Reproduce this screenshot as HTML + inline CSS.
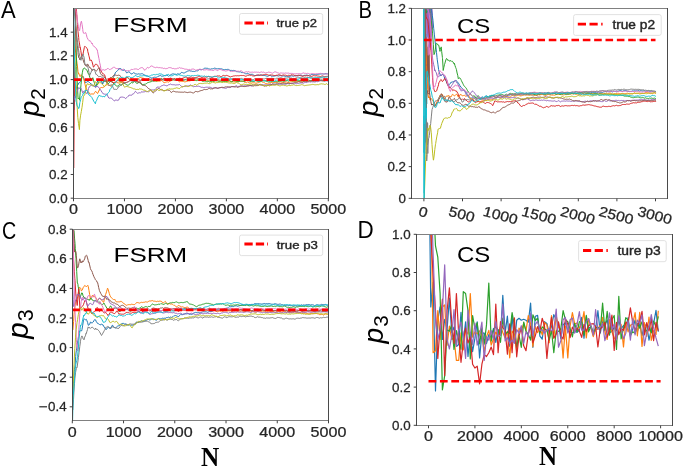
<!DOCTYPE html><html><head><meta charset="utf-8"><style>html,body{margin:0;padding:0;background:#fff;}svg{display:block;will-change:transform;}text{font-family:"Liberation Sans", sans-serif;}.serifb{font-family:"Liberation Serif",serif;font-weight:bold;}</style></head><body>
<svg width="685" height="468" viewBox="0 0 685 468">
<rect width="685" height="468" fill="#fff"/>
<defs>
<clipPath id="clipA"><rect x="73.5" y="8.5" width="255" height="190"/></clipPath>
<clipPath id="clipB"><rect x="411.5" y="8.5" width="256" height="190"/></clipPath>
<clipPath id="clipC"><rect x="72.5" y="229.5" width="256" height="191"/></clipPath>
<clipPath id="clipD"><rect x="416.5" y="234.5" width="256" height="191"/></clipPath>
</defs>
<g clip-path="url(#clipA)">
<polyline points="74.0,110.0 74.7,95.1 75.0,91.6 75.4,90.6 76.1,89.3 76.8,86.9 77.0,85.5 77.5,85.4 78.2,84.5 78.9,82.8 79.6,82.5 80.0,82.2 80.3,81.7 81.0,80.6 81.7,77.7 82.4,77.1 83.1,76.4 83.8,77.9 84.0,78.6 84.5,79.6 85.2,82.6 85.9,82.3 86.6,82.2 87.3,81.7 88.0,81.4 88.0,81.8 88.7,81.8 89.4,82.5 90.1,83.0 90.8,83.9 91.5,84.2 92.2,84.6 92.9,85.7 93.6,85.9 94.0,86.1 94.3,86.1 95.0,86.9 95.7,86.7 96.4,85.3 97.1,82.7 97.8,80.8 98.5,80.1 99.2,80.2 99.9,80.5 100.0,79.8 100.6,80.7 101.3,82.1 102.0,82.1 102.7,84.0 103.4,82.1 104.1,80.8 104.8,80.2 105.0,80.5 105.5,81.3 106.2,81.9 106.9,82.5 107.6,82.1 108.3,81.4 109.0,81.3 109.7,80.8 110.0,81.2 110.4,81.1 111.1,79.9 111.8,79.5 112.5,78.8 113.2,77.8 113.9,76.3 114.0,76.2 114.6,74.8 115.3,72.8 116.0,71.9 116.7,71.4 117.4,70.7 118.1,70.2 118.8,69.2 119.0,68.2 119.5,69.0 120.2,68.3 120.9,69.0 121.6,69.3 122.3,70.2 123.0,70.3 123.7,70.3 124.4,69.6 125.0,70.7 125.1,70.9 125.8,71.3 126.5,72.8 127.2,72.8 127.9,72.1 128.6,71.9 129.3,71.8 130.0,72.9 130.7,73.6 131.4,74.0 132.0,73.5 132.1,73.9 132.8,73.3 133.5,72.7 134.2,73.0 134.9,73.2 135.6,74.1 136.3,74.0 137.0,73.9 137.7,74.2 138.4,73.9 139.0,73.8 139.1,73.9 139.8,74.1 140.5,74.0 141.2,73.8 141.9,73.7 142.6,73.8 143.3,74.1 144.0,74.9 144.7,75.1 145.3,75.2 145.4,75.4 146.1,75.8 146.8,75.8 147.5,76.1 148.2,76.3 148.9,76.6 149.6,77.3 150.3,77.7 151.0,78.0 151.7,77.9 151.8,78.4 152.4,77.8 153.1,77.5 153.8,77.4 154.5,77.2 155.2,77.4 155.9,77.2 156.6,77.2 157.3,77.0 158.0,76.3 158.7,76.1 159.4,75.8 160.0,75.7 160.1,75.5 160.8,75.6 161.5,76.2 162.2,76.4 162.9,75.8 163.6,76.0 164.3,75.6 165.0,75.4 165.7,75.7 166.4,75.1 167.1,75.4 167.8,75.6 168.5,76.3 169.2,75.7 169.9,75.4 170.6,74.8 171.3,74.4 172.0,74.3 172.7,73.9 173.0,74.1 173.4,73.9 174.1,74.0 174.8,74.3 175.5,74.2 176.2,74.4 176.9,74.4 177.6,73.8 178.3,74.0 179.0,73.9 179.7,74.2 180.4,73.4 181.1,72.8 181.8,72.3 182.5,72.6 183.2,72.8 183.9,73.2 184.6,72.8 185.3,72.3 186.0,72.2 186.0,72.1 186.7,71.6 187.4,71.2 188.1,71.0 188.8,70.8 189.5,70.7 190.2,71.0 190.9,71.0 191.6,71.1 192.3,71.4 193.0,71.4 193.7,71.4 194.4,71.5 195.1,71.2 195.8,71.0 196.5,70.8 197.2,71.0 197.9,70.6 198.6,70.2 199.3,69.5 200.0,69.5 200.0,69.6 200.7,69.7 201.4,69.7 202.1,69.4 202.8,69.4 203.5,69.0 204.2,68.4 204.9,68.2 205.6,68.2 206.3,68.3 207.0,68.2 207.7,68.4 208.4,68.8 209.1,68.9 209.8,69.1 210.5,69.2 211.2,69.0 211.9,68.6 212.5,68.8 212.6,68.8 213.3,68.7 214.0,68.4 214.7,68.1 215.4,68.3 216.1,68.7 216.8,68.7 217.5,68.8 218.2,68.7 218.9,68.6 219.6,68.7 220.3,68.8 221.0,68.9 221.7,68.9 222.0,69.2 222.4,69.2 223.1,69.4 223.8,69.7 224.5,69.7 225.2,69.4 225.9,69.6 226.6,69.5 227.3,69.4 228.0,69.3 228.7,69.5 229.4,70.1 230.0,69.9 230.1,70.4 230.8,70.5 231.5,70.4 232.2,70.6 232.9,70.6 233.6,70.4 234.3,70.5 235.0,70.7 235.7,70.9 236.4,71.7 237.1,71.7 237.8,71.7 238.5,71.8 239.2,71.9 239.9,71.9 240.0,71.8 240.6,71.9 241.3,72.5 242.0,72.5 242.7,72.6 243.4,72.6 244.1,72.7 244.8,73.2 245.5,73.9 246.2,73.7 246.9,73.8 247.6,73.4 248.3,73.7 249.0,74.2 249.7,74.2 250.0,74.6 250.4,74.4 251.1,74.2 251.8,74.4 252.5,74.3 253.2,74.9 253.9,75.1 254.6,75.5 255.3,75.5 256.0,75.5 256.7,75.2 257.4,74.9 258.1,75.5 258.8,75.4 259.5,75.4 260.2,75.0 260.9,74.7 261.6,75.0 262.3,75.3 263.0,75.8 263.7,75.4 264.4,75.5 265.1,75.6 265.8,75.8 266.5,76.0 267.2,76.2 267.9,76.3 268.6,75.9 269.3,75.5 270.0,75.4 270.0,75.6 270.7,75.5 271.4,76.2 272.1,76.2 272.8,76.1 273.5,76.2 274.2,76.2 274.9,75.9 275.6,75.8 276.3,75.6 277.0,75.8 277.7,75.8 278.4,76.0 279.1,76.0 279.8,75.5 280.5,75.6 281.2,75.8 281.9,76.1 282.6,76.0 283.3,75.9 284.0,75.9 284.7,76.2 285.4,76.5 286.1,76.4 286.8,76.2 287.5,76.4 288.2,76.4 288.9,76.4 289.6,76.2 290.0,76.4 290.3,76.1 291.0,76.3 291.7,75.7 292.4,76.0 293.1,76.1 293.8,76.2 294.5,75.9 295.2,75.8 295.9,75.6 296.6,75.7 297.3,75.9 298.0,76.0 298.7,75.7 299.4,75.5 300.1,75.1 300.8,75.2 301.5,75.3 302.2,75.8 302.9,75.8 303.6,75.7 304.3,75.4 305.0,75.3 305.7,75.3 306.4,75.1 307.1,75.3 307.8,75.2 308.5,75.5 309.2,75.1 309.9,75.1 310.0,75.3 310.6,75.2 311.3,74.5 312.0,74.6 312.7,74.6 313.4,74.6 314.1,74.5 314.8,74.5 315.5,74.6 316.2,74.7 316.9,74.7 317.6,74.4 318.3,74.2 319.0,74.3 319.7,74.0 320.4,74.0 321.1,73.9 321.8,73.9 322.5,73.8 323.2,74.0 323.9,73.9 324.6,73.9 325.3,73.7 326.0,73.6 326.7,73.8 327.4,73.8 328.0,74.3" fill="none" stroke="#1f77b4" stroke-width="1.0" stroke-linejoin="round"/>
<polyline points="73.8,40.0 74.5,43.0 75.2,48.4 75.5,52.3 75.9,53.6 76.6,60.3 77.0,63.9 77.3,65.1 78.0,71.6 78.7,74.2 79.0,73.7 79.4,74.6 80.1,76.6 80.8,75.8 80.9,74.7 81.5,75.2 82.2,75.7 82.9,77.2 83.0,78.0 83.6,79.0 84.3,81.1 85.0,84.3 85.7,87.1 86.0,88.5 86.4,88.5 87.1,90.4 87.8,91.9 88.5,91.9 89.2,93.0 89.9,93.9 90.0,93.7 90.6,94.4 91.3,94.0 92.0,93.8 92.7,94.0 93.4,94.3 94.1,93.2 94.8,92.5 95.3,91.9 95.5,91.2 96.2,91.9 96.9,92.9 97.6,93.5 98.3,92.0 99.0,90.7 99.0,90.9 99.7,88.7 100.4,87.8 101.1,87.5 101.8,87.5 102.5,87.6 103.2,87.1 103.2,87.0 103.9,87.3 104.6,86.5 105.3,85.7 106.0,84.9 106.7,84.8 107.4,84.4 108.0,85.0 108.1,85.5 108.8,85.1 109.5,85.4 110.2,85.9 110.9,86.0 111.6,86.2 112.3,84.8 112.4,85.0 113.0,84.2 113.7,83.3 114.4,83.1 115.1,82.3 115.8,82.4 116.5,82.1 117.2,82.4 117.9,83.2 118.0,82.5 118.6,83.1 119.3,83.1 120.0,83.1 120.7,82.7 121.4,82.7 122.1,81.7 122.8,81.8 123.0,81.8 123.5,81.2 124.2,80.6 124.9,80.0 125.6,78.8 126.3,77.6 127.0,77.6 127.7,77.6 128.0,77.6 128.4,78.1 129.1,78.7 129.8,79.1 130.5,78.9 131.2,78.9 131.9,79.3 132.6,79.5 133.3,79.3 134.0,79.5 134.7,79.5 135.4,79.9 136.1,80.0 136.8,79.7 137.5,79.2 138.2,79.0 138.9,78.2 139.6,77.8 140.0,77.4 140.3,77.4 141.0,77.5 141.7,77.9 142.4,78.0 143.1,78.4 143.8,78.2 144.5,78.8 145.2,79.0 145.9,79.8 146.6,80.1 147.3,79.7 148.0,79.5 148.7,79.4 149.4,80.0 150.0,80.4 150.1,80.7 150.8,81.0 151.5,80.5 152.2,80.7 152.9,80.5 153.6,80.8 154.3,80.9 155.0,81.0 155.7,81.1 156.4,81.3 157.1,81.3 157.8,81.2 158.5,81.2 159.2,81.4 159.9,80.9 160.0,81.1 160.6,80.8 161.3,80.6 162.0,80.4 162.7,81.3 163.4,82.1 164.1,82.9 164.8,82.5 165.5,82.3 166.2,82.1 166.9,81.8 167.6,81.8 168.3,82.2 169.0,81.8 169.7,81.3 170.4,81.0 171.1,80.6 171.8,80.3 172.5,80.1 173.2,79.8 173.9,80.2 174.6,80.2 175.3,80.2 176.0,80.3 176.7,80.3 177.4,80.1 178.1,80.8 178.8,81.5 179.5,81.8 180.0,81.5 180.2,81.3 180.9,81.4 181.6,81.4 182.3,81.4 183.0,81.6 183.7,81.4 184.4,81.8 185.1,81.8 185.8,81.7 186.5,81.5 187.2,81.3 187.9,81.1 188.6,80.9 189.3,80.9 190.0,81.1 190.7,80.5 191.4,80.1 192.1,80.2 192.8,80.0 193.5,80.1 194.2,79.9 194.9,80.0 195.6,80.1 196.3,80.0 197.0,79.5 197.7,79.7 198.4,80.1 199.1,80.6 199.8,80.2 200.0,80.1 200.5,80.3 201.2,80.2 201.9,80.0 202.6,80.2 203.3,79.8 204.0,79.8 204.7,80.0 205.4,79.8 206.1,80.1 206.8,80.0 207.5,80.4 208.2,80.7 208.9,81.0 209.6,80.9 210.3,80.9 211.0,80.8 211.7,80.8 212.4,80.5 213.1,80.5 213.8,80.9 214.5,80.9 215.2,80.8 215.9,80.5 216.6,80.6 217.3,80.3 218.0,80.3 218.7,80.4 219.4,80.8 220.1,80.8 220.8,80.6 221.5,80.6 222.2,80.8 222.9,81.0 223.6,80.6 224.3,80.9 225.0,81.0 225.0,80.7 225.7,80.7 226.4,81.0 227.1,81.1 227.8,81.4 228.5,81.3 229.2,81.3 229.9,82.1 230.6,81.7 231.3,81.5 232.0,81.2 232.7,81.6 233.4,81.9 234.1,81.9 234.8,82.0 235.5,81.9 236.2,81.8 236.9,81.5 237.6,81.7 238.3,81.7 239.0,81.9 239.7,81.2 240.4,81.2 241.1,81.2 241.8,81.3 242.5,81.2 243.2,81.1 243.9,81.7 244.6,82.2 245.3,82.4 246.0,82.2 246.7,82.3 247.4,81.9 248.1,82.3 248.8,82.7 249.5,82.9 250.0,83.0 250.2,82.9 250.9,83.0 251.6,83.0 252.3,82.8 253.0,82.9 253.7,82.8 254.4,82.8 255.1,83.1 255.8,83.1 256.5,83.1 257.2,82.8 257.9,83.0 258.6,82.6 259.3,82.2 260.0,81.9 260.7,81.7 261.4,81.5 262.1,82.0 262.8,82.2 263.5,82.3 264.2,82.6 264.9,83.0 265.6,83.6 266.3,83.5 267.0,83.8 267.7,83.8 268.4,83.2 269.1,83.1 269.8,83.1 270.0,82.9 270.5,83.0 271.2,82.6 271.9,82.4 272.6,82.4 273.3,82.5 274.0,82.2 274.7,82.6 275.4,82.5 276.1,82.7 276.8,82.8 277.5,82.0 278.2,82.0 278.9,81.8 279.6,81.8 280.3,81.9 281.0,81.8 281.7,82.3 282.4,82.4 283.1,82.6 283.8,82.4 284.5,82.2 285.2,82.3 285.9,82.0 286.6,81.9 287.3,82.3 288.0,82.4 288.7,82.4 289.4,82.7 290.0,82.2 290.1,82.2 290.8,81.7 291.5,81.4 292.2,81.4 292.9,81.6 293.6,81.3 294.3,81.6 295.0,81.5 295.7,81.3 296.4,81.2 297.1,81.4 297.8,81.7 298.5,81.6 299.2,81.8 299.9,81.5 300.6,81.7 301.3,81.8 302.0,81.8 302.7,82.1 303.4,81.6 304.1,81.1 304.8,80.9 305.5,81.0 306.2,81.3 306.9,81.5 307.6,81.4 308.3,81.4 309.0,80.7 309.7,80.8 310.0,81.3 310.4,81.0 311.1,80.8 311.8,80.8 312.5,80.7 313.2,80.6 313.9,80.8 314.6,80.5 315.3,80.4 316.0,80.8 316.7,80.9 317.4,81.1 318.1,81.1 318.8,81.0 319.5,80.5 320.2,80.4 320.9,80.6 321.6,80.7 322.3,80.8 323.0,80.8 323.7,80.4 324.4,80.0 325.1,79.9 325.8,79.8 326.5,80.0 327.2,80.2 327.9,80.4 328.0,80.3" fill="none" stroke="#ff7f0e" stroke-width="1.0" stroke-linejoin="round"/>
<polyline points="75.3,8.0 76.0,42.1 76.7,66.5 77.0,77.1 77.4,86.1 78.0,97.6 78.1,99.0 78.8,98.2 79.5,98.8 79.5,100.2 80.2,92.8 80.9,85.8 81.0,84.5 81.6,78.0 82.3,72.8 83.0,69.3 83.0,68.9 83.7,68.6 84.4,68.1 85.1,68.4 85.8,69.5 86.0,69.3 86.5,69.7 87.2,70.8 87.9,72.8 88.6,74.2 89.0,74.3 89.3,75.6 90.0,77.8 90.7,79.0 91.4,79.2 92.1,79.5 92.7,78.1 92.8,77.7 93.5,80.1 94.2,82.3 94.9,84.8 95.6,85.6 96.3,84.9 97.0,85.3 97.7,83.8 98.0,83.4 98.4,82.7 99.1,81.2 99.8,79.7 100.5,80.4 101.2,81.0 101.9,80.7 102.6,80.9 103.3,80.9 104.0,80.9 104.7,81.5 105.4,81.1 106.0,81.0 106.1,81.0 106.8,81.8 107.5,82.7 108.2,83.8 108.9,82.9 109.6,82.5 110.3,81.4 111.0,81.3 111.7,81.9 112.0,81.4 112.4,82.0 113.1,83.0 113.8,83.4 114.5,84.2 115.2,85.1 115.9,85.4 116.6,86.0 117.3,86.1 118.0,86.1 118.7,85.6 119.0,85.4 119.4,84.4 120.1,84.7 120.8,85.0 121.5,85.3 122.2,84.2 122.9,83.6 123.6,83.0 124.0,82.8 124.3,83.3 125.0,83.7 125.7,84.1 126.4,84.6 127.1,85.1 127.8,85.2 128.2,85.1 128.5,85.0 129.2,84.5 129.9,83.9 130.6,83.1 131.3,82.6 132.0,82.5 132.7,83.0 133.0,82.8 133.4,82.0 134.1,82.0 134.8,81.3 135.5,82.2 136.2,83.0 136.9,83.5 137.6,83.3 138.3,83.0 138.7,82.3 139.0,82.2 139.7,82.8 140.4,83.3 141.1,83.8 141.8,84.6 142.5,84.6 143.2,84.5 143.9,84.4 144.6,84.3 145.0,84.4 145.3,84.1 146.0,83.9 146.7,83.4 147.4,82.8 148.1,82.5 148.8,82.4 149.5,82.1 150.2,81.9 150.9,81.8 151.6,81.6 151.8,81.4 152.3,80.8 153.0,81.0 153.7,81.0 154.4,80.9 155.1,80.8 155.8,80.8 156.5,80.9 157.2,80.5 157.9,80.7 158.6,80.4 159.3,80.2 160.0,79.5 160.7,78.7 161.4,78.4 162.1,79.0 162.8,79.5 163.0,79.7 163.5,80.2 164.2,80.1 164.9,80.3 165.6,80.2 166.3,79.7 167.0,79.6 167.7,79.4 168.4,79.7 169.1,79.7 169.8,80.2 170.5,80.1 171.2,80.2 171.9,80.4 172.6,80.0 173.3,79.2 174.0,78.6 174.7,78.8 175.4,79.3 176.1,80.4 176.8,80.2 177.5,79.8 178.2,80.1 178.9,79.4 179.6,79.4 180.0,79.5 180.3,79.5 181.0,79.5 181.7,80.0 182.4,80.4 183.1,80.4 183.8,80.2 184.5,79.9 185.2,79.7 185.9,79.8 186.6,80.0 187.3,80.0 188.0,80.1 188.7,79.9 189.4,79.7 190.1,79.8 190.8,80.0 191.5,80.0 192.2,80.1 192.9,80.2 193.6,79.9 194.3,80.1 195.0,80.1 195.7,80.3 196.4,80.6 197.1,80.6 197.8,80.1 198.5,80.3 199.2,80.5 199.9,80.2 200.0,80.2 200.6,80.5 201.3,80.5 202.0,81.2 202.7,81.3 203.4,81.3 204.1,81.1 204.8,81.0 205.5,81.2 206.2,81.3 206.9,81.3 207.6,81.4 208.3,81.3 209.0,81.6 209.7,82.0 210.4,81.6 211.1,81.8 211.8,81.5 212.5,81.2 213.2,81.4 213.9,81.4 214.6,81.0 215.3,80.8 216.0,80.6 216.7,80.9 217.4,80.9 218.1,81.4 218.8,81.8 219.5,81.6 220.2,81.6 220.9,81.8 221.6,81.8 222.3,81.8 223.0,81.7 223.7,81.5 224.4,81.5 225.0,81.3 225.1,81.5 225.8,81.6 226.5,81.5 227.2,81.1 227.9,81.0 228.6,80.7 229.3,80.4 230.0,80.7 230.7,81.1 231.4,82.0 232.1,81.9 232.8,81.5 233.5,80.7 234.2,80.8 234.9,81.0 235.6,81.0 236.3,81.2 237.0,81.4 237.7,81.6 238.4,81.5 239.1,81.4 239.8,81.2 240.5,81.1 241.2,81.1 241.9,81.1 242.6,81.2 243.3,81.2 244.0,81.2 244.7,81.5 245.4,81.0 246.1,80.7 246.8,80.4 247.5,80.4 248.2,80.7 248.9,81.0 249.6,81.0 250.0,81.0 250.3,81.6 251.0,81.4 251.7,81.4 252.4,81.4 253.1,81.5 253.8,81.5 254.5,81.2 255.2,80.7 255.9,80.6 256.6,81.0 257.3,81.2 258.0,81.7 258.7,81.6 259.4,81.6 260.1,81.3 260.8,81.4 261.5,81.1 262.2,80.8 262.9,80.7 263.6,80.7 264.3,80.8 265.0,80.6 265.7,80.8 266.4,81.3 267.1,81.7 267.8,81.6 268.5,81.9 269.2,82.0 269.9,81.8 270.0,81.8 270.6,81.8 271.3,81.6 272.0,81.4 272.7,81.3 273.4,81.0 274.1,81.0 274.8,81.6 275.5,81.3 276.2,81.6 276.9,81.8 277.6,81.8 278.3,81.5 279.0,81.4 279.7,81.1 280.4,81.1 281.1,81.1 281.8,81.0 282.5,81.0 283.2,81.3 283.9,81.3 284.6,81.2 285.3,81.1 286.0,80.6 286.7,80.5 287.4,80.6 288.1,80.8 288.8,81.2 289.5,81.1 290.0,80.4 290.2,80.7 290.9,80.6 291.6,80.6 292.3,80.8 293.0,80.7 293.7,80.9 294.4,80.8 295.1,80.9 295.8,80.9 296.5,80.9 297.2,80.6 297.9,80.7 298.6,80.6 299.3,80.7 300.0,80.4 300.7,80.6 301.4,80.4 302.1,80.6 302.8,80.6 303.5,80.6 304.2,80.8 304.9,80.8 305.6,80.6 306.3,80.2 307.0,80.1 307.7,80.2 308.4,80.0 309.1,80.5 309.8,80.3 310.0,80.3 310.5,80.5 311.2,80.4 311.9,80.6 312.6,80.8 313.3,80.6 314.0,80.5 314.7,80.3 315.4,80.0 316.1,80.0 316.8,80.3 317.5,80.2 318.2,80.0 318.9,80.1 319.6,80.3 320.3,80.4 321.0,80.2 321.7,80.2 322.4,80.6 323.1,80.7 323.8,80.9 324.5,81.0 325.2,80.7 325.9,80.5 326.6,80.3 327.3,80.6 328.0,80.5 328.0,80.7" fill="none" stroke="#2ca02c" stroke-width="1.0" stroke-linejoin="round"/>
<polyline points="73.8,168.0 74.3,98.8 74.5,81.0 75.0,36.9 75.2,30.5 75.8,8.3 75.9,7.6 76.3,8.7 76.6,11.7 77.3,22.6 77.5,24.3 78.0,31.6 78.7,37.5 78.9,40.6 79.4,42.9 80.1,47.8 80.2,47.3 80.8,50.5 81.5,55.4 81.5,55.1 82.2,55.9 82.9,54.6 83.0,54.0 83.6,51.1 84.3,47.6 84.8,46.3 85.0,46.3 85.7,47.0 86.0,47.4 86.4,47.5 87.1,48.6 87.5,49.0 87.8,51.6 88.5,54.0 88.8,55.6 89.2,56.8 89.9,59.9 90.0,60.6 90.6,60.0 91.3,60.1 92.0,61.7 92.7,64.0 93.0,65.5 93.4,67.1 94.1,66.6 94.8,65.2 95.5,64.2 96.2,64.6 96.6,64.3 96.9,64.4 97.6,65.2 98.3,66.8 99.0,67.8 99.7,68.4 100.0,68.7 100.4,69.7 101.1,71.0 101.8,72.2 102.5,73.5 103.2,73.7 103.2,73.7 103.9,74.3 104.6,74.8 105.3,77.1 106.0,79.8 106.7,82.4 107.0,82.1 107.4,82.2 108.1,81.5 108.8,80.7 109.5,81.1 110.2,81.3 110.9,81.5 111.6,81.6 112.0,82.4 112.3,82.4 113.0,82.3 113.7,82.9 114.4,82.2 115.1,82.4 115.8,81.8 116.5,81.3 117.2,80.9 117.9,80.5 118.6,80.7 119.3,81.2 120.0,81.4 120.0,81.0 120.7,81.5 121.4,81.4 122.1,81.9 122.8,82.2 123.5,82.6 124.2,83.3 124.9,82.4 125.6,82.7 126.3,82.6 127.0,82.1 127.7,81.9 128.4,81.5 129.1,81.4 129.8,80.4 130.0,80.0 130.5,79.3 131.2,79.3 131.9,79.8 132.6,79.8 133.3,80.3 134.0,80.1 134.7,80.5 135.4,80.3 136.1,80.8 136.8,81.3 137.5,81.6 138.2,81.3 138.9,81.3 139.6,81.0 140.0,81.4 140.3,81.3 141.0,80.3 141.7,79.8 142.4,80.4 143.1,80.3 143.8,80.2 144.5,80.3 145.2,80.1 145.9,80.0 146.6,79.6 147.3,79.7 148.0,79.3 148.7,78.9 149.4,79.1 150.0,79.2 150.1,79.4 150.8,79.6 151.5,79.4 152.2,79.1 152.9,79.2 153.6,79.1 154.3,79.7 155.0,79.4 155.7,79.5 156.4,79.5 157.1,79.5 157.8,79.6 158.5,79.4 159.2,79.2 159.9,79.5 160.6,79.4 161.3,79.7 162.0,79.7 162.7,79.3 163.4,78.5 164.1,78.1 164.8,78.6 165.0,78.4 165.5,78.9 166.2,79.3 166.9,78.9 167.6,79.0 168.3,79.0 169.0,78.9 169.7,78.7 170.4,78.1 171.1,78.2 171.8,78.7 172.5,78.7 173.2,78.9 173.9,79.1 174.6,78.9 175.3,79.2 176.0,79.0 176.7,79.2 177.4,79.2 178.1,79.0 178.8,78.4 179.5,78.2 180.2,78.4 180.9,78.4 181.6,78.6 182.3,78.4 183.0,78.2 183.7,77.8 184.4,77.6 185.0,77.5 185.1,77.3 185.8,77.0 186.5,77.3 187.2,77.5 187.9,77.9 188.6,77.9 189.3,77.5 190.0,77.2 190.7,77.2 191.4,77.0 192.1,77.7 192.8,77.4 193.5,77.6 194.2,77.6 194.9,77.5 195.6,77.5 196.3,77.4 197.0,77.3 197.7,76.9 198.4,76.4 199.1,76.1 199.8,76.3 200.0,76.7 200.5,76.8 201.2,77.5 201.9,77.4 202.6,77.5 203.3,77.0 204.0,77.2 204.7,77.1 205.4,76.9 206.1,77.3 206.8,77.1 207.5,76.9 208.2,76.4 208.9,76.6 209.6,76.7 210.3,76.6 211.0,77.3 211.7,77.3 212.4,77.7 213.1,77.1 213.8,76.6 214.5,76.3 215.2,76.3 215.9,76.3 216.6,76.3 217.3,75.9 218.0,76.1 218.7,76.0 219.4,75.9 220.1,76.2 220.8,76.6 221.5,76.6 222.2,75.9 222.9,75.6 223.6,75.4 224.3,75.8 225.0,75.8 225.0,75.6 225.7,75.8 226.4,75.4 227.1,75.6 227.8,75.7 228.5,76.1 229.2,76.2 229.9,77.1 230.6,76.9 231.3,76.6 232.0,76.3 232.7,76.3 233.4,76.0 234.1,75.9 234.8,75.9 235.5,75.7 236.2,75.9 236.9,75.7 237.6,75.7 238.3,75.8 239.0,75.7 239.7,75.7 240.4,75.5 241.1,75.3 241.8,75.6 242.5,75.5 243.2,75.4 243.9,75.6 244.6,75.8 245.3,76.2 246.0,76.1 246.7,75.9 247.4,75.3 248.1,75.3 248.8,75.3 249.5,75.0 250.0,75.2 250.2,75.4 250.9,75.3 251.6,75.2 252.3,75.8 253.0,75.6 253.7,76.0 254.4,76.0 255.1,75.8 255.8,75.5 256.5,75.3 257.2,75.4 257.9,75.3 258.6,74.8 259.3,75.1 260.0,75.1 260.7,75.3 261.4,75.2 262.1,75.1 262.8,74.9 263.5,74.7 264.2,74.7 264.9,74.6 265.6,74.4 266.3,74.4 267.0,74.5 267.7,74.8 268.4,75.1 269.1,75.2 269.8,75.2 270.0,75.2 270.5,74.9 271.2,75.1 271.9,75.0 272.6,75.1 273.3,75.3 274.0,75.5 274.7,75.5 275.4,75.5 276.1,75.2 276.8,75.3 277.5,75.2 278.2,74.8 278.9,74.8 279.6,74.9 280.3,75.1 281.0,75.4 281.7,75.5 282.4,75.2 283.1,75.1 283.8,74.9 284.5,75.2 285.2,75.1 285.9,75.3 286.6,75.5 287.3,75.8 288.0,75.7 288.7,75.2 289.4,75.4 290.0,75.2 290.1,75.3 290.8,75.3 291.5,74.7 292.2,74.9 292.9,75.1 293.6,74.9 294.3,75.4 295.0,75.6 295.7,75.8 296.4,75.7 297.1,75.6 297.8,75.5 298.5,75.2 299.2,75.3 299.9,75.4 300.6,75.7 301.3,75.9 302.0,76.2 302.7,76.3 303.4,76.0 304.1,75.9 304.8,75.7 305.5,75.9 306.2,75.7 306.9,75.7 307.6,75.8 308.3,75.6 309.0,75.8 309.7,76.2 310.0,76.2 310.4,76.3 311.1,76.4 311.8,76.3 312.5,76.1 313.2,75.7 313.9,75.7 314.6,75.8 315.3,75.9 316.0,75.6 316.7,75.8 317.4,76.0 318.1,76.0 318.8,76.2 319.5,76.3 320.2,76.5 320.9,76.7 321.6,76.1 322.3,75.9 323.0,76.0 323.7,76.4 324.4,76.6 325.1,76.4 325.8,76.6 326.5,76.4 327.2,76.5 327.9,76.1 328.0,76.2" fill="none" stroke="#d62728" stroke-width="1.0" stroke-linejoin="round"/>
<polyline points="73.8,100.0 74.5,99.4 75.0,96.1 75.2,97.4 75.9,97.4 76.6,93.4 77.0,91.8 77.3,91.7 78.0,88.6 78.7,87.6 79.0,88.7 79.4,88.2 80.1,88.0 80.8,88.4 80.9,88.1 81.5,89.4 82.2,91.4 82.9,92.9 83.0,91.4 83.6,91.9 84.3,91.0 85.0,90.9 85.7,92.1 86.0,93.0 86.4,93.4 87.1,93.7 87.8,91.6 88.5,88.5 89.2,86.9 89.9,86.6 90.0,86.0 90.6,85.6 91.3,85.4 92.0,85.4 92.7,85.7 93.4,85.4 94.1,85.6 94.8,86.4 95.5,87.6 96.2,87.0 96.6,86.2 96.9,87.1 97.6,86.2 98.3,86.8 99.0,87.9 99.7,88.6 100.0,88.8 100.4,89.8 101.1,90.7 101.8,92.0 102.5,92.8 103.2,93.9 103.9,93.9 104.6,94.2 105.3,94.2 105.8,94.3 106.0,94.3 106.7,94.0 107.4,95.1 108.1,96.9 108.8,98.0 109.5,98.2 110.0,98.3 110.2,98.1 110.9,97.9 111.6,98.2 112.3,98.9 113.0,99.8 113.7,100.5 114.4,100.8 115.0,100.8 115.1,100.4 115.8,99.9 116.5,100.1 117.2,100.1 117.9,100.7 118.6,100.1 119.3,98.7 120.0,97.7 120.0,97.1 120.7,97.3 121.4,97.1 122.1,97.1 122.8,97.1 123.5,97.3 124.2,97.5 124.9,97.8 125.6,98.6 125.6,98.5 126.3,97.9 127.0,97.4 127.7,96.6 128.4,96.3 129.1,95.0 129.8,95.2 130.5,95.2 131.2,95.3 131.9,95.1 132.0,94.6 132.6,94.2 133.3,94.1 134.0,93.2 134.7,92.4 135.4,91.3 136.1,91.8 136.8,92.7 137.5,93.4 138.2,93.1 138.7,92.9 138.9,92.9 139.6,92.7 140.3,93.1 141.0,92.3 141.7,91.7 142.4,92.0 143.1,91.8 143.8,92.0 144.5,91.8 145.0,91.7 145.2,91.4 145.9,91.5 146.6,91.7 147.3,91.6 148.0,91.6 148.7,91.8 149.4,91.3 150.1,90.4 150.8,89.8 151.5,89.9 152.0,90.3 152.2,89.9 152.9,89.9 153.6,89.9 154.3,89.8 155.0,89.7 155.7,88.9 156.4,88.2 157.1,87.0 157.8,87.1 158.5,87.1 159.2,87.3 159.9,86.9 160.6,86.6 161.3,86.0 162.0,85.5 162.7,85.5 163.0,85.3 163.4,85.1 164.1,84.8 164.8,85.4 165.5,85.5 166.2,85.8 166.9,85.7 167.6,85.6 168.3,84.9 169.0,84.3 169.7,84.6 170.4,84.0 171.1,84.5 171.8,84.6 172.5,84.7 173.2,84.8 173.9,84.6 174.6,84.8 175.0,84.9 175.3,85.0 176.0,85.2 176.7,84.8 177.4,84.8 178.1,85.0 178.8,84.6 179.5,84.5 180.2,85.2 180.9,85.8 181.6,86.4 182.3,86.6 183.0,86.7 183.7,86.5 184.4,86.3 185.1,86.3 185.8,86.4 186.5,86.2 187.2,86.1 187.9,85.9 188.6,85.9 189.3,85.6 190.0,85.2 190.0,85.0 190.7,85.0 191.4,85.6 192.1,86.1 192.8,86.1 193.5,86.7 194.2,86.5 194.9,86.5 195.6,86.5 196.3,86.3 197.0,86.2 197.7,86.3 198.4,86.2 199.1,86.3 199.8,86.6 200.5,86.9 201.2,87.3 201.9,87.3 202.6,87.3 203.3,87.6 204.0,87.5 204.7,87.5 205.0,87.3 205.4,87.3 206.1,87.2 206.8,87.2 207.5,87.2 208.2,87.5 208.9,87.0 209.6,87.2 210.3,87.3 211.0,87.6 211.7,87.9 212.4,88.3 213.1,88.0 213.8,87.8 214.5,87.9 215.2,88.0 215.9,88.0 216.6,87.8 217.3,88.0 218.0,88.0 218.7,88.2 219.4,88.0 220.0,87.6 220.1,87.6 220.8,87.7 221.5,87.5 222.2,87.8 222.9,87.7 223.6,87.9 224.3,88.1 225.0,88.1 225.7,88.3 226.4,88.2 227.1,87.6 227.8,87.3 228.5,87.2 229.2,87.4 229.9,87.5 230.6,87.0 231.3,86.8 232.0,86.7 232.7,86.6 233.4,86.9 234.1,86.8 234.8,86.5 235.0,86.3 235.5,86.1 236.2,85.7 236.9,85.9 237.6,86.5 238.3,86.4 239.0,86.5 239.7,86.2 240.4,86.0 241.1,85.7 241.8,86.0 242.5,86.2 243.2,86.0 243.9,85.9 244.6,85.7 245.3,85.8 246.0,86.1 246.7,85.8 247.4,85.9 248.1,85.7 248.8,85.8 249.5,85.7 250.0,85.4 250.2,85.4 250.9,85.8 251.6,85.9 252.3,85.3 253.0,85.0 253.7,84.7 254.4,84.6 255.1,84.4 255.8,84.6 256.5,84.8 257.2,84.8 257.9,84.4 258.6,84.8 259.3,84.5 260.0,84.3 260.7,84.6 261.4,84.7 262.1,84.5 262.8,84.6 263.5,84.8 264.2,84.9 264.9,84.8 265.6,84.9 266.3,84.8 267.0,84.9 267.7,84.9 268.4,84.7 269.1,84.5 269.8,84.4 270.0,84.6 270.5,84.3 271.2,84.6 271.9,84.3 272.6,84.2 273.3,84.2 274.0,84.1 274.7,83.9 275.4,83.9 276.1,83.9 276.8,84.0 277.5,84.3 278.2,84.6 278.9,84.3 279.6,84.3 280.3,84.3 281.0,84.1 281.7,84.4 282.4,84.5 283.1,84.1 283.8,84.2 284.5,84.3 285.2,84.2 285.9,84.1 286.6,84.0 287.3,83.6 288.0,83.8 288.7,83.8 289.4,83.6 290.0,83.8 290.1,83.6 290.8,83.4 291.5,83.2 292.2,83.5 292.9,83.6 293.6,83.7 294.3,83.7 295.0,83.8 295.7,83.5 296.4,83.7 297.1,83.7 297.8,83.3 298.5,83.5 299.2,83.2 299.9,83.1 300.6,83.0 301.3,82.9 302.0,83.0 302.7,83.0 303.4,83.2 304.1,82.9 304.8,82.5 305.5,82.5 306.2,82.6 306.9,82.4 307.6,82.1 308.3,82.0 309.0,81.7 309.7,81.8 310.0,81.7 310.4,82.0 311.1,81.9 311.8,81.7 312.5,81.9 313.2,81.9 313.9,81.8 314.6,82.0 315.3,81.9 316.0,81.7 316.7,81.5 317.4,81.7 318.1,81.6 318.8,81.2 319.5,81.1 320.2,80.7 320.9,80.9 321.6,80.7 322.3,80.7 323.0,80.7 323.7,80.9 324.4,80.8 325.1,81.0 325.8,80.8 326.5,80.8 327.2,81.1 327.9,80.7 328.0,81.0" fill="none" stroke="#9467bd" stroke-width="1.0" stroke-linejoin="round"/>
<polyline points="74.6,8.0 75.3,18.4 76.0,28.5 76.7,38.3 77.4,45.8 78.0,52.2 78.1,54.2 78.8,57.9 79.5,58.2 80.0,60.0 80.2,58.6 80.9,57.5 81.6,56.3 82.3,58.7 83.0,58.5 83.0,59.4 83.7,61.9 84.4,63.5 85.1,65.1 85.8,65.9 86.0,66.0 86.5,66.3 87.2,64.4 87.9,64.2 88.6,66.2 89.3,66.6 90.0,68.0 90.0,67.9 90.7,68.1 91.4,69.1 92.1,70.6 92.8,70.0 93.5,69.6 94.0,69.6 94.2,69.2 94.9,69.6 95.6,70.5 96.3,71.0 97.0,70.5 97.7,69.3 98.4,68.3 99.1,67.9 99.3,68.2 99.8,71.2 100.5,73.6 101.2,74.6 101.9,75.1 102.6,75.1 103.0,76.0 103.3,75.8 104.0,76.5 104.7,77.8 105.4,77.9 106.1,79.3 106.8,80.7 107.0,81.3 107.5,81.4 108.2,80.8 108.9,79.3 109.6,78.6 110.3,77.5 111.0,77.4 111.0,77.4 111.7,77.6 112.4,76.9 113.1,76.0 113.8,75.2 114.5,74.8 115.2,75.0 115.9,75.2 116.4,75.5 116.6,75.3 117.3,75.4 118.0,75.6 118.7,75.1 119.4,75.4 120.1,75.6 120.8,76.8 121.5,77.6 122.2,78.1 122.9,78.6 123.6,78.3 124.0,78.7 124.3,78.5 125.0,78.5 125.7,78.2 126.4,77.3 127.1,77.1 127.8,77.7 128.5,78.7 129.2,79.2 129.9,79.9 130.6,80.2 131.3,80.3 132.0,80.9 132.0,80.6 132.7,80.4 133.4,81.1 134.1,81.2 134.8,81.2 135.5,81.6 136.2,81.5 136.9,81.7 137.6,82.1 138.3,82.4 139.0,82.5 139.7,82.1 140.0,82.5 140.4,82.2 141.1,83.0 141.8,84.5 142.5,85.2 143.2,85.3 143.9,85.5 144.6,85.5 145.3,85.6 145.3,85.6 146.0,86.1 146.7,86.7 147.4,87.3 148.1,88.3 148.8,88.7 149.5,89.1 150.2,89.4 150.9,90.4 151.6,90.8 152.3,92.0 153.0,92.8 153.0,93.0 153.7,92.7 154.4,92.1 155.1,91.4 155.8,90.7 156.5,90.2 157.2,89.7 157.9,88.7 158.6,88.5 159.3,88.7 160.0,89.1 160.0,89.0 160.7,89.6 161.4,89.9 162.1,90.1 162.8,89.9 163.5,90.6 164.2,90.6 164.9,90.4 165.6,90.4 166.3,90.2 167.0,90.2 167.7,90.0 168.4,90.4 169.1,90.0 169.8,90.7 170.0,90.8 170.5,91.5 171.2,92.5 171.9,92.2 172.6,91.5 173.3,91.2 174.0,91.1 174.7,91.6 175.4,91.8 176.1,92.0 176.8,91.9 177.5,91.9 178.2,92.0 178.9,92.2 179.6,92.1 180.3,92.2 181.0,92.1 181.7,92.2 182.4,92.2 183.1,92.3 183.8,92.2 184.5,91.9 185.2,92.1 185.9,92.2 186.0,92.4 186.6,92.4 187.3,92.6 188.0,92.5 188.7,92.3 189.4,92.2 190.1,92.2 190.8,92.1 191.5,92.4 192.2,92.6 192.9,93.0 193.6,93.1 194.3,92.3 195.0,91.7 195.7,91.4 196.4,91.5 197.1,91.6 197.8,91.9 198.5,91.6 199.2,91.2 199.9,91.1 200.0,90.9 200.6,90.7 201.3,90.5 202.0,90.5 202.7,90.2 203.4,89.8 204.1,89.5 204.8,89.4 205.5,89.6 206.2,89.6 206.9,89.4 207.6,89.3 208.3,88.7 209.0,88.6 209.7,88.4 210.4,88.9 211.1,88.8 211.8,88.8 212.5,89.0 212.5,88.8 213.2,88.6 213.9,88.2 214.6,87.9 215.3,87.6 216.0,87.9 216.7,88.1 217.4,88.4 218.1,88.2 218.8,87.9 219.5,87.6 220.2,87.5 220.9,87.5 221.6,87.3 222.3,87.3 223.0,87.3 223.7,87.5 224.4,87.3 225.1,87.0 225.8,86.8 226.5,86.9 227.2,86.8 227.9,86.8 228.6,87.0 229.3,86.9 230.0,86.9 230.0,87.1 230.7,87.1 231.4,86.6 232.1,86.7 232.8,86.6 233.5,86.5 234.2,86.9 234.9,86.8 235.6,86.9 236.3,86.7 237.0,87.3 237.7,87.4 238.4,87.1 239.1,87.0 239.8,86.5 240.5,86.3 241.2,86.3 241.9,86.2 242.6,86.1 243.3,86.4 244.0,86.8 244.7,86.5 245.4,86.5 246.1,86.3 246.8,86.1 247.5,85.9 248.2,85.8 248.9,85.9 249.6,85.5 250.0,85.6 250.3,85.6 251.0,85.4 251.7,85.7 252.4,85.9 253.1,86.1 253.8,85.9 254.5,85.6 255.2,85.6 255.9,85.8 256.6,85.6 257.3,85.6 258.0,85.5 258.7,85.4 259.4,84.6 260.1,85.0 260.8,85.0 261.5,85.1 262.2,85.4 262.9,85.5 263.6,85.7 264.3,86.2 265.0,85.8 265.7,85.9 266.4,86.0 267.1,85.6 267.8,85.5 268.5,85.3 269.2,85.1 269.9,85.2 270.0,85.1 270.6,84.9 271.3,84.7 272.0,84.2 272.7,83.9 273.4,84.1 274.1,84.6 274.8,84.9 275.5,84.6 276.2,84.3 276.9,84.0 277.6,83.8 278.3,83.4 279.0,83.5 279.7,83.2 280.4,83.5 281.1,83.6 281.8,83.4 282.5,83.3 283.2,83.1 283.9,83.2 284.6,83.3 285.3,83.6 286.0,83.5 286.7,83.4 287.4,83.4 288.1,83.0 288.8,83.3 289.5,83.8 290.0,83.8 290.2,84.0 290.9,83.3 291.6,83.3 292.3,83.2 293.0,82.8 293.7,82.9 294.4,82.4 295.1,82.4 295.8,82.5 296.5,82.5 297.2,82.3 297.9,81.9 298.6,81.7 299.3,81.6 300.0,82.0 300.7,82.0 301.4,82.0 302.1,82.0 302.8,82.0 303.5,81.6 304.2,81.5 304.9,81.2 305.6,81.3 306.3,81.5 307.0,81.5 307.7,81.1 308.4,81.2 309.1,80.9 309.8,81.0 310.0,81.2 310.5,81.0 311.2,81.0 311.9,80.7 312.6,80.7 313.3,81.0 314.0,81.1 314.7,81.0 315.4,81.1 316.1,81.0 316.8,80.3 317.5,80.3 318.2,80.0 318.9,79.2 319.6,79.6 320.3,80.0 321.0,80.2 321.7,80.1 322.4,80.0 323.1,80.1 323.8,80.1 324.5,80.1 325.2,80.0 325.9,80.2 326.6,80.0 327.3,80.1 328.0,80.2 328.0,80.1" fill="none" stroke="#8c564b" stroke-width="1.0" stroke-linejoin="round"/>
<polyline points="74.4,8.0 75.1,8.5 75.8,9.7 75.8,9.5 76.5,14.6 76.9,15.1 77.2,19.1 77.9,23.8 78.3,26.5 78.6,28.3 79.3,30.9 79.6,30.5 80.0,27.9 80.5,24.0 80.7,23.2 81.4,21.1 81.5,21.6 82.1,24.7 82.8,29.7 82.9,31.1 83.5,33.2 84.2,33.4 84.8,33.1 84.9,33.2 85.6,32.5 86.3,34.3 87.0,37.4 87.5,38.0 87.7,39.0 88.4,39.8 89.1,40.6 89.4,41.2 89.8,40.5 90.5,41.3 91.2,42.4 91.9,43.7 92.0,43.0 92.6,44.5 93.3,45.7 94.0,46.5 94.0,46.9 94.7,46.8 95.4,47.5 96.1,48.1 96.8,49.8 97.3,49.9 97.5,51.2 98.2,54.9 98.9,58.4 99.3,60.3 99.6,62.3 100.3,65.2 100.6,67.0 101.0,69.5 101.2,70.9 101.7,70.8 102.4,69.8 103.1,69.5 103.8,69.9 104.5,70.2 105.2,69.9 105.9,69.7 106.0,69.9 106.6,69.2 107.3,68.7 108.0,68.3 108.7,69.0 109.4,69.5 110.1,69.7 110.8,68.9 111.5,69.0 112.2,68.1 112.4,68.0 112.9,67.8 113.6,67.1 114.3,67.2 115.0,67.8 115.7,68.3 116.4,68.5 117.1,68.6 117.8,68.8 118.0,68.9 118.5,68.2 119.2,68.9 119.9,69.7 120.6,69.7 121.3,70.0 122.0,70.2 122.7,69.4 123.4,69.2 124.1,69.7 124.8,70.4 125.5,71.2 125.6,70.8 126.2,70.7 126.9,70.5 127.6,70.8 128.3,70.5 129.0,70.7 129.7,70.8 130.4,70.2 131.1,69.5 131.8,69.4 132.5,69.5 133.2,69.5 133.9,68.8 134.6,69.1 135.0,69.1 135.3,69.0 136.0,68.8 136.7,69.0 137.4,69.1 138.1,69.9 138.8,69.2 139.5,68.5 140.2,68.0 140.9,68.0 141.6,67.6 142.3,67.6 143.0,68.1 143.7,68.8 144.4,70.1 145.0,70.2 145.1,70.2 145.8,69.4 146.5,68.3 147.2,67.5 147.9,67.4 148.6,68.0 149.3,67.6 150.0,66.8 150.7,66.6 151.4,65.7 151.8,66.2 152.1,66.0 152.8,66.6 153.5,67.0 154.2,67.2 154.9,67.5 155.6,67.7 156.3,67.3 157.0,67.3 157.7,67.4 158.4,67.7 159.1,67.6 159.8,67.7 160.0,67.4 160.5,67.9 161.2,68.0 161.9,67.8 162.6,68.0 163.3,68.5 164.0,68.3 164.7,68.3 165.4,68.7 166.1,68.4 166.8,68.7 167.5,68.4 168.2,67.9 168.9,67.6 169.6,67.6 170.3,67.7 171.0,67.7 171.7,68.1 172.4,68.5 173.0,68.7 173.1,68.6 173.8,68.4 174.5,68.8 175.2,68.8 175.9,68.7 176.6,68.7 177.3,68.3 178.0,68.1 178.7,68.2 179.4,67.5 180.1,68.0 180.8,68.2 181.5,68.1 182.2,68.2 182.9,68.7 183.6,68.6 184.3,69.0 185.0,69.1 185.7,69.2 186.0,69.2 186.4,69.2 187.1,69.3 187.8,69.5 188.5,69.7 189.2,69.3 189.9,69.7 190.6,69.9 191.3,69.3 192.0,69.3 192.7,69.0 193.4,69.0 194.1,69.4 194.8,69.6 195.5,70.2 196.2,70.1 196.9,70.0 197.6,69.6 198.3,69.6 199.0,69.7 199.7,69.2 200.0,69.4 200.4,69.2 201.1,69.5 201.8,69.9 202.5,69.5 203.2,69.8 203.9,70.1 204.6,69.9 205.3,69.9 206.0,69.8 206.7,69.6 207.4,69.8 208.1,69.8 208.8,70.2 209.5,70.1 210.2,70.1 210.9,70.1 211.6,70.1 212.0,70.2 212.3,70.3 213.0,70.7 213.7,70.4 214.4,69.8 215.1,69.6 215.8,69.8 216.5,70.1 217.2,70.6 217.9,70.4 218.6,69.9 219.3,69.5 220.0,69.6 220.7,69.6 221.4,69.8 222.1,70.2 222.8,70.5 223.5,70.6 224.2,70.7 224.9,70.6 225.6,71.1 226.3,71.0 227.0,70.6 227.7,70.6 228.4,70.2 229.1,70.4 229.8,70.9 230.0,71.2 230.5,71.4 231.2,71.2 231.9,71.4 232.6,71.4 233.3,71.3 234.0,71.3 234.7,71.2 235.4,70.8 236.1,71.2 236.8,71.1 237.5,71.2 238.2,71.1 238.9,71.3 239.6,71.4 240.3,71.0 241.0,70.7 241.7,71.1 242.4,71.7 243.1,72.2 243.8,72.9 244.5,72.4 245.2,72.1 245.9,71.8 246.6,71.7 247.3,72.1 248.0,71.8 248.7,71.6 249.4,72.1 250.0,72.3 250.1,72.4 250.8,72.2 251.5,72.2 252.2,72.1 252.9,72.2 253.6,72.3 254.3,72.1 255.0,72.1 255.7,72.2 256.4,72.1 257.1,72.1 257.8,72.4 258.5,72.2 259.2,72.7 259.9,72.3 260.6,72.2 261.3,71.9 262.0,72.2 262.7,72.3 263.4,72.1 264.1,72.3 264.8,72.8 265.5,73.0 266.2,72.8 266.9,72.6 267.6,72.5 268.3,72.1 269.0,72.3 269.7,72.3 270.0,72.4 270.4,72.4 271.1,72.9 271.8,72.9 272.5,73.2 273.2,72.8 273.9,72.3 274.6,71.9 275.3,71.8 276.0,72.2 276.7,72.3 277.4,72.7 278.1,72.9 278.8,73.1 279.5,73.4 280.2,73.0 280.9,73.1 281.6,73.0 282.3,73.1 283.0,73.2 283.7,73.1 284.4,73.3 285.1,73.0 285.8,73.0 286.5,73.1 287.2,73.1 287.9,73.2 288.6,73.1 289.3,73.4 290.0,73.4 290.0,73.4 290.7,73.4 291.4,73.4 292.1,73.4 292.8,73.5 293.5,73.8 294.2,73.9 294.9,73.8 295.6,73.9 296.3,73.7 297.0,73.8 297.7,73.8 298.4,73.7 299.1,73.7 299.8,73.7 300.5,73.8 301.2,73.8 301.9,73.6 302.6,73.2 303.3,72.9 304.0,73.0 304.7,73.4 305.4,73.3 306.1,73.6 306.8,73.5 307.5,73.3 308.2,73.4 308.9,73.7 309.6,74.0 310.0,74.2 310.3,74.1 311.0,73.8 311.7,73.6 312.4,73.5 313.1,73.6 313.8,73.8 314.5,73.8 315.2,73.9 315.9,73.9 316.6,73.6 317.3,73.7 318.0,73.8 318.7,73.6 319.4,73.5 320.1,73.3 320.8,73.4 321.5,73.7 322.2,73.9 322.9,73.8 323.6,74.1 324.3,73.9 325.0,74.1 325.7,74.1 326.4,74.0 327.1,73.9 327.8,73.9 328.0,73.9" fill="none" stroke="#e377c2" stroke-width="1.0" stroke-linejoin="round"/>
<polyline points="74.2,8.0 74.9,16.7 75.5,24.2 75.6,26.2 76.3,29.5 77.0,39.0 77.0,38.8 77.7,42.6 78.4,48.5 79.0,52.6 79.1,53.0 79.8,56.3 80.5,59.1 81.0,60.3 81.2,59.6 81.9,57.8 82.6,54.5 83.3,54.2 83.5,55.7 84.0,57.1 84.7,62.4 85.0,64.1 85.4,64.7 86.1,64.3 86.8,65.3 87.0,65.3 87.5,65.7 88.2,68.3 88.9,72.2 89.6,75.7 90.0,74.8 90.3,74.1 91.0,72.3 91.7,70.7 92.4,69.4 93.0,69.7 93.1,69.2 93.8,69.3 94.5,70.3 95.2,71.8 95.9,74.2 96.6,74.9 96.6,74.6 97.3,75.0 98.0,76.2 98.7,76.8 99.4,76.6 100.0,76.4 100.1,76.1 100.8,76.7 101.5,77.1 102.2,77.0 102.9,77.1 103.6,78.7 104.0,78.8 104.3,79.3 105.0,80.4 105.7,81.4 106.4,82.5 107.1,83.2 107.8,84.0 108.5,84.6 109.2,85.7 109.9,84.9 110.0,85.6 110.6,85.0 111.3,84.5 112.0,85.4 112.7,86.5 113.4,88.4 114.1,89.7 114.8,89.1 115.5,89.3 116.2,89.4 116.4,89.8 116.9,89.1 117.6,88.5 118.3,86.9 119.0,86.8 119.7,85.9 120.4,85.5 121.1,84.9 121.8,84.5 122.0,84.0 122.5,84.2 123.2,83.8 123.9,82.7 124.6,82.3 125.3,82.5 126.0,82.3 126.7,82.4 127.4,82.2 128.1,82.0 128.8,81.5 129.5,80.9 130.0,80.9 130.2,80.4 130.9,81.2 131.6,80.9 132.3,81.5 133.0,81.4 133.7,81.5 134.4,81.5 135.1,81.3 135.8,80.8 136.5,80.3 137.2,79.8 137.9,79.2 138.6,79.4 139.3,79.8 140.0,80.1 140.7,80.2 141.4,79.8 142.1,79.4 142.8,79.3 143.5,80.0 144.2,80.0 144.9,80.5 145.0,80.2 145.6,80.0 146.3,80.2 147.0,80.1 147.7,79.6 148.4,79.2 149.1,78.9 149.8,79.7 150.5,79.9 151.2,80.3 151.9,80.4 152.6,80.9 153.3,80.9 154.0,80.7 154.7,80.6 155.4,80.1 156.1,79.4 156.8,79.3 157.5,79.1 158.2,79.3 158.9,79.4 159.6,79.4 160.3,79.4 161.0,79.5 161.7,79.4 162.4,79.8 163.1,79.6 163.8,79.5 164.5,79.3 165.2,79.2 165.9,79.3 166.6,79.5 167.3,79.1 168.0,78.8 168.7,78.4 169.4,78.4 170.0,78.4 170.1,78.7 170.8,79.1 171.5,79.2 172.2,79.2 172.9,79.3 173.6,79.8 174.3,80.0 175.0,80.2 175.7,80.6 176.4,79.8 177.1,79.6 177.8,79.2 178.5,79.3 179.2,78.8 179.9,79.0 180.6,79.2 181.3,79.4 182.0,79.2 182.7,79.4 183.4,79.4 184.1,80.0 184.8,79.7 185.5,79.4 186.2,79.3 186.9,78.7 187.6,78.3 188.3,77.8 189.0,78.0 189.7,77.9 190.4,78.6 191.1,78.8 191.8,78.5 192.5,78.8 193.2,79.0 193.9,78.6 194.6,78.5 195.3,78.5 196.0,78.5 196.7,78.2 197.4,78.3 198.1,78.3 198.8,78.5 199.5,78.4 200.0,78.7 200.2,78.9 200.9,79.4 201.6,80.0 202.3,80.0 203.0,79.6 203.7,79.4 204.4,79.3 205.1,79.4 205.8,79.5 206.5,79.1 207.2,79.0 207.9,78.9 208.6,78.8 209.3,78.7 210.0,78.8 210.7,78.8 211.4,79.4 212.1,79.4 212.8,79.4 213.5,79.3 214.2,79.5 214.9,79.4 215.6,79.4 216.3,79.4 217.0,79.2 217.7,79.3 218.4,79.7 219.1,79.9 219.8,80.1 220.5,80.0 221.2,79.9 221.9,80.1 222.6,79.7 223.3,79.6 224.0,79.8 224.7,79.1 225.4,79.0 226.1,78.8 226.8,79.0 227.5,79.5 228.2,79.5 228.9,79.0 229.6,79.3 230.0,79.4 230.3,78.9 231.0,79.1 231.7,79.1 232.4,79.2 233.1,79.3 233.8,79.3 234.5,79.4 235.2,79.1 235.9,79.2 236.6,79.5 237.3,79.6 238.0,79.7 238.7,79.8 239.4,79.4 240.1,78.8 240.8,78.5 241.5,78.4 242.2,78.8 242.9,79.0 243.6,79.4 244.3,79.3 245.0,79.1 245.7,79.0 246.4,79.2 247.1,79.1 247.8,79.2 248.5,79.0 249.2,79.2 249.9,79.0 250.6,79.0 251.3,79.3 252.0,79.7 252.7,79.6 253.4,79.6 254.1,79.1 254.8,78.8 255.5,79.0 256.2,79.0 256.9,79.3 257.6,79.1 258.3,78.9 259.0,78.9 259.7,78.8 260.0,79.1 260.4,79.1 261.1,79.4 261.8,79.4 262.5,79.1 263.2,79.1 263.9,78.8 264.6,78.9 265.3,78.5 266.0,78.5 266.7,78.3 267.4,78.4 268.1,78.6 268.8,78.6 269.5,78.6 270.2,78.8 270.9,78.6 271.6,78.2 272.3,78.3 273.0,78.6 273.7,78.7 274.4,78.8 275.1,79.0 275.8,78.8 276.5,78.3 277.2,78.3 277.9,78.3 278.6,78.3 279.3,78.1 280.0,78.0 280.7,77.7 281.4,77.8 282.1,78.2 282.8,78.4 283.5,78.7 284.2,78.3 284.9,78.2 285.6,78.1 286.3,78.1 287.0,78.0 287.7,77.9 288.4,77.7 289.1,77.5 289.8,77.5 290.0,77.8 290.5,78.2 291.2,78.1 291.9,78.2 292.6,78.8 293.3,78.4 294.0,78.6 294.7,78.5 295.4,78.3 296.1,77.9 296.8,77.8 297.5,77.9 298.2,77.7 298.9,77.9 299.6,77.5 300.3,77.7 301.0,77.6 301.7,77.8 302.4,78.0 303.1,77.8 303.8,78.0 304.5,77.7 305.2,78.1 305.9,77.8 306.6,77.8 307.3,77.5 308.0,77.5 308.7,77.7 309.4,77.7 310.1,77.9 310.8,78.1 311.5,77.8 312.2,77.8 312.9,78.2 313.6,78.0 314.3,78.5 315.0,78.5 315.7,78.4 316.4,78.4 317.1,78.1 317.8,78.1 318.5,78.0 319.2,78.1 319.9,78.2 320.6,77.9 321.3,77.8 322.0,78.0 322.7,77.8 323.4,78.1 324.1,78.3 324.8,78.3 325.5,78.4 326.2,78.5 326.9,78.5 327.6,78.5 328.0,78.4" fill="none" stroke="#7f7f7f" stroke-width="1.0" stroke-linejoin="round"/>
<polyline points="73.6,30.0 74.3,46.9 75.0,59.9 75.5,69.6 75.7,74.9 76.4,90.9 77.0,104.6 77.1,106.0 77.8,117.4 78.5,123.5 79.2,128.0 79.4,129.6 79.9,120.5 80.6,115.2 81.0,113.2 81.3,111.5 82.0,107.4 82.7,102.3 83.4,96.4 83.5,96.5 84.1,95.2 84.8,94.8 85.5,91.1 86.2,86.9 86.9,84.2 87.6,83.9 88.0,83.6 88.3,84.5 89.0,84.9 89.7,84.6 90.4,84.7 91.1,84.7 91.8,85.1 92.5,85.1 92.7,85.2 93.2,86.3 93.9,85.5 94.6,84.0 95.3,81.9 96.0,81.8 96.7,82.6 97.4,83.7 98.1,84.2 98.8,83.2 99.5,82.7 100.0,82.2 100.2,82.6 100.9,83.1 101.6,83.7 102.3,84.2 103.0,84.8 103.7,85.9 104.4,86.6 105.1,85.7 105.8,84.7 106.0,84.6 106.5,84.3 107.2,82.3 107.9,80.9 108.6,80.1 109.3,79.4 110.0,78.9 110.7,78.9 111.4,78.3 112.1,78.3 112.8,78.1 113.0,78.1 113.5,78.1 114.2,78.4 114.9,79.0 115.6,79.0 116.3,78.4 117.0,78.0 117.7,77.3 118.4,78.7 119.0,80.3 119.1,80.7 119.8,82.4 120.5,82.1 121.2,82.2 121.9,82.8 122.6,83.6 123.3,84.9 124.0,86.6 124.7,87.1 125.4,86.9 125.6,87.0 126.1,86.2 126.8,86.5 127.5,86.6 128.2,87.0 128.9,86.7 129.6,87.3 130.3,87.4 131.0,87.8 131.7,87.9 132.0,87.9 132.4,88.2 133.1,88.8 133.8,88.8 134.5,88.9 135.2,89.1 135.9,89.6 136.6,89.5 137.3,89.3 138.0,89.7 138.7,89.4 138.7,89.5 139.4,88.9 140.1,88.9 140.8,89.1 141.5,89.1 142.2,89.3 142.9,89.9 143.6,90.1 144.3,90.2 145.0,90.2 145.7,91.0 146.4,91.2 147.1,91.5 147.8,91.5 148.5,90.9 149.2,90.8 149.9,90.5 150.6,90.2 151.3,90.4 151.8,90.8 152.0,90.9 152.7,91.7 153.4,91.3 154.1,90.7 154.8,90.3 155.5,90.1 156.2,89.6 156.9,89.3 157.6,89.6 158.3,90.2 159.0,90.5 159.7,90.5 160.0,90.1 160.4,89.9 161.1,89.3 161.8,89.5 162.5,90.0 163.2,90.4 163.9,91.3 164.6,90.7 165.3,90.6 166.0,90.1 166.7,89.9 167.4,89.3 168.1,89.1 168.8,89.2 169.5,88.7 170.2,89.2 170.9,88.9 171.6,89.0 172.3,89.0 173.0,89.1 173.0,89.1 173.7,88.7 174.4,88.4 175.1,88.4 175.8,88.1 176.5,87.8 177.2,87.8 177.9,88.4 178.6,88.4 179.3,88.6 180.0,88.3 180.7,87.6 181.4,86.9 182.1,87.1 182.8,86.8 183.5,86.5 184.2,86.1 184.9,86.2 185.6,85.6 186.0,85.9 186.3,85.9 187.0,86.0 187.7,86.6 188.4,86.5 189.1,86.4 189.8,85.9 190.5,85.7 191.2,85.7 191.9,85.6 192.6,85.7 193.3,85.4 194.0,84.7 194.7,84.6 195.4,84.4 196.1,84.9 196.8,85.3 197.5,84.6 198.2,84.0 198.9,83.7 199.6,83.5 200.0,83.7 200.3,83.4 201.0,83.4 201.7,83.6 202.4,83.6 203.1,83.6 203.8,83.3 204.5,83.2 205.2,83.2 205.9,83.1 206.6,83.1 207.3,83.0 208.0,83.1 208.7,83.6 209.4,83.7 210.1,83.3 210.8,83.1 211.5,82.8 212.2,82.1 212.5,82.0 212.9,82.2 213.6,82.5 214.3,82.7 215.0,82.6 215.7,83.0 216.4,82.6 217.1,82.6 217.8,82.5 218.5,82.3 219.2,82.2 219.9,82.2 220.6,81.9 221.3,82.1 222.0,82.4 222.7,82.4 223.4,82.1 224.1,82.3 224.8,82.3 225.5,82.2 226.2,82.3 226.9,82.6 227.6,82.6 228.3,82.8 229.0,82.9 229.7,83.0 230.0,83.0 230.4,83.1 231.1,83.0 231.8,83.0 232.5,83.2 233.2,83.4 233.9,83.7 234.6,83.5 235.3,83.1 236.0,82.6 236.7,82.4 237.4,82.9 238.1,83.0 238.8,83.2 239.5,83.7 240.2,84.4 240.9,84.8 241.6,84.8 242.3,84.5 243.0,84.2 243.7,84.1 244.4,84.2 245.1,84.6 245.8,84.4 246.5,84.3 247.2,84.5 247.9,84.5 248.6,84.4 249.3,84.2 250.0,84.2 250.0,84.1 250.7,84.1 251.4,84.0 252.1,84.3 252.8,84.6 253.5,85.1 254.2,84.9 254.9,84.8 255.6,84.3 256.3,84.1 257.0,84.4 257.7,85.0 258.4,85.3 259.1,84.9 259.8,84.8 260.5,84.3 261.2,84.5 261.9,84.9 262.6,85.5 263.3,85.6 264.0,85.4 264.7,85.4 265.4,85.5 266.1,85.3 266.8,85.6 267.5,85.3 268.2,85.4 268.9,85.5 269.6,86.0 270.0,85.8 270.3,85.6 271.0,85.3 271.7,85.4 272.4,85.2 273.1,85.3 273.8,85.1 274.5,84.9 275.2,85.0 275.9,85.0 276.6,84.8 277.3,85.0 278.0,85.3 278.7,85.6 279.4,85.8 280.1,85.9 280.8,85.7 281.5,85.3 282.2,85.4 282.9,85.0 283.6,85.2 284.3,85.5 285.0,85.6 285.7,85.6 286.4,85.9 287.1,86.0 287.8,85.7 288.5,85.5 289.2,85.3 289.9,85.8 290.0,85.4 290.6,85.6 291.3,85.2 292.0,85.4 292.7,85.1 293.4,84.8 294.1,84.8 294.8,85.2 295.5,85.4 296.2,85.7 296.9,85.3 297.6,85.5 298.3,85.4 299.0,85.3 299.7,85.2 300.4,85.1 301.1,84.7 301.8,84.7 302.5,84.8 303.2,85.0 303.9,85.5 304.6,85.7 305.3,85.5 306.0,85.3 306.7,85.3 307.4,85.2 308.1,85.1 308.8,85.0 309.5,84.9 310.0,84.8 310.2,84.9 310.9,84.6 311.6,84.6 312.3,84.4 313.0,84.4 313.7,84.5 314.4,84.7 315.1,84.9 315.8,84.7 316.5,84.7 317.2,84.7 317.9,84.5 318.6,84.7 319.3,84.2 320.0,84.2 320.7,83.9 321.4,83.8 322.1,83.9 322.8,84.0 323.5,84.0 324.2,84.4 324.9,84.3 325.6,84.3 326.3,83.7 327.0,84.0 327.7,84.5 328.0,84.5" fill="none" stroke="#bcbd22" stroke-width="1.0" stroke-linejoin="round"/>
<polyline points="73.6,8.0 74.3,46.5 74.6,63.6 75.0,72.8 75.7,92.9 76.0,101.1 76.4,102.3 77.0,105.3 77.1,105.6 77.8,106.8 78.3,107.3 78.5,108.4 79.0,108.4 79.2,107.1 79.9,102.4 80.6,99.8 81.0,97.5 81.3,96.9 82.0,96.3 82.7,95.4 83.0,93.4 83.4,93.5 84.1,93.3 84.8,91.7 85.5,91.0 86.0,90.1 86.2,90.6 86.9,90.4 87.6,91.3 88.3,93.3 89.0,95.1 89.7,95.3 90.0,96.1 90.4,95.9 91.1,96.7 91.8,97.4 92.5,98.9 93.2,100.0 93.9,101.7 94.6,102.3 95.3,103.5 95.3,103.8 96.0,101.2 96.7,100.3 97.4,98.2 98.1,96.9 98.8,96.0 99.3,95.0 99.5,95.3 100.2,96.2 100.9,95.9 101.6,96.3 102.3,96.7 103.0,96.4 103.7,96.5 104.4,97.0 104.5,96.5 105.1,96.4 105.8,95.2 106.5,95.1 107.2,94.2 107.9,93.2 108.6,92.4 109.3,91.8 109.8,90.0 110.0,89.5 110.7,88.7 111.4,87.7 112.1,86.4 112.8,85.5 113.5,84.4 114.0,84.1 114.2,83.8 114.9,83.5 115.6,82.9 116.3,81.7 117.0,80.7 117.7,79.8 118.4,78.8 119.0,77.7 119.1,77.9 119.8,78.3 120.5,78.0 121.2,77.7 121.9,77.3 122.6,77.4 123.3,78.0 124.0,78.3 124.7,78.3 125.4,77.3 126.1,76.9 126.8,76.6 127.5,76.7 128.2,76.6 128.9,76.9 129.6,76.7 130.0,77.1 130.3,77.4 131.0,77.9 131.7,77.6 132.4,77.5 133.1,77.3 133.8,76.9 134.5,76.2 135.2,75.4 135.9,75.8 136.6,76.1 137.3,76.6 138.0,76.5 138.7,76.5 139.4,76.2 140.0,75.8 140.1,75.9 140.8,75.8 141.5,75.9 142.2,75.8 142.9,75.8 143.6,75.6 144.3,75.6 145.0,75.8 145.7,75.9 146.4,76.1 147.1,76.0 147.8,76.1 148.5,76.3 149.2,76.2 149.9,75.9 150.6,75.7 151.3,75.2 152.0,75.0 152.7,75.0 153.4,74.6 154.1,74.6 154.8,74.7 155.5,74.8 156.2,74.4 156.9,74.5 157.6,74.4 158.3,74.3 159.0,73.9 159.7,73.7 160.0,73.6 160.4,73.9 161.1,74.2 161.8,74.1 162.5,74.7 163.2,75.1 163.9,75.4 164.6,75.7 165.3,75.4 166.0,75.3 166.7,75.1 167.4,74.7 168.1,74.4 168.8,74.5 169.5,75.2 170.2,75.9 170.9,75.7 171.6,75.8 172.3,75.7 173.0,75.4 173.7,75.1 174.4,74.3 175.1,74.7 175.8,74.8 176.5,75.2 177.2,75.3 177.9,74.9 178.6,74.7 179.3,74.9 180.0,74.9 180.0,75.0 180.7,75.3 181.4,75.4 182.1,75.5 182.8,75.8 183.5,76.0 184.2,76.2 184.9,75.8 185.6,76.2 186.3,76.0 187.0,76.1 187.7,75.3 188.4,75.6 189.1,75.7 189.8,75.7 190.5,76.1 191.2,75.7 191.9,75.6 192.6,75.6 193.3,75.8 194.0,75.8 194.7,75.4 195.4,75.5 196.1,75.8 196.8,75.3 197.5,75.2 198.2,75.3 198.9,75.4 199.6,75.5 200.0,75.8 200.3,76.0 201.0,76.3 201.7,76.0 202.4,76.2 203.1,76.2 203.8,76.4 204.5,75.9 205.2,76.4 205.9,76.6 206.6,76.3 207.3,76.6 208.0,76.4 208.7,76.4 209.4,76.8 210.1,77.1 210.8,76.9 211.5,77.0 212.2,76.8 212.9,76.8 213.6,76.6 214.3,76.6 215.0,76.6 215.7,76.5 216.4,76.4 217.1,76.8 217.8,77.4 218.5,78.0 219.2,77.8 219.9,77.8 220.6,77.6 221.3,77.8 222.0,77.3 222.7,77.2 223.4,77.4 224.1,77.5 224.8,77.5 225.0,77.6 225.5,77.9 226.2,78.0 226.9,78.3 227.6,78.4 228.3,79.0 229.0,78.9 229.7,79.1 230.4,79.0 231.1,78.9 231.8,79.0 232.5,79.3 233.2,79.2 233.9,79.2 234.6,79.1 235.3,79.0 236.0,79.3 236.7,79.2 237.4,79.1 238.1,79.1 238.8,79.2 239.5,79.4 240.2,79.6 240.9,79.6 241.6,79.7 242.3,79.5 243.0,79.6 243.7,79.7 244.4,79.7 245.1,80.1 245.8,80.3 246.5,80.0 247.2,79.6 247.9,79.7 248.6,80.3 249.3,80.4 250.0,80.4 250.0,80.6 250.7,80.6 251.4,80.5 252.1,80.6 252.8,80.5 253.5,80.8 254.2,81.0 254.9,80.7 255.6,80.6 256.3,80.1 257.0,80.3 257.7,80.6 258.4,81.1 259.1,81.0 259.8,81.0 260.5,80.8 261.2,80.7 261.9,80.7 262.6,80.7 263.3,80.6 264.0,80.8 264.7,80.9 265.4,81.1 266.1,80.7 266.8,80.7 267.5,80.5 268.2,80.5 268.9,80.9 269.6,81.4 270.0,81.4 270.3,81.1 271.0,80.6 271.7,80.1 272.4,80.8 273.1,81.3 273.8,81.7 274.5,81.3 275.2,80.8 275.9,80.7 276.6,80.1 277.3,80.2 278.0,80.0 278.7,80.0 279.4,79.9 280.1,79.7 280.8,79.7 281.5,80.1 282.2,80.3 282.9,80.3 283.6,80.2 284.3,79.9 285.0,79.9 285.7,79.8 286.4,80.0 287.1,79.9 287.8,79.5 288.5,79.7 289.2,79.3 289.9,79.3 290.0,79.5 290.6,79.3 291.3,79.2 292.0,79.4 292.7,79.4 293.4,79.7 294.1,79.7 294.8,79.4 295.5,79.5 296.2,79.4 296.9,79.6 297.6,79.5 298.3,79.3 299.0,78.8 299.7,78.6 300.4,78.4 301.1,78.5 301.8,78.8 302.5,78.7 303.2,78.8 303.9,78.5 304.6,78.2 305.3,78.2 306.0,78.3 306.7,78.3 307.4,78.0 308.1,77.7 308.8,77.6 309.5,77.7 310.0,77.8 310.2,77.7 310.9,78.0 311.6,78.1 312.3,78.2 313.0,78.2 313.7,78.2 314.4,77.7 315.1,77.7 315.8,77.2 316.5,77.4 317.2,77.6 317.9,77.4 318.6,77.6 319.3,77.6 320.0,77.4 320.7,77.4 321.4,77.3 322.1,76.7 322.8,76.9 323.5,77.1 324.2,77.6 324.9,77.1 325.6,77.0 326.3,77.1 327.0,76.9 327.7,76.9 328.0,77.3" fill="none" stroke="#17becf" stroke-width="1.0" stroke-linejoin="round"/>
<line x1="73.50" y1="79.60" x2="328.30" y2="79.60" stroke="#ff0000" stroke-width="2.6" stroke-dasharray="7.6 3.75"/>
</g>
<g clip-path="url(#clipB)">
<polyline points="423.6,4.1 423.8,152.2 424.0,1.2 424.2,152.0 424.5,2.5 424.7,101.1 424.9,6.6 425.1,99.7 425.3,4.4 425.5,62.7 425.7,6.0 425.9,112.2 426.2,2.6 426.4,136.5 426.6,2.4 426.8,104.0" fill="none" stroke="#17becf" stroke-width="1.1" stroke-linejoin="round"/>
<polyline points="423.9,115.7 424.1,192.7 424.2,148.9 424.4,190.8" fill="none" stroke="#17becf" stroke-width="1.1" stroke-linejoin="round"/>
<polyline points="425.3,37.1 425.6,79.9 425.9,55.0 426.3,94.5 426.6,37.4 426.9,88.2 427.2,47.0 427.6,76.7 427.9,53.4 428.2,74.8 428.5,44.8 428.9,91.7 429.2,45.8 429.5,94.6" fill="none" stroke="#8c564b" stroke-width="1.1" stroke-linejoin="round"/>
<polyline points="424.4,124.1 424.8,152.8 425.2,124.6 425.6,142.0 426.0,119.1 426.4,149.4 426.8,122.0 427.2,144.4 427.6,123.1 428.0,153.6" fill="none" stroke="#7f7f7f" stroke-width="1.1" stroke-linejoin="round"/>
<polyline points="425.4,4.8 425.7,48.3 426.0,3.1 426.3,30.0 426.7,0.3 427.0,33.4 427.3,2.5 427.6,21.6 427.9,0.3 428.2,55.0 428.5,3.9 428.9,28.2 429.2,2.6 429.5,54.1 429.8,5.4 430.1,49.5 430.4,2.4 430.7,37.3 431.1,4.1 431.4,22.1 431.7,3.3 432.0,29.5" fill="none" stroke="#e377c2" stroke-width="1.1" stroke-linejoin="round"/>
<polyline points="426.5,5.4 427.2,37.0 427.8,3.7 428.5,38.1 429.2,9.9 429.8,47.1 430.5,6.7 431.2,36.5 431.8,6.8 432.5,29.3" fill="none" stroke="#9467bd" stroke-width="1.1" stroke-linejoin="round"/>
<polyline points="424.6,8.0 425.3,8.2 426.0,8.5 426.7,8.5 427.4,10.9 428.1,12.6 428.8,12.4 429.5,10.2 430.2,8.0 430.9,6.7 431.0,8.0 431.6,10.5 432.3,15.4 433.0,20.4 433.0,20.8 433.7,28.3 434.4,34.9 435.0,40.2 435.1,41.8 435.8,46.2 436.5,52.6 437.0,57.3 437.2,59.2 437.9,64.2 438.6,69.6 438.6,70.0 439.3,72.1 440.0,74.4 440.5,75.9 440.7,75.6 441.4,75.5 442.1,74.8 442.5,74.2 442.8,74.1 443.5,75.3 444.2,76.8 444.9,78.8 445.0,78.8 445.6,80.6 446.3,81.5 447.0,83.1 447.7,85.3 447.8,85.0 448.4,84.9 449.1,84.4 449.8,84.2 450.5,83.3 451.0,82.2 451.2,82.5 451.9,81.9 452.6,81.9 453.3,81.7 454.0,81.5 454.7,81.4 455.4,80.8 455.7,81.0 456.1,80.5 456.8,81.3 457.5,81.9 458.2,83.0 458.9,83.8 459.6,85.3 460.3,86.0 461.0,87.4 461.0,87.4 461.7,87.8 462.4,88.7 463.1,89.1 463.8,90.1 464.5,90.5 465.2,91.7 465.9,92.1 466.2,92.9 466.6,92.9 467.3,94.8 468.0,96.1 468.7,97.5 469.4,97.9 470.1,98.3 470.8,98.0 471.0,98.2 471.5,98.0 472.2,97.5 472.9,96.9 473.6,97.2 474.3,97.3 475.0,97.8 475.7,98.1 476.4,98.5 476.7,98.7 477.1,98.7 477.8,98.6 478.5,98.2 479.2,98.2 479.9,98.7 480.6,98.8 481.3,98.7 482.0,99.1 482.7,98.7 483.4,98.5 484.1,97.6 484.8,97.1 485.5,96.6 486.2,96.0 486.9,96.1 487.6,96.5 488.0,96.7 488.3,97.3 489.0,97.6 489.7,96.8 490.4,96.1 491.1,95.8 491.8,96.0 492.5,95.2 493.2,95.9 493.9,96.4 494.6,96.9 495.3,97.3 496.0,97.3 496.7,97.8 497.4,97.1 498.1,96.4 498.8,95.7 499.5,95.8 500.0,96.1 500.2,96.0 500.9,96.0 501.6,96.1 502.3,96.3 503.0,96.3 503.7,96.1 504.4,96.0 505.1,95.8 505.8,96.2 506.5,96.0 507.2,95.8 507.9,95.4 508.6,95.1 509.3,95.1 510.0,95.1 510.7,94.7 511.4,94.8 512.1,94.9 512.8,95.0 513.5,94.9 514.2,95.1 514.9,95.4 515.0,95.1 515.6,95.2 516.3,94.9 517.0,94.8 517.7,94.9 518.4,94.7 519.1,94.5 519.8,94.5 520.5,94.9 521.2,94.4 521.9,94.9 522.6,94.8 523.3,94.5 524.0,94.9 524.7,94.6 525.4,94.7 526.1,94.4 526.8,94.6 527.5,94.6 528.2,94.9 528.9,94.7 529.6,94.4 530.0,94.1 530.3,94.4 531.0,94.6 531.7,94.8 532.4,95.0 533.1,95.0 533.8,94.7 534.5,94.4 535.2,94.6 535.9,95.4 536.6,95.5 537.3,95.0 538.0,94.5 538.7,94.5 539.4,94.3 540.1,94.0 540.8,94.0 541.5,94.3 542.2,94.3 542.9,94.2 543.6,93.9 544.3,94.1 545.0,93.9 545.0,94.1 545.7,94.0 546.4,93.7 547.1,94.2 547.8,94.0 548.5,93.9 549.2,94.0 549.9,94.3 550.6,94.3 551.3,93.9 552.0,93.7 552.7,93.7 553.4,93.6 554.1,93.3 554.8,93.2 555.5,93.3 556.2,92.9 556.9,92.8 557.6,93.2 558.3,93.2 559.0,93.3 559.7,93.4 560.0,93.3 560.4,93.4 561.1,93.5 561.8,93.4 562.5,93.3 563.2,93.3 563.9,93.1 564.6,93.3 565.3,93.3 566.0,93.2 566.7,93.2 567.4,93.4 568.1,93.3 568.8,93.2 569.5,93.0 570.2,92.9 570.9,92.7 571.6,93.2 572.3,93.3 573.0,93.6 573.7,93.2 574.4,92.6 575.1,92.9 575.8,92.8 576.5,93.3 577.2,93.0 577.9,93.0 578.6,92.9 579.3,92.8 580.0,92.8 580.0,93.1 580.7,93.2 581.4,93.1 582.1,93.1 582.8,92.9 583.5,93.3 584.2,92.8 584.9,93.0 585.6,93.0 586.3,93.2 587.0,93.1 587.7,92.8 588.4,92.3 589.1,92.6 589.8,92.5 590.5,92.8 591.2,92.6 591.9,92.4 592.6,92.3 593.3,92.4 594.0,92.4 594.7,92.7 595.4,92.5 596.1,92.1 596.8,92.3 597.5,92.5 598.2,92.3 598.9,91.9 599.6,92.3 600.0,92.1 600.3,92.3 601.0,92.2 601.7,92.4 602.4,92.6 603.1,92.3 603.8,91.7 604.5,91.7 605.2,91.6 605.9,91.6 606.6,91.7 607.3,91.5 608.0,92.0 608.7,91.7 609.4,91.6 610.1,91.3 610.8,91.5 611.5,91.6 612.2,91.9 612.9,91.8 613.6,91.3 614.3,91.2 615.0,91.3 615.7,91.5 616.4,91.8 617.1,91.4 617.8,91.3 618.5,91.0 619.2,90.5 619.9,90.2 620.0,90.4 620.6,90.5 621.3,90.8 622.0,91.2 622.7,91.4 623.4,90.8 624.1,90.6 624.8,90.6 625.5,90.5 626.2,90.8 626.9,90.9 627.6,91.3 628.3,91.4 629.0,91.5 629.7,91.6 630.4,91.4 631.1,91.4 631.8,91.2 632.5,90.9 633.2,91.0 633.9,91.0 634.6,90.8 635.3,90.9 636.0,91.0 636.7,90.8 637.4,90.9 638.1,90.7 638.8,90.5 639.5,91.0 640.0,90.8 640.2,90.7 640.9,90.8 641.6,90.8 642.3,91.0 643.0,90.9 643.7,90.8 644.4,90.8 645.1,91.0 645.8,91.3 646.5,91.2 647.2,91.2 647.9,91.1 648.6,91.0 649.3,91.3 650.0,91.2 650.7,91.4 651.4,91.3 652.1,91.1 652.8,91.3 653.5,91.6 654.2,92.0 654.9,91.7 655.6,91.5 656.0,91.5" fill="none" stroke="#1f77b4" stroke-width="1.0" stroke-linejoin="round"/>
<polyline points="424.4,8.0 425.1,26.9 425.5,38.7 425.8,45.9 426.5,64.7 426.5,65.5 427.2,80.0 427.9,92.5 428.0,93.9 428.6,97.9 429.3,96.7 430.0,99.3 430.0,100.1 430.7,98.3 431.4,98.6 432.1,99.7 432.8,100.4 433.0,100.0 433.5,102.9 434.2,105.6 434.9,106.4 435.6,105.2 436.0,104.2 436.3,102.9 437.0,101.6 437.7,100.0 438.4,99.6 439.1,97.7 439.8,96.0 440.0,95.0 440.5,95.0 441.2,94.4 441.9,95.3 442.6,94.7 443.3,97.2 444.0,98.6 444.0,99.1 444.7,99.0 445.4,97.4 446.1,96.3 446.8,96.1 447.5,95.9 447.8,96.4 448.2,95.5 448.9,95.8 449.6,96.1 450.3,96.9 451.0,96.6 451.0,96.9 451.7,95.7 452.4,94.3 453.1,94.8 453.8,95.3 454.4,95.7 454.5,95.9 455.2,95.5 455.9,94.5 456.6,94.2 457.3,95.0 458.0,96.6 458.0,97.1 458.7,97.0 459.4,96.2 460.1,94.5 460.8,94.5 461.0,94.9 461.5,95.1 462.2,95.6 462.9,95.8 463.6,95.5 464.3,95.3 465.0,95.7 465.7,96.2 466.4,96.3 467.1,95.6 467.8,94.9 468.0,95.0 468.5,95.0 469.2,96.4 469.9,97.8 470.6,99.1 471.3,98.9 472.0,98.6 472.7,98.9 472.8,99.1 473.4,100.2 474.1,100.6 474.8,101.1 475.5,101.2 476.2,100.6 476.9,101.0 477.6,101.6 478.3,101.5 479.0,101.7 479.7,102.4 480.0,102.2 480.4,102.1 481.1,101.6 481.8,100.6 482.5,100.1 483.2,100.1 483.9,100.7 484.6,100.5 485.3,100.1 486.0,100.5 486.7,100.2 487.4,99.9 488.1,99.6 488.8,99.4 489.5,99.8 490.0,99.5 490.2,99.8 490.9,99.8 491.6,99.7 492.3,99.5 493.0,99.2 493.7,98.7 494.4,98.1 495.1,97.7 495.8,96.9 496.5,96.8 497.2,97.1 497.9,97.0 498.6,97.3 499.3,97.6 500.0,97.4 500.0,97.5 500.7,97.6 501.4,97.4 502.1,97.2 502.8,96.9 503.5,96.4 504.2,96.2 504.9,96.1 505.6,96.3 506.3,96.3 507.0,96.3 507.7,96.5 508.4,96.8 509.1,97.0 509.8,97.2 510.5,96.9 511.2,96.4 511.9,95.4 512.6,95.2 513.3,95.7 514.0,96.1 514.7,96.1 515.0,96.0 515.4,95.9 516.1,95.8 516.8,95.7 517.5,95.2 518.2,95.0 518.9,95.4 519.6,95.7 520.3,95.9 521.0,95.8 521.7,95.7 522.4,95.2 523.1,95.3 523.8,95.0 524.5,94.8 525.2,95.0 525.9,95.2 526.6,95.1 527.3,95.0 528.0,94.8 528.7,94.9 529.4,95.4 530.0,95.2 530.1,95.2 530.8,95.1 531.5,95.1 532.2,94.7 532.9,94.9 533.6,94.9 534.3,95.6 535.0,95.5 535.7,95.3 536.4,95.4 537.1,95.2 537.8,95.0 538.5,94.7 539.2,95.0 539.9,94.8 540.6,94.7 541.3,94.6 542.0,94.4 542.7,94.3 543.4,94.8 544.1,95.1 544.8,95.2 545.0,95.3 545.5,95.4 546.2,95.3 546.9,94.9 547.6,94.6 548.3,94.2 549.0,94.5 549.7,94.8 550.4,95.0 551.1,94.8 551.8,95.1 552.5,95.1 553.2,95.0 553.9,95.1 554.6,95.2 555.3,94.9 556.0,94.6 556.7,94.4 557.4,94.5 558.1,94.4 558.8,94.3 559.5,94.5 560.0,94.6 560.2,94.6 560.9,94.6 561.6,94.7 562.3,94.7 563.0,94.7 563.7,94.9 564.4,94.7 565.1,94.6 565.8,94.6 566.5,94.6 567.2,94.1 567.9,93.9 568.6,94.0 569.3,94.2 570.0,94.0 570.7,94.1 571.4,93.8 572.1,93.8 572.8,93.8 573.5,94.0 574.2,93.8 574.9,94.0 575.6,94.1 576.3,94.2 577.0,94.2 577.7,94.1 578.4,94.3 579.1,94.5 579.8,94.4 580.0,94.6 580.5,94.9 581.2,94.6 581.9,93.8 582.6,93.5 583.3,93.9 584.0,94.3 584.7,94.3 585.4,94.1 586.1,93.7 586.8,93.5 587.5,93.4 588.2,93.4 588.9,93.6 589.6,93.4 590.3,93.4 591.0,93.4 591.7,93.6 592.4,93.6 593.1,93.9 593.8,93.7 594.5,93.7 595.2,93.8 595.9,94.2 596.6,93.8 597.3,93.8 598.0,94.1 598.7,94.1 599.4,93.8 600.0,93.5 600.1,93.6 600.8,93.3 601.5,93.4 602.2,93.6 602.9,93.7 603.6,93.8 604.3,93.5 605.0,93.3 605.7,93.5 606.4,93.1 607.1,93.2 607.8,93.6 608.5,93.5 609.2,93.1 609.9,93.2 610.6,93.1 611.3,93.7 612.0,93.7 612.7,93.9 613.4,94.1 614.1,93.8 614.8,93.9 615.5,93.7 616.2,93.7 616.9,93.3 617.6,93.3 618.3,93.3 619.0,93.5 619.7,93.7 620.0,93.5 620.4,93.8 621.1,93.6 621.8,93.5 622.5,93.4 623.2,93.5 623.9,93.7 624.6,93.7 625.3,93.7 626.0,93.3 626.7,93.4 627.4,93.2 628.1,93.5 628.8,93.5 629.5,93.6 630.2,93.7 630.9,93.7 631.6,93.7 632.3,93.7 633.0,93.7 633.7,93.3 634.4,92.8 635.1,93.3 635.8,93.3 636.5,93.3 637.2,93.3 637.9,93.2 638.6,93.1 639.3,93.1 640.0,93.2 640.0,93.2 640.7,93.4 641.4,93.6 642.1,93.5 642.8,93.5 643.5,93.4 644.2,93.4 644.9,93.0 645.6,92.5 646.3,92.6 647.0,92.6 647.7,92.8 648.4,93.0 649.1,93.1 649.8,93.0 650.5,93.0 651.2,93.1 651.9,93.3 652.6,93.7 653.3,93.1 654.0,92.8 654.7,93.0 655.4,93.2 656.0,93.3" fill="none" stroke="#ff7f0e" stroke-width="1.0" stroke-linejoin="round"/>
<polyline points="424.2,8.0 424.9,10.5 425.6,12.0 426.3,13.2 427.0,9.1 427.7,8.0 428.4,5.8 429.1,6.3 429.8,8.1 430.0,8.7 430.5,13.6 431.2,20.2 431.9,26.6 432.0,26.9 432.6,33.9 433.3,44.3 434.0,54.6 434.0,54.6 434.7,53.1 435.4,49.3 436.0,43.7 436.1,43.6 436.8,43.4 437.5,44.0 438.2,45.4 438.6,45.1 438.9,45.8 439.6,49.5 440.0,51.4 440.3,49.2 441.0,47.6 441.2,46.9 441.7,51.6 442.4,57.4 442.5,58.3 443.1,68.0 443.2,70.5 443.8,67.5 444.5,64.4 445.0,63.1 445.2,62.1 445.9,59.9 446.5,58.5 446.6,58.8 447.3,59.2 447.8,60.3 448.0,60.0 448.7,60.4 449.4,60.8 450.0,61.4 450.1,60.7 450.8,60.6 451.5,61.3 452.2,61.2 452.9,61.8 453.0,61.9 453.6,63.2 454.3,64.2 454.4,63.3 455.0,65.6 455.7,67.6 456.0,68.3 456.4,69.4 457.1,73.0 457.8,75.7 458.3,78.7 458.5,78.3 459.2,77.9 459.9,77.9 460.6,79.2 461.0,79.6 461.3,80.4 462.0,81.9 462.7,83.2 463.4,84.7 463.6,85.4 464.1,85.9 464.8,86.5 465.5,87.4 466.2,88.2 466.9,89.5 467.5,90.7 467.6,90.7 468.3,92.0 469.0,92.5 469.7,93.5 470.4,93.6 471.1,95.2 471.4,95.4 471.8,95.6 472.5,96.1 473.2,96.1 473.9,95.6 474.6,96.0 475.3,97.2 476.0,98.4 476.7,98.0 476.7,98.0 477.4,96.8 478.1,95.5 478.8,96.3 479.5,97.6 480.2,98.5 480.9,98.0 481.6,97.8 482.3,97.7 483.0,98.1 483.7,98.7 484.4,99.0 484.6,99.3 485.1,98.7 485.8,97.7 486.5,97.3 487.2,97.3 487.9,97.2 488.6,97.2 489.3,96.9 490.0,97.0 490.7,96.7 491.4,96.0 492.0,95.6 492.1,95.5 492.8,95.6 493.5,95.8 494.2,95.6 494.9,95.7 495.6,95.8 496.3,95.4 497.0,95.5 497.7,95.1 498.4,95.1 499.1,94.8 499.8,94.7 500.5,94.7 501.0,94.6 501.2,94.7 501.9,94.7 502.6,94.6 503.3,95.0 504.0,95.5 504.7,95.4 505.4,94.7 506.1,94.2 506.8,94.4 507.5,94.8 508.2,94.6 508.9,94.2 509.6,93.5 510.3,93.3 511.0,93.7 511.7,93.8 512.4,93.6 513.1,93.8 513.8,94.2 514.5,94.3 515.0,94.1 515.2,94.3 515.9,94.4 516.6,94.1 517.3,94.1 518.0,93.7 518.7,93.9 519.4,93.9 520.1,94.0 520.8,93.3 521.5,93.4 522.2,93.1 522.9,93.4 523.6,93.4 524.3,93.4 525.0,93.4 525.7,93.6 526.4,93.8 527.1,93.9 527.8,93.6 528.5,93.8 529.2,93.8 529.9,93.4 530.0,93.7 530.6,93.3 531.3,93.3 532.0,92.9 532.7,93.3 533.4,93.9 534.1,94.2 534.8,94.4 535.5,94.2 536.2,94.2 536.9,94.2 537.6,94.0 538.3,93.8 539.0,93.7 539.7,94.2 540.4,93.9 541.1,93.5 541.8,93.4 542.5,93.5 543.2,94.0 543.9,94.2 544.6,94.1 545.0,94.0 545.3,94.2 546.0,94.1 546.7,93.9 547.4,93.7 548.1,93.9 548.8,93.7 549.5,93.6 550.2,93.3 550.9,93.3 551.6,93.3 552.3,93.7 553.0,93.7 553.7,93.4 554.4,93.4 555.1,94.0 555.8,94.2 556.5,94.4 557.2,93.9 557.9,93.7 558.6,93.8 559.3,94.2 560.0,94.3 560.0,94.4 560.7,94.4 561.4,94.0 562.1,94.1 562.8,94.0 563.5,93.5 564.2,93.6 564.9,93.6 565.6,94.1 566.3,94.2 567.0,93.8 567.7,94.4 568.4,94.3 569.1,94.1 569.8,93.7 570.5,93.7 571.2,93.4 571.9,92.9 572.6,93.0 573.3,93.3 574.0,93.5 574.7,93.5 575.4,93.7 576.1,93.4 576.8,93.6 577.5,93.3 578.2,93.3 578.9,93.0 579.6,93.0 580.0,93.1 580.3,92.8 581.0,92.9 581.7,92.7 582.4,92.8 583.1,92.8 583.8,92.8 584.5,92.7 585.2,93.0 585.9,92.8 586.6,93.0 587.3,93.1 588.0,93.1 588.7,93.3 589.4,93.7 590.1,93.8 590.8,94.0 591.5,93.8 592.2,94.4 592.9,93.9 593.6,94.0 594.3,93.8 595.0,93.8 595.7,93.6 596.4,93.7 597.1,93.6 597.8,94.1 598.5,94.0 599.2,93.9 599.9,93.8 600.0,93.8 600.6,94.0 601.3,94.0 602.0,94.5 602.7,94.4 603.4,94.4 604.1,94.1 604.8,94.2 605.5,94.3 606.2,94.2 606.9,94.2 607.6,94.7 608.3,94.9 609.0,94.7 609.7,94.3 610.4,94.3 611.1,94.4 611.8,94.7 612.5,94.7 613.2,94.5 613.9,94.6 614.6,94.8 615.3,94.9 616.0,94.7 616.7,94.8 617.4,94.9 618.1,94.9 618.8,94.9 619.5,95.0 620.0,95.0 620.2,95.0 620.9,95.0 621.6,95.3 622.3,95.3 623.0,95.4 623.7,95.8 624.4,96.1 625.1,96.1 625.8,96.1 626.5,96.2 627.2,96.1 627.9,96.1 628.6,96.6 629.3,96.5 630.0,96.8 630.7,97.1 631.4,97.3 632.1,97.4 632.6,97.6 632.8,97.8 633.5,97.7 634.2,97.5 634.9,97.4 635.6,97.3 636.3,97.3 637.0,97.0 637.7,97.1 638.4,97.1 639.1,97.5 639.8,97.6 640.5,97.8 641.2,97.8 641.9,97.7 642.6,97.6 643.3,97.7 644.0,97.8 644.7,98.2 645.0,98.0 645.4,97.8 646.1,98.2 646.8,98.3 647.5,98.4 648.2,98.7 648.9,98.4 649.6,98.1 650.3,98.3 651.0,98.1 651.7,98.1 652.4,98.3 653.1,98.6 653.8,98.2 654.5,98.1 655.2,98.6 655.9,98.5 656.0,98.6" fill="none" stroke="#2ca02c" stroke-width="1.0" stroke-linejoin="round"/>
<polyline points="424.8,8.0 425.5,11.4 426.2,16.6 426.9,19.2 427.6,19.3 428.0,21.8 428.3,24.7 429.0,32.1 429.7,37.7 430.0,39.6 430.4,42.1 431.1,52.3 431.8,64.8 432.5,77.8 432.7,80.8 433.2,85.0 433.9,89.2 434.6,91.3 434.7,91.6 435.3,91.6 436.0,91.3 436.7,90.8 437.4,88.2 438.1,86.3 438.5,84.8 438.8,82.8 439.5,82.0 440.2,80.6 440.9,79.4 441.6,80.0 442.3,81.5 442.5,81.5 443.0,81.1 443.7,80.3 444.4,78.6 445.1,78.5 445.8,79.7 446.0,80.2 446.5,81.5 447.2,83.6 447.9,85.1 448.6,86.1 449.3,88.0 450.0,87.5 450.4,87.1 450.7,88.2 451.4,88.6 452.1,89.4 452.8,90.7 453.5,90.0 454.2,90.1 454.4,90.3 454.9,90.3 455.6,90.9 456.3,90.9 457.0,92.0 457.7,93.0 458.0,93.7 458.4,95.0 459.1,96.7 459.8,97.9 460.5,99.4 461.0,99.9 461.2,99.9 461.9,99.6 462.6,98.8 463.3,99.6 463.6,99.5 464.0,99.0 464.7,98.6 465.4,99.4 466.1,100.0 466.8,100.9 467.5,101.5 468.2,101.7 468.9,102.2 469.6,101.9 470.0,101.3 470.3,101.1 471.0,100.6 471.7,100.2 472.4,99.8 473.1,99.9 473.8,101.1 474.5,102.0 475.2,102.6 475.9,102.5 476.6,102.0 476.7,101.8 477.3,101.7 478.0,101.4 478.7,101.1 479.4,101.7 480.1,101.9 480.8,101.9 481.5,101.9 482.2,101.7 482.9,101.5 483.6,102.2 484.3,103.0 484.6,103.3 485.0,103.7 485.7,103.3 486.4,102.7 487.1,102.5 487.8,102.5 488.5,102.6 489.2,103.1 489.9,102.9 490.6,103.6 491.3,104.0 492.0,104.6 492.5,105.0 492.7,105.6 493.4,104.0 494.1,102.7 494.8,101.0 495.5,101.0 496.2,101.3 496.9,101.7 497.6,101.9 498.3,101.8 499.0,101.9 499.0,101.9 499.7,101.8 500.4,101.8 501.1,101.9 501.8,101.7 502.5,102.0 503.2,101.8 503.9,102.0 504.6,102.3 505.0,102.1 505.3,102.0 506.0,102.0 506.7,101.7 507.4,101.5 508.1,101.7 508.8,101.7 509.5,101.6 510.0,101.4 510.2,101.8 510.9,101.7 511.6,101.4 512.3,101.3 513.0,101.1 513.7,100.9 514.4,100.9 515.1,100.9 515.8,100.7 516.0,100.6 516.5,101.2 517.2,101.8 517.9,103.1 518.6,103.3 519.3,104.1 520.0,105.2 520.7,106.0 521.3,106.4 521.4,106.8 522.1,106.1 522.8,105.8 523.5,105.4 524.2,105.6 524.9,105.3 525.6,104.8 526.0,104.4 526.3,104.3 527.0,104.0 527.7,103.7 528.4,103.2 529.1,103.3 529.8,103.3 530.5,103.2 531.2,103.4 531.8,102.8 531.9,102.9 532.6,103.0 533.3,103.2 534.0,103.6 534.7,104.4 535.4,104.2 536.1,104.4 536.8,104.3 537.0,104.6 537.5,105.2 538.2,105.3 538.9,105.9 539.6,106.3 540.3,106.2 541.0,106.4 541.7,106.9 542.4,107.3 543.1,107.8 543.6,107.7 543.8,107.8 544.5,107.4 545.2,107.3 545.9,107.0 546.6,106.3 547.3,106.7 548.0,106.8 548.7,107.3 549.4,107.0 550.1,106.3 550.8,105.8 551.5,105.7 551.5,105.6 552.2,106.0 552.9,105.9 553.6,105.9 554.3,106.1 555.0,106.1 555.7,106.0 556.4,105.6 557.1,105.5 557.8,105.7 558.5,105.4 559.2,105.7 559.9,105.9 560.0,106.2 560.6,106.5 561.3,106.1 562.0,105.9 562.7,105.9 563.4,106.1 564.1,105.9 564.8,105.7 565.5,105.6 566.2,105.6 566.9,105.8 567.6,105.9 568.3,105.8 569.0,105.8 569.7,105.9 570.0,106.0 570.4,105.8 571.1,105.4 571.8,105.5 572.5,105.4 573.2,105.6 573.9,105.6 574.6,105.3 575.3,105.7 576.0,105.7 576.7,105.6 577.4,105.7 578.1,105.8 578.8,106.1 579.5,106.0 580.2,105.7 580.9,105.7 581.6,105.6 582.3,105.2 583.0,105.1 583.7,105.0 584.4,105.2 585.0,105.0 585.1,105.3 585.8,104.8 586.5,104.9 587.2,104.7 587.9,104.9 588.6,104.6 589.3,104.7 590.0,104.8 590.5,105.0 590.7,105.0 591.4,105.1 592.1,105.2 592.8,105.5 593.5,105.7 594.2,106.0 594.9,105.9 595.6,106.1 596.0,106.2 596.3,106.3 597.0,106.7 597.7,106.7 598.4,106.8 599.1,107.0 599.8,107.2 600.5,107.2 601.2,107.2 601.9,107.0 602.3,106.7 602.6,106.2 603.3,106.1 604.0,106.4 604.7,106.5 605.4,106.6 606.1,106.6 606.8,106.6 607.5,106.6 608.2,106.4 608.9,106.3 609.6,106.4 610.3,106.6 611.0,106.4 611.7,106.1 612.0,105.9 612.4,105.9 613.1,105.7 613.8,105.7 614.5,105.9 615.2,105.6 615.9,105.6 616.6,105.3 617.3,105.7 618.0,105.7 618.7,105.7 619.4,105.6 620.1,105.7 620.8,105.3 621.5,105.0 622.0,105.0 622.2,104.7 622.9,104.4 623.6,104.5 624.3,104.5 625.0,104.5 625.7,104.5 626.4,104.1 627.1,104.0 627.8,104.2 628.5,104.2 629.2,104.1 629.9,104.0 630.6,103.5 631.3,103.3 632.0,103.1 632.6,103.1 632.7,102.8 633.4,102.7 634.1,102.8 634.8,102.9 635.5,102.8 636.2,102.9 636.9,103.0 637.6,102.3 638.3,102.3 639.0,102.1 639.7,102.3 640.4,102.1 641.1,101.8 641.8,101.7 642.5,101.6 643.2,101.4 643.9,101.0 644.6,101.2 645.3,101.3 645.7,101.3 646.0,101.4 646.7,101.5 647.4,101.6 648.1,101.4 648.8,101.2 649.5,101.4 650.2,101.7 650.9,101.9 651.6,101.7 652.3,101.7 653.0,101.7 653.7,101.4 654.4,101.4 655.1,101.2 655.8,101.5 656.0,101.8" fill="none" stroke="#d62728" stroke-width="1.0" stroke-linejoin="round"/>
<polyline points="424.5,8.0 425.2,8.4 425.9,9.5 426.6,8.0 427.3,7.4 428.0,6.0 428.7,4.8 429.4,6.9 430.0,9.8 430.1,12.4 430.8,27.8 431.5,43.9 432.0,53.5 432.2,55.3 432.9,61.0 433.6,64.3 434.3,67.1 434.7,70.8 435.0,69.8 435.7,71.8 436.4,72.8 437.1,75.9 437.3,76.5 437.8,76.7 438.5,76.7 439.2,76.4 439.9,75.3 440.6,74.7 441.0,75.1 441.3,75.4 442.0,74.2 442.7,74.4 443.4,74.9 444.1,75.7 444.8,75.7 445.2,75.8 445.5,76.8 446.2,78.7 446.9,80.2 447.6,82.3 448.3,84.4 449.0,85.7 449.7,86.5 450.4,87.2 450.4,87.3 451.1,86.7 451.8,85.2 452.5,84.3 453.2,83.1 453.9,82.1 454.6,80.6 455.3,80.5 455.7,80.2 456.0,81.1 456.7,82.8 457.4,83.5 458.1,84.8 458.8,86.0 459.5,88.0 460.2,89.3 460.9,90.7 461.0,90.6 461.6,90.8 462.3,90.5 463.0,90.9 463.7,90.3 464.0,90.2 464.4,90.5 465.1,91.9 465.8,93.8 466.5,95.3 467.2,95.9 467.5,95.7 467.9,95.8 468.6,95.5 469.3,94.8 470.0,93.9 470.7,93.1 471.4,92.1 472.1,91.2 472.8,90.9 472.8,91.2 473.5,91.9 474.2,92.7 474.9,93.3 475.6,94.3 476.3,95.6 476.7,96.3 477.0,96.5 477.7,96.6 478.4,97.1 479.1,97.5 479.8,97.5 480.5,97.6 481.2,97.9 481.9,98.0 482.6,98.6 483.3,99.8 484.0,100.6 484.6,100.8 484.7,100.6 485.4,99.9 486.1,99.0 486.8,98.8 487.5,99.0 488.2,99.9 488.9,99.6 489.6,98.9 490.3,97.9 491.0,98.2 491.7,98.2 492.0,98.5 492.4,98.8 493.1,98.5 493.8,98.3 494.5,98.3 495.2,98.1 495.9,98.2 496.6,97.9 497.3,97.5 498.0,97.2 498.7,97.5 499.4,97.7 500.1,98.1 500.8,97.9 501.0,97.8 501.5,97.8 502.2,97.6 502.9,97.3 503.6,97.5 504.3,97.3 505.0,97.1 505.7,97.5 506.4,97.2 507.1,97.2 507.8,97.4 508.5,97.6 509.2,97.6 509.9,97.8 510.6,97.8 511.3,97.7 512.0,97.7 512.7,97.6 513.4,97.6 514.1,97.3 514.8,97.5 515.0,97.3 515.5,97.7 516.2,98.1 516.9,98.1 517.6,98.2 518.3,98.5 519.0,98.4 519.7,98.6 520.4,98.8 521.1,98.8 521.8,99.4 522.5,99.8 523.2,99.5 523.9,99.8 524.6,99.5 525.3,99.4 526.0,99.0 526.7,98.8 527.4,98.8 528.1,99.1 528.8,99.9 529.5,100.1 530.0,100.4 530.2,100.5 530.9,100.8 531.6,100.4 532.3,100.2 533.0,100.2 533.7,100.3 534.4,100.4 535.1,100.2 535.8,99.9 536.5,100.0 537.2,100.3 537.9,100.4 538.6,100.3 539.3,100.1 540.0,100.5 540.7,100.3 541.4,100.1 542.1,100.2 542.8,100.4 543.5,100.0 544.2,100.1 544.9,100.3 545.6,100.4 546.3,100.8 547.0,100.7 547.7,100.4 548.4,100.7 549.1,100.7 549.8,100.9 550.0,100.9 550.5,100.8 551.2,101.1 551.9,100.8 552.6,101.1 553.3,101.1 554.0,100.9 554.7,100.8 555.4,101.2 556.1,101.7 556.8,101.4 557.5,101.3 558.2,100.6 558.9,100.9 559.6,101.3 560.3,101.9 561.0,101.5 561.7,101.1 562.4,101.1 563.1,101.1 563.8,101.0 564.5,101.0 565.2,101.3 565.9,101.0 566.6,100.9 567.3,101.0 568.0,101.1 568.7,101.1 569.4,101.0 570.0,101.2 570.1,101.3 570.8,101.3 571.5,101.4 572.2,101.1 572.9,101.1 573.6,101.2 574.3,101.1 575.0,101.0 575.7,101.0 576.4,100.9 577.1,101.1 577.8,101.0 578.5,101.5 579.2,101.5 579.9,101.6 580.6,101.4 581.3,101.6 582.0,101.6 582.7,101.7 583.4,101.7 584.1,101.4 584.8,101.3 585.5,101.2 586.2,101.6 586.6,101.6 586.9,101.2 587.6,101.3 588.3,101.4 589.0,101.4 589.7,101.1 590.4,100.8 591.1,100.9 591.8,100.9 592.5,101.1 593.2,101.1 593.9,101.0 594.6,100.9 595.3,100.7 596.0,101.0 596.7,100.8 597.4,100.8 598.1,101.0 598.8,101.0 599.5,101.3 600.0,101.3 600.2,101.3 600.9,101.7 601.6,101.6 602.3,101.7 603.0,101.3 603.7,101.1 604.4,100.6 605.1,101.3 605.8,101.1 606.5,101.4 607.2,101.1 607.9,100.7 608.6,100.2 609.3,100.7 610.0,100.9 610.7,101.0 611.4,100.8 612.1,100.5 612.8,100.6 613.5,100.6 614.2,100.5 614.9,100.7 615.6,100.3 616.3,100.3 617.0,100.4 617.7,100.6 618.4,100.4 619.1,100.8 619.8,100.7 620.0,100.6 620.5,100.6 621.2,100.4 621.9,100.5 622.6,100.5 623.3,100.4 624.0,100.7 624.7,100.9 625.4,100.7 626.1,100.7 626.8,100.5 627.5,100.6 628.2,100.8 628.9,100.6 629.6,100.5 630.3,100.5 631.0,100.4 631.7,100.4 632.4,100.3 633.1,100.0 633.8,100.4 634.5,100.1 635.2,100.2 635.9,100.1 636.6,100.1 637.3,100.1 638.0,100.0 638.7,100.0 639.4,99.7 640.0,99.6 640.1,99.8 640.8,99.7 641.5,99.6 642.2,99.9 642.9,99.7 643.6,99.7 644.3,99.6 645.0,99.9 645.7,100.0 646.4,100.3 647.1,100.2 647.8,100.2 648.5,99.9 649.2,100.1 649.9,100.1 650.6,100.1 651.3,99.5 652.0,99.6 652.7,99.7 653.4,99.6 654.1,99.5 654.8,99.6 655.5,99.5 656.0,99.6" fill="none" stroke="#9467bd" stroke-width="1.0" stroke-linejoin="round"/>
<polyline points="425.3,8.0 425.6,58.1 425.8,107.9 426.0,104.2 426.7,97.5 427.4,90.6 427.5,91.7 428.1,93.7 428.8,93.6 429.4,93.0 429.5,92.4 430.2,97.2 430.9,101.8 431.6,105.1 432.0,104.5 432.3,104.0 433.0,105.2 433.7,105.5 434.4,105.5 434.7,106.5 435.1,105.2 435.8,104.8 436.5,103.4 437.2,102.8 437.9,102.6 438.0,102.2 438.6,99.8 439.3,98.9 440.0,97.7 440.7,96.1 441.2,94.3 441.4,93.7 442.1,94.9 442.8,96.3 443.5,97.7 444.0,98.8 444.2,99.5 444.9,101.5 445.6,101.7 446.3,102.2 446.5,101.8 447.0,102.2 447.7,100.6 448.4,98.8 449.1,96.8 449.8,97.3 450.0,98.1 450.5,99.3 451.2,99.6 451.9,100.1 452.6,100.4 453.3,99.3 454.0,98.6 454.4,98.4 454.7,99.1 455.4,100.2 456.1,101.3 456.8,101.8 457.5,102.6 458.0,102.9 458.2,102.6 458.9,102.9 459.6,102.8 460.3,103.2 461.0,103.8 461.7,104.7 462.4,105.0 463.1,105.7 463.6,105.1 463.8,105.2 464.5,104.9 465.2,104.4 465.9,104.4 466.6,104.5 467.3,105.4 468.0,105.9 468.7,106.3 469.4,106.1 470.0,106.3 470.1,106.2 470.8,106.4 471.5,106.7 472.2,106.7 472.9,106.4 473.6,106.9 474.3,106.8 475.0,107.1 475.7,107.3 476.4,107.2 477.1,107.6 477.8,107.2 478.5,106.7 479.2,106.9 479.9,107.0 480.0,107.6 480.6,108.3 481.3,108.7 482.0,108.8 482.7,109.3 483.4,109.8 484.1,109.7 484.8,110.0 485.5,110.2 486.2,110.6 486.9,111.0 487.6,111.1 488.0,111.0 488.3,111.2 489.0,111.4 489.7,112.0 490.4,112.4 491.1,112.5 491.8,112.8 492.5,112.3 493.2,111.9 493.9,112.3 494.6,113.0 495.0,112.7 495.3,112.9 496.0,112.6 496.7,112.0 497.4,111.2 498.1,111.2 498.8,111.1 499.5,110.9 500.2,110.2 500.9,109.2 501.6,108.9 502.3,108.1 502.9,107.3 503.0,107.2 503.7,107.4 504.4,107.3 505.1,107.0 505.8,106.5 506.5,106.0 507.2,105.4 507.9,105.1 508.6,104.8 509.3,104.6 510.0,104.0 510.7,103.7 511.4,103.0 512.0,103.2 512.1,103.0 512.8,103.1 513.5,103.1 514.2,102.6 514.9,102.0 515.6,101.5 516.0,101.5 516.3,101.5 517.0,101.1 517.7,100.9 518.4,100.7 519.1,100.5 519.8,100.3 520.5,100.0 521.2,99.6 521.9,99.4 522.6,99.4 523.3,99.4 524.0,99.5 524.7,98.7 525.0,99.0 525.4,98.9 526.1,98.2 526.8,98.1 527.5,97.9 528.2,98.4 528.9,98.6 529.6,98.6 530.3,98.2 531.0,97.5 531.7,97.6 532.4,97.4 533.1,97.1 533.8,97.3 534.4,97.6 534.5,97.6 535.2,97.7 535.9,97.6 536.6,97.6 537.3,97.2 538.0,97.1 538.7,97.2 539.4,97.2 540.1,97.0 540.8,97.2 541.5,97.4 542.2,97.4 542.9,97.3 543.6,97.3 544.3,97.3 545.0,96.7 545.0,97.0 545.7,96.8 546.4,97.1 547.1,97.1 547.8,97.0 548.5,97.2 549.2,97.1 549.9,97.3 550.6,97.6 551.3,97.8 552.0,97.6 552.7,97.9 553.4,98.1 554.1,98.1 554.8,97.7 555.5,97.6 556.2,97.4 556.9,97.6 557.6,97.7 558.3,98.0 559.0,98.0 559.7,97.8 560.0,97.8 560.4,98.0 561.1,98.1 561.8,98.1 562.5,98.5 563.2,98.9 563.9,98.9 564.6,99.2 565.3,99.4 566.0,99.2 566.7,99.2 567.4,99.3 568.1,99.3 568.8,99.3 569.5,99.0 570.2,99.4 570.9,99.6 571.6,99.9 572.0,99.8 572.3,100.1 573.0,100.8 573.7,100.8 574.4,100.9 575.1,100.5 575.8,100.6 576.5,100.7 577.2,100.8 577.9,100.9 578.6,100.7 579.3,100.6 580.0,101.2 580.7,101.6 581.4,101.7 582.1,101.7 582.8,102.1 583.5,102.0 584.2,102.3 584.9,102.4 585.0,101.9 585.6,102.0 586.3,101.6 587.0,101.3 587.7,101.2 588.4,101.7 589.1,101.4 589.8,101.7 590.5,101.7 591.2,101.5 591.9,101.4 592.6,101.0 593.3,100.6 594.0,100.7 594.7,101.0 595.0,101.0 595.4,100.8 596.1,101.1 596.8,101.2 597.5,101.0 598.2,100.9 598.9,100.7 599.6,100.4 600.3,99.9 601.0,99.5 601.7,99.6 602.4,100.1 603.1,100.4 603.8,100.1 604.5,99.8 605.2,99.7 605.9,99.3 606.3,99.3 606.6,99.7 607.3,100.1 608.0,99.9 608.7,99.9 609.4,99.7 610.1,100.1 610.8,100.5 611.5,100.7 612.0,101.0 612.2,101.3 612.9,101.2 613.6,101.3 614.3,101.6 615.0,101.5 615.7,101.5 616.4,101.9 617.1,102.0 617.8,102.5 618.5,102.5 619.2,103.0 619.4,102.9 619.9,102.9 620.6,102.9 621.3,102.7 622.0,102.5 622.7,102.1 623.4,101.7 624.1,102.0 624.8,101.9 625.5,102.1 626.0,101.5 626.2,101.2 626.9,100.8 627.6,100.5 628.3,100.6 629.0,100.8 629.7,100.7 630.4,101.3 631.1,101.0 631.8,100.9 632.0,100.8 632.5,100.6 633.2,100.5 633.9,100.5 634.6,100.5 635.3,100.8 636.0,100.5 636.7,100.7 637.4,100.9 638.1,101.0 638.8,100.8 639.5,100.8 640.2,100.6 640.9,100.9 641.6,100.8 642.3,100.4 643.0,100.5 643.7,100.5 644.4,100.4 645.0,99.9 645.1,100.1 645.8,100.4 646.5,100.3 647.2,100.4 647.9,100.6 648.6,100.6 649.3,100.7 650.0,100.6 650.7,100.7 651.4,100.5 652.1,100.5 652.8,100.6 653.5,100.4 654.2,100.2 654.9,100.1 655.6,100.4 656.0,100.5" fill="none" stroke="#8c564b" stroke-width="1.0" stroke-linejoin="round"/>
<polyline points="425.0,8.0 425.7,8.5 426.4,8.0 427.1,8.8 427.8,9.8 428.5,12.3 429.0,13.5 429.2,14.5 429.9,19.2 430.5,25.1 430.6,27.1 431.3,38.4 432.0,52.8 432.0,53.8 432.7,72.2 433.3,88.9 433.4,87.9 434.1,86.4 434.8,87.1 435.5,84.4 436.2,82.3 436.5,81.0 436.9,79.0 437.6,76.5 438.3,73.9 439.0,72.2 439.7,70.5 439.9,71.3 440.4,71.3 441.1,71.7 441.8,72.8 442.5,73.0 443.2,73.6 443.9,74.4 444.6,76.1 445.0,75.9 445.3,76.9 446.0,78.6 446.7,79.6 447.4,82.0 447.8,84.7 448.1,85.6 448.8,88.7 449.5,89.7 450.2,91.4 450.4,91.5 450.9,89.9 451.6,88.5 452.3,88.1 453.0,87.4 453.0,87.4 453.7,86.5 454.4,86.4 455.1,85.1 455.8,85.1 456.5,85.7 457.0,85.6 457.2,85.7 457.9,85.8 458.6,85.9 459.3,87.1 460.0,88.0 460.0,87.9 460.7,88.7 461.4,89.7 462.1,89.1 462.8,89.5 463.5,89.4 463.6,89.2 464.2,89.8 464.9,90.4 465.6,90.8 466.3,91.7 467.0,92.6 467.0,92.5 467.7,92.2 468.4,92.9 469.1,92.8 469.8,93.8 470.1,93.9 470.5,94.2 471.2,95.0 471.9,95.6 472.6,96.2 473.0,96.4 473.3,96.5 474.0,97.6 474.7,97.9 475.4,98.7 476.1,99.1 476.7,99.1 476.8,99.1 477.5,98.6 478.2,98.3 478.9,98.1 479.6,97.8 480.3,97.7 481.0,97.4 481.7,97.2 482.4,97.4 483.1,97.6 483.8,98.2 484.5,99.0 485.0,98.7 485.2,98.6 485.9,98.2 486.6,98.1 487.3,97.9 488.0,97.8 488.7,97.6 489.4,97.5 490.1,97.6 490.8,97.5 491.5,97.5 492.2,97.3 492.9,97.0 493.6,96.7 494.3,95.9 495.0,95.5 495.7,95.9 496.4,96.4 497.1,96.5 497.8,96.2 498.5,95.9 499.2,95.7 499.9,95.7 500.0,95.9 500.6,95.6 501.3,95.8 502.0,95.7 502.7,95.8 503.4,95.6 504.1,95.7 504.8,95.5 505.5,95.5 506.2,95.2 506.9,95.0 507.6,94.6 508.3,94.3 509.0,94.2 509.7,94.2 510.4,94.3 511.1,94.3 511.8,94.4 512.5,94.4 513.2,94.6 513.9,93.9 514.6,93.8 515.0,94.0 515.3,93.7 516.0,93.9 516.7,94.4 517.4,94.5 518.1,94.1 518.8,94.0 519.5,93.9 520.2,94.3 520.9,94.4 521.6,94.2 522.3,93.7 523.0,92.9 523.7,93.1 524.4,93.3 525.1,93.5 525.8,93.6 526.5,93.6 527.2,93.9 527.9,93.4 528.6,93.2 529.3,93.3 530.0,92.8 530.0,93.2 530.7,92.9 531.4,92.5 532.1,92.7 532.8,92.4 533.5,92.3 534.2,92.4 534.9,91.8 535.6,92.4 536.3,92.6 537.0,93.2 537.7,92.8 538.4,92.6 539.1,92.8 539.8,92.7 540.5,93.0 541.2,93.0 541.9,93.0 542.6,92.8 543.3,93.0 544.0,93.1 544.7,92.9 545.0,93.2 545.4,93.3 546.1,93.1 546.8,92.8 547.5,92.7 548.2,92.8 548.9,92.8 549.6,93.0 550.3,93.0 551.0,93.3 551.7,93.0 552.4,92.5 553.1,92.6 553.8,92.2 554.5,91.7 555.2,91.9 555.9,91.9 556.6,92.3 557.3,93.0 558.0,92.7 558.7,92.9 559.4,92.7 560.0,92.6 560.1,92.5 560.8,92.1 561.5,92.3 562.2,92.2 562.9,92.5 563.6,92.5 564.3,92.6 565.0,92.7 565.7,92.3 566.4,92.2 567.1,92.0 567.8,92.1 568.5,92.3 569.2,92.7 569.9,92.3 570.6,92.4 571.3,92.3 572.0,92.1 572.7,92.0 573.4,92.0 574.1,91.9 574.8,91.9 575.5,91.6 576.2,91.7 576.9,92.2 577.6,91.8 578.3,91.8 579.0,91.6 579.7,91.7 580.0,91.6 580.4,91.4 581.1,91.5 581.8,91.8 582.5,91.8 583.2,91.9 583.9,92.1 584.6,91.8 585.3,91.9 586.0,91.9 586.7,91.5 587.4,91.4 588.1,91.7 588.8,91.7 589.5,91.7 590.2,91.8 590.9,91.8 591.6,91.4 592.3,91.4 593.0,91.2 593.7,91.3 594.4,91.3 595.1,91.5 595.8,91.5 596.5,91.8 597.2,91.8 597.9,91.9 598.6,92.1 599.3,91.9 600.0,91.5 600.0,91.7 600.7,91.1 601.4,91.0 602.1,90.9 602.8,90.8 603.5,91.1 604.2,91.4 604.9,91.2 605.6,91.1 606.3,91.4 607.0,91.1 607.7,91.3 608.4,91.6 609.1,91.9 609.8,91.6 610.5,91.3 611.2,91.0 611.9,91.0 612.6,91.4 613.3,91.4 614.0,91.2 614.7,91.5 615.4,91.5 616.1,91.1 616.8,91.2 617.5,91.3 618.2,91.5 618.9,91.5 619.6,91.3 620.0,91.3 620.3,91.2 621.0,91.6 621.7,91.5 622.4,91.5 623.1,91.6 623.8,91.1 624.5,91.3 625.2,91.2 625.9,91.2 626.6,91.4 627.3,91.3 628.0,91.4 628.7,91.1 629.4,91.3 630.1,91.5 630.8,91.6 631.5,91.6 632.2,91.4 632.9,91.4 633.6,91.6 634.3,91.5 635.0,91.7 635.7,91.3 636.4,91.1 637.1,90.9 637.8,91.2 638.5,91.6 639.2,91.6 639.9,91.9 640.0,91.8 640.6,91.9 641.3,92.1 642.0,92.0 642.7,92.0 643.4,91.9 644.1,91.9 644.8,91.9 645.5,91.7 646.2,91.4 646.9,91.3 647.6,91.6 648.3,91.7 649.0,91.9 649.7,92.1 650.4,92.1 651.1,91.9 651.8,91.8 652.5,91.8 653.2,91.5 653.9,91.6 654.6,92.1 655.3,92.0 656.0,92.1 656.0,92.1" fill="none" stroke="#e377c2" stroke-width="1.0" stroke-linejoin="round"/>
<polyline points="424.4,8.0 425.1,88.6 425.2,101.6 425.8,126.5 426.5,154.4 426.7,161.0 427.2,154.3 427.9,145.1 428.6,138.6 429.0,137.8 429.3,135.7 430.0,129.7 430.5,125.2 430.7,123.4 431.4,116.1 432.0,109.8 432.1,109.4 432.8,107.3 433.5,105.4 434.2,103.9 434.9,101.5 435.6,101.0 436.0,101.3 436.3,101.0 437.0,100.2 437.7,99.9 438.4,99.5 439.1,97.4 439.8,96.2 440.5,95.3 441.2,96.0 441.2,95.7 441.9,97.2 442.6,98.2 443.3,97.4 444.0,96.4 444.7,96.3 445.4,98.4 446.1,100.7 446.8,100.7 447.5,101.0 447.8,100.6 448.2,100.1 448.9,100.2 449.6,100.7 450.3,100.9 451.0,100.2 451.7,100.6 452.4,100.2 453.1,101.4 453.8,101.7 454.0,102.0 454.5,101.8 455.2,100.6 455.9,100.3 456.6,99.8 457.3,99.7 458.0,99.2 458.7,98.6 459.4,97.9 460.1,97.7 460.8,98.8 461.5,100.5 462.0,101.8 462.2,102.2 462.9,101.7 463.6,101.4 464.3,99.4 465.0,99.7 465.7,100.0 466.4,99.7 467.1,99.5 467.8,99.7 468.5,99.7 469.2,99.9 469.9,100.0 470.0,100.0 470.6,99.6 471.3,99.7 472.0,99.2 472.7,98.8 473.4,98.7 474.1,98.5 474.8,98.8 475.5,99.4 476.2,99.7 476.9,99.7 477.6,98.6 478.3,98.2 479.0,98.4 479.7,99.0 480.0,99.2 480.4,99.5 481.1,99.6 481.8,99.0 482.5,98.4 483.2,98.5 483.9,98.6 484.6,98.4 485.3,98.1 486.0,97.7 486.7,97.9 487.4,98.1 488.1,98.2 488.8,98.0 489.5,97.7 490.0,96.9 490.2,97.1 490.9,97.4 491.6,96.9 492.3,96.9 493.0,96.3 493.7,96.3 494.4,96.3 495.1,97.4 495.8,98.0 496.5,97.9 497.2,97.0 497.9,96.1 498.6,95.7 499.3,95.7 500.0,95.3 500.0,95.4 500.7,95.7 501.4,96.4 502.1,96.4 502.8,96.6 503.5,95.7 504.2,95.3 504.9,95.4 505.6,95.9 506.3,96.2 507.0,95.6 507.7,95.3 508.4,94.9 509.1,94.4 509.8,94.5 510.5,94.5 511.2,94.5 511.9,94.6 512.6,94.7 513.3,94.3 514.0,94.2 514.7,93.6 515.0,93.5 515.4,93.5 516.1,94.0 516.8,94.3 517.5,94.3 518.2,94.3 518.9,94.0 519.6,93.8 520.3,93.9 521.0,93.7 521.7,93.7 522.4,93.6 523.1,93.9 523.8,94.2 524.5,93.9 525.2,93.7 525.9,93.2 526.6,93.3 527.3,93.4 528.0,93.6 528.7,93.7 529.4,93.4 530.0,93.1 530.1,93.1 530.8,93.2 531.5,93.3 532.2,93.2 532.9,92.9 533.6,92.8 534.3,92.7 535.0,93.1 535.7,93.0 536.4,93.1 537.1,93.3 537.8,93.0 538.5,93.4 539.2,93.0 539.9,92.8 540.6,92.7 541.3,92.7 542.0,93.3 542.7,92.9 543.4,93.0 544.1,92.8 544.8,92.9 545.0,93.0 545.5,92.8 546.2,93.1 546.9,92.9 547.6,92.5 548.3,92.3 549.0,92.9 549.7,92.8 550.4,93.3 551.1,93.2 551.8,93.2 552.5,92.9 553.2,92.8 553.9,92.9 554.6,92.9 555.3,92.5 556.0,92.0 556.7,92.0 557.4,92.0 558.1,92.7 558.8,92.8 559.5,92.5 560.0,92.3 560.2,92.5 560.9,92.4 561.6,92.2 562.3,92.0 563.0,92.5 563.7,92.3 564.4,92.6 565.1,92.5 565.8,92.5 566.5,92.6 567.2,92.8 567.9,92.7 568.6,92.5 569.3,92.7 570.0,92.8 570.7,92.6 571.4,92.3 572.1,92.1 572.8,92.0 573.5,92.2 574.2,92.1 574.9,91.9 575.6,91.5 576.3,91.6 577.0,91.9 577.7,92.0 578.4,92.2 579.1,92.4 579.8,92.1 580.0,92.2 580.5,92.6 581.2,92.3 581.9,92.3 582.6,92.0 583.3,91.8 584.0,91.4 584.7,91.7 585.4,91.5 586.1,91.6 586.8,91.5 587.5,91.9 588.2,91.9 588.9,91.9 589.6,91.7 590.3,91.6 591.0,91.4 591.7,91.4 592.4,91.7 593.1,91.8 593.8,91.5 594.5,91.6 595.2,91.6 595.9,91.4 596.6,91.1 597.3,91.2 598.0,91.5 598.7,91.4 599.4,90.9 600.0,91.1 600.1,90.9 600.8,90.9 601.5,90.8 602.2,90.7 602.9,90.6 603.6,90.7 604.3,90.8 605.0,90.9 605.7,91.0 606.4,91.0 607.1,90.6 607.8,90.4 608.5,90.3 609.2,90.3 609.9,90.1 610.6,90.2 611.3,90.2 612.0,90.0 612.7,90.0 613.4,90.1 614.1,89.7 614.8,89.5 615.5,89.8 616.2,90.1 616.9,89.9 617.6,89.7 618.3,89.4 619.0,89.6 619.4,89.5 619.7,89.6 620.4,89.6 621.1,89.5 621.8,89.4 622.5,89.7 623.2,89.4 623.9,89.1 624.6,89.3 625.3,89.6 626.0,89.9 626.7,89.7 627.4,89.8 628.1,89.8 628.8,89.6 629.5,89.6 630.2,89.1 630.9,89.4 631.6,89.1 632.3,89.2 633.0,89.3 633.7,89.3 634.4,89.4 635.1,89.3 635.8,89.3 636.5,89.4 637.2,89.3 637.9,89.5 638.6,89.3 639.3,89.4 640.0,89.8 640.0,89.5 640.7,89.9 641.4,89.8 642.1,89.8 642.8,89.9 643.5,89.8 644.2,90.3 644.9,90.3 645.6,90.2 646.3,90.4 647.0,90.4 647.7,90.6 648.4,90.4 649.1,90.6 649.8,90.5 650.5,90.5 651.2,90.4 651.9,90.7 652.6,91.0 653.3,90.9 654.0,90.9 654.7,91.1 655.4,91.4 656.0,91.3" fill="none" stroke="#7f7f7f" stroke-width="1.0" stroke-linejoin="round"/>
<polyline points="424.3,198.0 424.5,191.0 425.0,178.0 425.7,159.2 426.0,150.5 426.4,147.2 427.1,138.3 427.8,130.1 427.9,127.9 428.5,130.4 429.2,129.2 429.5,127.8 429.9,125.3 430.6,127.3 431.2,131.9 431.3,132.7 432.0,144.6 432.7,153.9 433.4,160.2 433.5,160.1 434.1,156.0 434.8,149.5 435.5,144.2 435.7,143.5 436.2,140.2 436.9,136.1 437.6,132.8 438.0,129.7 438.3,128.9 439.0,129.0 439.7,128.4 440.4,128.3 441.1,125.7 441.8,123.4 442.5,121.6 442.5,121.9 443.2,120.0 443.9,118.6 444.6,118.3 445.3,118.0 446.0,117.8 446.7,118.1 447.0,118.2 447.4,118.3 448.1,117.7 448.8,117.6 449.5,117.6 450.2,117.2 450.9,115.9 451.4,115.3 451.6,114.1 452.3,112.1 453.0,111.7 453.7,109.6 454.4,108.9 455.1,109.3 455.8,108.6 456.0,108.6 456.5,108.4 457.2,109.2 457.9,110.8 458.6,110.6 459.3,110.9 460.0,110.7 460.0,111.0 460.7,110.5 461.4,109.9 462.1,109.0 462.8,108.4 463.5,107.7 464.2,106.8 464.9,107.8 465.0,107.5 465.6,108.2 466.3,109.4 467.0,109.1 467.7,108.5 468.4,108.1 469.1,107.1 469.8,106.5 470.5,105.9 471.2,105.0 471.9,104.3 472.0,104.3 472.6,104.2 473.3,104.0 474.0,104.5 474.7,104.8 475.4,104.9 476.1,105.3 476.8,104.7 477.5,104.8 478.2,104.0 478.9,103.7 479.6,103.5 480.3,102.6 480.6,102.7 481.0,102.7 481.7,102.5 482.4,102.2 483.1,101.6 483.8,101.2 484.5,100.9 485.2,100.6 485.9,100.5 486.6,100.6 487.3,100.2 488.0,100.0 488.7,100.3 489.4,100.7 489.8,101.2 490.1,101.1 490.8,101.0 491.5,101.0 492.2,100.3 492.9,100.2 493.6,99.8 494.3,99.8 495.0,99.8 495.7,99.6 496.4,99.6 497.1,100.0 497.8,100.1 498.5,99.9 499.2,99.5 499.9,98.9 500.6,98.8 501.0,98.8 501.3,98.9 502.0,99.2 502.7,99.1 503.4,98.6 504.1,97.9 504.8,98.0 505.5,98.7 506.2,99.3 506.9,98.9 507.6,98.7 508.3,98.7 509.0,99.1 509.7,99.1 510.4,99.4 511.1,99.7 511.8,100.0 512.5,100.1 513.2,99.6 513.9,99.0 514.6,98.8 515.0,99.0 515.3,98.9 516.0,98.8 516.7,98.5 517.4,97.8 518.1,97.6 518.8,97.9 519.5,98.3 520.2,98.9 520.9,99.0 521.6,99.2 522.3,98.7 523.0,98.8 523.7,98.8 524.4,98.8 525.1,98.4 525.8,98.5 526.5,98.0 527.2,97.9 527.9,97.7 528.6,97.7 529.3,97.8 530.0,97.9 530.0,98.1 530.7,98.1 531.4,98.4 532.1,98.3 532.8,98.3 533.5,98.7 534.2,98.6 534.9,98.5 535.6,98.4 536.3,98.2 537.0,98.6 537.7,98.6 538.4,98.5 539.1,98.6 539.8,98.3 540.5,98.1 541.2,97.9 541.9,97.5 542.6,97.7 543.3,97.9 544.0,98.2 544.7,98.4 545.0,98.4 545.4,98.5 546.1,98.6 546.8,98.6 547.5,98.1 548.2,97.5 548.9,97.4 549.6,97.3 550.3,97.0 551.0,97.4 551.7,97.9 552.4,98.0 553.1,98.1 553.8,97.9 554.5,97.7 555.2,97.3 555.9,97.4 556.6,97.3 557.3,97.2 558.0,97.0 558.7,97.4 559.4,97.5 560.0,97.2 560.1,97.5 560.8,97.4 561.5,96.9 562.2,96.4 562.9,96.8 563.6,97.1 564.3,97.5 565.0,97.2 565.7,96.8 566.4,96.9 567.1,97.0 567.8,96.7 568.5,96.6 569.2,96.6 569.9,96.7 570.6,96.5 571.3,96.2 572.0,96.1 572.7,96.4 573.4,96.7 574.1,96.7 574.8,96.7 575.5,96.6 576.2,96.4 576.9,96.2 577.6,95.7 578.3,95.5 579.0,95.6 579.7,95.9 580.0,96.0 580.4,95.8 581.1,95.9 581.8,96.1 582.5,95.9 583.2,95.8 583.9,95.8 584.6,95.9 585.3,95.3 586.0,95.1 586.7,95.1 587.4,95.4 588.1,95.3 588.8,95.5 589.5,96.0 590.2,95.9 590.9,95.9 591.6,95.8 592.3,96.0 593.0,95.6 593.7,95.6 594.4,95.1 595.1,95.2 595.8,95.0 596.5,95.0 597.2,94.8 597.9,94.6 598.6,94.9 599.3,95.1 600.0,95.4 600.0,95.2 600.7,95.1 601.4,95.2 602.1,94.7 602.8,94.5 603.5,94.2 604.2,94.2 604.9,94.2 605.6,94.4 606.3,94.4 607.0,94.3 607.7,94.4 608.4,94.2 609.1,94.2 609.8,94.1 610.5,94.0 611.2,94.0 611.9,94.0 612.6,94.4 613.3,94.2 614.0,93.7 614.7,93.8 615.4,94.2 616.1,94.3 616.8,94.6 617.5,94.5 618.2,94.6 618.9,94.6 619.6,94.3 620.0,94.3 620.3,94.2 621.0,94.1 621.7,94.0 622.4,93.8 623.1,94.0 623.8,94.3 624.5,94.4 625.2,94.5 625.9,94.4 626.6,94.2 627.3,94.1 628.0,94.0 628.7,93.8 629.4,94.1 630.1,93.7 630.8,93.9 631.5,93.8 632.2,93.8 632.9,93.9 633.6,93.5 634.3,93.3 635.0,93.5 635.7,93.4 636.4,93.3 637.1,93.5 637.8,93.3 638.5,93.5 639.2,93.9 639.9,94.0 640.0,93.8 640.6,93.8 641.3,93.5 642.0,93.4 642.7,93.3 643.4,93.5 644.1,93.6 644.8,93.4 645.5,93.6 646.2,93.9 646.9,93.5 647.6,93.5 648.3,93.1 649.0,93.0 649.7,93.4 650.4,93.6 651.1,93.3 651.8,93.3 652.5,93.0 653.2,93.0 653.9,92.8 654.6,92.4 655.3,92.9 656.0,92.8 656.0,93.1" fill="none" stroke="#bcbd22" stroke-width="1.0" stroke-linejoin="round"/>
<polyline points="423.9,8.0 424.0,99.3 424.1,198.6 424.6,152.1 424.6,154.0 425.3,118.4 425.5,107.9 426.0,96.1 426.7,76.0 426.8,71.5 427.4,71.2 428.1,75.2 428.5,77.9 428.8,79.3 429.5,83.1 430.2,86.4 430.7,89.9 430.9,90.6 431.6,93.0 432.3,97.1 432.7,97.7 433.0,98.7 433.7,102.3 434.4,105.4 434.7,107.1 435.1,107.2 435.8,107.5 436.5,106.4 437.2,103.7 437.9,102.4 438.0,103.2 438.6,102.6 439.3,102.8 440.0,103.0 440.7,101.1 441.4,99.3 442.1,97.6 442.8,98.7 443.5,99.7 443.8,100.2 444.2,100.3 444.9,100.1 445.6,100.2 446.3,100.0 447.0,100.0 447.0,100.3 447.7,100.2 448.4,100.8 449.1,100.5 449.8,101.6 450.4,101.5 450.5,101.2 451.2,100.7 451.9,100.9 452.6,101.5 453.3,102.3 454.0,102.7 454.0,102.7 454.7,103.8 455.4,104.1 456.1,105.1 456.8,104.3 457.0,105.1 457.5,104.8 458.2,104.8 458.9,105.3 459.6,105.9 460.3,106.2 461.0,106.4 461.0,106.3 461.7,105.6 462.4,106.2 463.1,106.2 463.8,106.7 464.5,106.6 465.0,106.1 465.2,106.2 465.9,106.3 466.6,105.6 467.3,105.3 468.0,104.0 468.7,103.9 468.8,104.2 469.4,103.4 470.1,102.9 470.8,101.7 471.5,100.5 472.2,100.5 472.5,100.8 472.9,100.6 473.6,101.3 474.3,102.0 475.0,101.4 475.7,101.2 476.4,100.8 476.7,100.8 477.1,100.5 477.8,100.6 478.5,100.0 479.2,99.7 479.9,99.7 480.6,98.8 481.3,97.6 482.0,96.9 482.7,96.9 483.4,97.4 484.1,97.3 484.8,96.8 485.0,96.4 485.5,96.1 486.2,95.8 486.9,96.4 487.6,97.3 488.3,97.2 489.0,96.1 489.7,95.6 490.4,95.6 491.1,95.3 491.8,95.3 492.5,95.3 493.2,95.1 493.9,94.8 494.6,94.8 495.0,94.3 495.3,94.0 496.0,93.9 496.7,93.5 497.4,93.3 498.1,93.1 498.8,93.1 499.5,93.0 500.2,93.5 500.9,92.9 501.6,93.0 502.3,92.6 503.0,92.5 503.0,92.5 503.7,92.1 504.4,92.2 505.1,92.0 505.8,91.9 506.5,91.5 507.2,91.0 507.9,90.6 508.0,90.7 508.6,90.5 509.3,90.3 510.0,89.9 510.7,89.6 511.4,89.7 512.0,89.2 512.1,89.1 512.8,89.9 513.5,90.3 514.2,90.8 514.9,91.5 515.6,91.9 516.0,92.3 516.3,92.5 517.0,92.5 517.7,93.1 518.4,92.9 519.1,92.4 519.8,92.1 520.5,92.2 521.2,92.6 521.9,92.9 522.6,92.9 523.3,93.1 524.0,93.3 524.7,93.5 525.0,93.2 525.4,93.2 526.1,92.7 526.8,92.9 527.5,93.2 528.2,93.2 528.9,93.0 529.6,92.9 530.3,92.8 531.0,93.5 531.7,93.4 532.4,93.4 533.1,93.6 533.8,93.5 534.5,93.4 535.2,93.6 535.9,94.0 536.6,93.6 537.3,93.6 538.0,93.3 538.7,93.2 539.4,93.0 540.0,92.9 540.1,92.9 540.8,93.3 541.5,93.5 542.2,93.7 542.9,93.7 543.6,93.8 544.3,93.3 545.0,93.2 545.7,93.3 546.4,93.3 547.1,92.9 547.8,92.9 548.5,93.1 549.2,93.2 549.9,93.4 550.6,93.6 551.3,93.5 552.0,93.3 552.7,93.4 553.4,93.4 554.1,93.6 554.8,92.9 555.5,92.9 556.2,93.0 556.9,93.3 557.6,93.6 558.3,93.4 559.0,93.5 559.7,93.2 560.0,93.2 560.4,93.3 561.1,93.6 561.8,93.2 562.5,93.3 563.2,93.8 563.9,93.6 564.6,93.6 565.3,93.8 566.0,93.7 566.7,93.2 567.4,92.5 568.1,92.6 568.8,92.8 569.5,93.2 570.2,93.6 570.9,93.1 571.6,92.9 572.3,92.9 573.0,93.3 573.7,93.9 574.4,93.6 575.1,93.4 575.8,93.0 576.5,93.2 577.2,93.3 577.9,93.7 578.6,93.9 579.3,94.1 580.0,94.3 580.0,94.3 580.7,93.9 581.4,94.4 582.1,94.1 582.8,94.3 583.5,94.6 584.2,94.5 584.9,94.6 585.6,94.4 586.3,94.4 587.0,94.4 587.7,94.3 588.4,94.3 589.1,94.2 589.8,94.0 590.5,94.4 591.2,94.7 591.9,95.0 592.6,95.1 593.3,94.9 594.0,95.0 594.7,94.8 595.4,94.8 596.1,94.8 596.8,94.7 597.5,94.4 598.2,94.9 598.9,95.1 599.6,95.4 600.0,95.5 600.3,95.1 601.0,95.1 601.7,95.0 602.4,95.0 603.1,95.2 603.8,95.3 604.5,95.2 605.2,95.0 605.9,95.1 606.6,95.3 607.3,95.1 608.0,95.1 608.7,95.3 609.4,95.8 610.1,95.8 610.8,95.7 611.5,95.2 612.2,95.0 612.9,95.4 613.6,95.6 614.3,95.7 615.0,95.6 615.7,95.6 616.4,95.5 617.1,95.6 617.8,95.9 618.5,95.5 619.2,95.3 619.9,95.5 620.0,95.3 620.6,95.2 621.3,95.3 622.0,95.0 622.7,95.1 623.4,95.1 624.1,95.3 624.8,95.1 625.5,95.2 626.2,95.1 626.9,95.6 627.6,95.8 628.3,95.6 629.0,95.5 629.7,95.5 630.4,95.6 631.1,95.8 631.8,95.8 632.5,96.0 633.2,96.0 633.9,96.2 634.6,96.4 635.3,96.2 636.0,96.0 636.7,96.0 637.4,95.7 638.1,95.7 638.8,96.0 639.5,96.2 640.0,96.2 640.2,96.1 640.9,96.0 641.6,95.7 642.3,95.8 643.0,95.4 643.7,95.6 644.4,95.8 645.1,95.9 645.8,96.5 646.5,96.4 647.2,96.3 647.9,96.5 648.6,96.1 649.3,96.2 650.0,96.1 650.7,96.4 651.4,95.8 652.1,95.6 652.8,95.4 653.5,95.6 654.2,95.5 654.9,95.9 655.6,96.2 656.0,95.8" fill="none" stroke="#17becf" stroke-width="1.0" stroke-linejoin="round"/>
<line x1="423.90" y1="40.00" x2="655.50" y2="40.00" stroke="#ff0000" stroke-width="2.6" stroke-dasharray="7.6 3.75"/>
</g>
<g clip-path="url(#clipC)">
<polyline points="72.9,390.0 73.6,380.2 74.3,371.2 74.5,369.5 75.0,365.8 75.7,356.4 76.0,353.0 76.4,350.5 77.1,345.6 77.8,340.4 78.0,340.1 78.5,336.6 79.2,331.0 79.9,331.5 80.0,331.3 80.6,330.6 81.3,331.0 82.0,330.1 82.0,329.4 82.7,325.2 83.4,320.8 84.0,319.1 84.1,318.7 84.8,319.4 85.5,319.8 86.2,319.4 86.5,319.5 86.9,320.7 87.6,322.5 88.3,325.3 89.0,324.8 89.7,324.3 90.4,322.1 90.4,322.1 91.1,322.2 91.8,323.2 92.5,322.6 93.2,322.0 93.9,320.7 94.6,319.6 95.3,319.7 95.7,320.0 96.0,321.2 96.7,322.1 97.4,323.3 98.1,323.6 98.8,323.9 99.5,324.5 100.2,324.9 100.9,324.5 100.9,324.2 101.6,324.0 102.3,324.8 103.0,324.8 103.7,326.5 104.4,326.9 105.1,328.3 105.8,329.4 106.2,329.8 106.5,329.2 107.2,328.1 107.9,327.7 108.6,327.4 109.3,327.7 110.0,328.8 110.7,328.3 111.4,326.9 112.0,325.8 112.1,325.3 112.8,325.4 113.5,326.6 114.2,327.2 114.9,328.0 115.6,328.1 116.3,327.4 117.0,326.7 117.0,326.6 117.7,325.8 118.4,325.8 119.1,325.8 119.8,325.5 120.5,324.7 121.2,324.5 121.9,323.4 122.0,323.8 122.6,323.4 123.3,323.3 124.0,323.8 124.7,324.1 125.4,323.7 126.0,324.4 126.1,324.2 126.8,324.3 127.5,324.8 128.2,325.0 128.9,325.3 129.6,324.8 130.3,325.2 131.0,325.2 131.0,325.2 131.7,325.2 132.4,325.2 133.1,325.1 133.8,324.7 134.5,324.9 135.2,324.2 135.9,323.0 136.6,322.1 137.3,322.1 137.7,322.4 138.0,322.4 138.7,322.4 139.4,321.9 140.1,321.6 140.8,321.2 141.5,320.8 142.2,321.3 142.9,321.3 143.6,321.2 144.3,320.9 145.0,320.6 145.7,320.6 146.4,320.4 146.9,320.0 147.1,319.8 147.8,319.2 148.5,319.5 149.2,319.9 149.9,319.9 150.6,319.7 151.3,319.1 152.0,319.2 152.7,318.8 153.4,319.0 154.0,318.9 154.1,319.2 154.8,319.2 155.5,320.1 156.2,320.2 156.9,319.9 157.6,319.3 158.3,318.8 159.0,318.2 159.7,318.8 160.4,318.8 161.1,318.8 161.8,318.6 162.0,318.4 162.5,318.2 163.2,318.3 163.9,318.4 164.6,318.2 165.3,318.3 166.0,317.7 166.7,317.6 167.4,317.6 168.1,317.2 168.8,317.2 169.5,317.5 170.2,317.0 170.9,317.3 171.6,317.4 172.3,317.1 173.0,316.6 173.7,315.9 174.4,315.8 175.0,315.6 175.1,315.5 175.8,315.6 176.5,315.8 177.2,316.1 177.9,316.7 178.6,316.6 179.3,315.7 180.0,315.3 180.7,314.5 181.4,314.6 182.1,314.7 182.8,314.6 183.5,314.4 184.2,314.1 184.9,313.6 185.6,313.5 186.3,313.8 187.0,314.0 187.7,313.6 188.4,313.7 189.1,314.2 189.8,314.4 190.0,314.3 190.5,314.2 191.2,314.5 191.9,314.2 192.6,313.9 193.3,313.3 194.0,312.8 194.7,312.7 195.4,312.4 196.1,312.4 196.8,312.5 197.5,312.7 198.2,312.5 198.9,312.8 199.6,312.9 200.3,313.0 201.0,312.6 201.7,312.2 202.4,312.0 203.1,311.7 203.8,311.8 204.5,311.8 205.0,311.5 205.2,311.6 205.9,311.8 206.6,311.9 207.3,312.3 208.0,312.0 208.7,311.9 209.4,311.4 210.1,311.6 210.8,311.4 211.5,311.5 212.2,311.4 212.9,310.8 213.6,310.6 214.3,310.1 215.0,310.0 215.7,310.4 216.4,310.2 217.1,310.1 217.8,309.5 218.5,309.7 219.2,309.7 219.9,309.8 220.0,309.8 220.6,309.7 221.3,309.7 222.0,309.4 222.7,309.3 223.4,309.3 224.1,308.7 224.8,308.6 225.5,308.4 226.2,308.2 226.9,308.4 227.6,308.0 228.3,307.5 229.0,306.8 229.7,306.7 230.4,306.8 231.1,306.4 231.8,306.5 232.5,306.6 233.2,306.7 233.9,306.4 234.6,306.0 235.0,305.8 235.3,305.9 236.0,305.7 236.7,305.9 237.4,306.3 238.1,306.1 238.8,305.9 239.5,305.7 240.2,305.4 240.9,305.1 241.6,304.9 242.3,304.6 243.0,304.6 243.7,305.0 244.4,305.0 245.1,305.0 245.8,304.8 246.5,304.8 247.2,304.7 247.9,304.8 248.6,305.1 249.3,304.7 250.0,304.5 250.0,304.7 250.7,304.7 251.4,304.4 252.1,304.6 252.8,304.3 253.5,304.4 254.2,303.8 254.9,303.7 255.6,303.6 256.3,303.8 257.0,303.9 257.7,303.8 258.4,303.6 259.1,303.8 259.8,303.9 260.0,304.0 260.5,303.9 261.2,304.0 261.9,304.1 262.6,303.9 263.3,303.7 264.0,303.6 264.7,303.5 265.4,303.8 266.1,303.7 266.8,303.6 267.5,303.7 268.2,303.7 268.9,303.4 269.6,303.6 270.0,304.0 270.3,303.9 271.0,304.1 271.7,304.2 272.4,304.2 273.1,304.3 273.8,304.1 274.5,303.8 275.2,303.8 275.9,303.8 276.6,304.1 277.3,304.3 278.0,304.4 278.7,304.3 279.4,304.1 280.0,304.1 280.1,304.0 280.8,304.2 281.5,304.7 282.2,304.8 282.9,304.9 283.6,305.2 284.3,305.2 285.0,305.1 285.7,305.4 286.4,305.3 287.1,305.3 287.8,305.1 288.5,305.6 289.2,305.4 289.9,305.5 290.0,305.3 290.6,305.3 291.3,305.3 292.0,305.5 292.7,305.8 293.4,305.8 294.1,305.9 294.8,305.5 295.5,305.8 296.2,305.7 296.9,306.0 297.6,305.9 298.3,305.8 299.0,305.6 299.7,305.6 300.4,305.4 301.1,304.9 301.8,305.0 302.5,305.3 303.2,305.0 303.9,304.9 304.6,305.1 305.3,305.0 306.0,304.9 306.7,304.6 307.4,304.7 308.1,304.5 308.8,304.6 309.5,304.7 310.0,304.7 310.2,304.9 310.9,305.0 311.6,304.7 312.3,304.8 313.0,304.9 313.7,305.1 314.4,305.7 315.1,305.6 315.8,305.1 316.5,304.9 317.2,304.8 317.9,304.8 318.6,305.0 319.3,305.1 320.0,305.0 320.7,304.8 321.4,304.4 322.1,304.5 322.8,304.6 323.5,304.6 324.2,304.5 324.9,304.9 325.6,304.8 326.3,305.1 327.0,304.9 327.7,305.1 328.0,304.8" fill="none" stroke="#1f77b4" stroke-width="1.0" stroke-linejoin="round"/>
<polyline points="72.9,330.0 73.6,321.6 74.0,314.2 74.3,311.1 75.0,306.1 75.5,303.0 75.7,300.9 76.4,299.3 77.0,298.1 77.1,298.8 77.8,296.3 78.5,291.7 79.0,288.7 79.2,287.4 79.9,287.4 80.6,288.1 81.0,289.5 81.3,290.9 82.0,290.4 82.7,289.1 83.0,287.6 83.4,287.4 84.1,286.4 84.8,285.4 85.1,285.5 85.5,286.1 86.2,286.8 86.9,286.1 87.6,285.7 87.8,285.3 88.3,286.6 89.0,290.6 89.7,294.7 90.4,299.5 90.4,298.1 91.1,297.7 91.8,296.7 92.5,295.1 93.0,295.6 93.2,295.6 93.9,297.1 94.6,296.7 95.3,297.0 95.5,297.3 96.0,298.1 96.7,299.4 97.4,300.3 98.1,299.9 98.3,299.7 98.8,298.8 99.5,298.4 100.2,298.6 100.9,299.1 101.6,300.1 102.3,300.9 103.0,301.8 103.5,302.4 103.7,302.3 104.4,299.1 105.1,296.8 105.5,294.7 105.8,294.1 106.5,291.8 107.2,289.5 107.5,288.2 107.9,288.8 108.6,291.0 109.3,293.5 110.0,295.6 110.1,295.9 110.7,296.9 111.4,297.8 112.1,298.4 112.8,299.0 113.5,299.5 114.2,299.7 114.9,299.3 115.4,300.5 115.6,301.0 116.3,301.8 117.0,302.1 117.7,301.8 118.4,301.9 119.1,301.6 119.8,301.9 120.5,301.3 120.6,301.7 121.2,301.4 121.9,301.9 122.6,302.3 123.3,303.0 124.0,303.9 124.7,304.1 125.4,304.6 126.1,305.2 126.8,305.3 127.2,305.2 127.5,304.8 128.2,304.7 128.9,304.6 129.6,304.6 130.3,304.7 131.0,304.5 131.7,304.2 132.4,304.4 132.4,304.3 133.1,304.6 133.8,304.5 134.5,304.5 135.2,304.2 135.9,303.4 136.6,302.5 137.3,302.5 138.0,302.8 138.7,302.8 139.4,303.1 140.0,303.0 140.1,303.0 140.8,302.4 141.5,302.3 142.2,302.6 142.9,302.3 143.6,302.3 144.3,302.3 145.0,302.0 145.7,301.8 146.4,302.0 146.9,301.9 147.1,302.0 147.8,302.1 148.5,301.3 149.2,301.1 149.9,300.8 150.6,301.0 151.3,300.8 152.0,300.8 152.7,300.6 153.4,301.1 154.1,301.1 154.8,301.2 155.0,301.2 155.5,301.3 156.2,301.5 156.9,301.7 157.6,301.2 158.3,301.5 159.0,301.0 159.7,301.2 160.4,301.2 161.1,301.1 161.8,301.8 162.0,301.7 162.5,302.6 163.2,303.0 163.9,302.5 164.6,301.8 165.3,301.4 166.0,302.3 166.7,303.0 167.4,303.8 168.1,304.0 168.8,303.9 169.5,303.6 170.2,303.9 170.9,304.2 171.6,304.0 172.3,304.1 173.0,304.7 173.1,304.7 173.7,305.3 174.4,305.3 175.1,305.8 175.8,306.4 176.5,306.8 177.2,306.6 177.9,305.7 178.6,305.5 179.3,305.8 180.0,306.1 180.7,306.5 181.4,306.9 182.1,306.9 182.8,306.8 183.5,307.2 184.2,307.5 184.9,307.7 185.6,307.7 186.3,307.2 186.3,307.4 187.0,307.1 187.7,307.2 188.4,307.7 189.1,308.3 189.8,309.0 190.5,308.7 191.2,308.4 191.9,308.6 192.6,308.8 193.3,309.2 194.0,309.6 194.7,309.4 195.4,309.3 196.1,308.8 196.8,308.9 197.5,309.0 198.2,309.2 198.9,309.3 199.6,309.2 200.0,309.0 200.3,309.2 201.0,309.4 201.7,309.2 202.4,309.3 203.1,309.8 203.8,309.8 204.5,310.4 205.2,310.2 205.9,310.4 206.6,310.1 207.3,310.1 208.0,310.2 208.7,310.0 209.4,310.1 210.1,309.8 210.8,309.6 211.5,309.6 212.2,309.6 212.9,309.7 213.6,309.7 214.3,310.1 215.0,310.5 215.0,310.8 215.7,310.8 216.4,311.3 217.1,311.5 217.8,311.8 218.5,311.5 219.2,311.1 219.9,311.1 220.6,311.0 221.3,310.8 222.0,311.0 222.7,311.3 223.4,310.9 224.1,310.8 224.8,310.6 225.5,310.8 226.2,310.8 226.9,311.2 227.6,311.0 228.3,310.9 229.0,310.6 229.7,310.8 230.0,310.8 230.4,310.8 231.1,311.1 231.8,311.3 232.5,310.8 233.2,310.4 233.9,310.5 234.6,310.4 235.3,310.7 236.0,310.9 236.7,311.0 237.4,311.2 238.1,311.2 238.8,311.0 239.5,311.1 240.2,311.1 240.9,311.4 241.6,310.8 242.3,310.9 243.0,311.4 243.7,311.3 244.4,311.7 245.1,311.5 245.8,311.4 246.5,311.0 247.2,310.8 247.9,310.9 248.6,311.1 249.3,311.0 250.0,311.3 250.0,311.4 250.7,311.1 251.4,311.4 252.1,311.3 252.8,311.7 253.5,311.6 254.2,311.7 254.9,312.1 255.6,312.1 256.3,312.1 257.0,312.0 257.7,311.5 258.4,311.2 259.1,311.2 259.8,311.0 260.5,311.1 261.2,311.3 261.9,311.1 262.6,311.1 263.3,311.2 264.0,311.2 264.7,311.3 265.4,311.5 266.1,311.8 266.8,312.0 267.5,311.7 268.2,311.4 268.9,311.0 269.6,311.4 270.0,311.7 270.3,311.6 271.0,311.7 271.7,311.7 272.4,311.6 273.1,311.6 273.8,311.4 274.5,312.2 275.2,312.3 275.9,312.2 276.6,311.9 277.3,311.8 278.0,311.7 278.7,311.4 279.4,311.5 280.1,311.5 280.8,312.0 281.5,312.0 282.2,312.1 282.9,311.6 283.6,311.2 284.3,311.0 285.0,311.5 285.7,311.7 286.4,312.3 287.1,311.9 287.8,312.0 288.5,312.3 289.2,312.2 289.9,312.4 290.0,312.3 290.6,312.5 291.3,312.6 292.0,312.3 292.7,312.3 293.4,312.4 294.1,312.2 294.8,311.8 295.5,311.9 296.2,312.2 296.9,312.6 297.6,312.7 298.3,312.8 299.0,312.6 299.7,312.5 300.4,312.8 301.1,312.8 301.8,313.1 302.5,313.3 303.2,313.2 303.9,313.2 304.6,313.0 305.3,313.1 306.0,313.3 306.7,313.4 307.4,313.4 308.1,313.8 308.8,313.8 309.5,313.8 310.0,313.7 310.2,313.7 310.9,313.4 311.6,313.6 312.3,313.8 313.0,313.9 313.7,313.6 314.4,313.3 315.1,313.6 315.8,313.3 316.5,313.5 317.2,313.6 317.9,314.0 318.6,314.0 319.3,314.6 320.0,314.4 320.7,314.6 321.4,314.4 322.1,314.3 322.8,314.5 323.5,315.1 324.2,314.6 324.9,314.3 325.6,314.0 326.3,314.1 327.0,314.0 327.7,314.1 328.0,314.3" fill="none" stroke="#ff7f0e" stroke-width="1.0" stroke-linejoin="round"/>
<polyline points="73.2,229.0 73.9,230.8 74.0,230.8 74.6,238.9 75.0,243.2 75.3,248.7 76.0,258.4 76.0,259.5 76.7,271.3 77.3,282.6 77.4,282.4 78.0,284.7 78.1,286.1 78.8,289.5 79.5,294.2 79.9,296.7 80.2,297.2 80.9,295.2 81.6,292.9 82.3,293.0 83.0,295.7 83.7,297.0 84.0,296.9 84.4,298.2 85.1,297.8 85.8,298.7 86.5,298.8 87.2,299.6 87.9,299.2 88.6,299.7 89.1,299.7 89.3,300.4 90.0,299.0 90.7,298.3 91.4,298.3 92.1,300.1 92.8,300.2 93.5,300.6 94.2,300.8 94.9,300.7 95.6,300.7 95.7,300.4 96.3,300.9 97.0,301.1 97.7,302.0 98.4,302.1 99.1,302.0 99.8,302.2 100.0,303.2 100.5,303.8 101.2,304.3 101.9,304.5 102.6,304.4 103.3,304.1 104.0,303.1 104.7,304.5 104.8,305.0 105.4,305.6 106.1,306.9 106.8,308.1 107.5,308.5 108.2,309.2 108.9,308.4 109.6,307.6 110.0,306.8 110.3,306.0 111.0,306.2 111.7,307.7 112.4,310.1 113.1,310.3 113.8,309.1 114.5,307.9 115.2,308.0 115.9,308.2 116.6,308.1 117.0,309.0 117.3,309.0 118.0,309.8 118.7,310.6 119.4,311.9 120.1,311.2 120.8,310.9 121.5,310.5 122.2,310.1 122.9,310.3 123.6,309.8 124.3,309.5 124.6,310.2 125.0,309.4 125.7,309.5 126.4,309.6 127.1,309.1 127.8,309.6 128.5,310.2 129.2,310.6 129.9,310.9 130.6,311.2 131.0,311.0 131.3,310.8 132.0,310.4 132.7,310.3 133.4,310.1 134.1,309.9 134.8,309.6 135.5,308.9 136.2,308.3 136.9,307.9 137.6,308.5 137.7,308.5 138.3,308.6 139.0,308.8 139.7,307.8 140.4,307.6 141.1,306.9 141.8,306.7 142.5,307.3 143.2,307.6 143.9,307.6 144.0,307.5 144.6,307.0 145.3,306.7 146.0,306.6 146.7,306.8 147.4,307.2 148.1,306.6 148.8,306.4 149.5,306.5 150.2,306.5 150.8,305.5 150.9,305.4 151.6,304.6 152.3,304.0 153.0,304.3 153.7,304.6 154.4,304.9 155.1,304.9 155.8,304.8 156.5,304.7 157.2,304.6 157.9,304.4 158.6,304.2 159.3,304.2 160.0,304.4 160.7,303.7 161.4,303.7 162.0,304.0 162.1,304.0 162.8,304.1 163.5,304.5 164.2,304.1 164.9,303.9 165.6,303.3 166.3,303.5 167.0,304.1 167.7,304.2 168.4,303.6 169.1,303.3 169.8,303.0 170.5,302.8 171.2,302.9 171.9,302.7 172.6,302.4 173.3,302.5 174.0,302.9 174.7,302.5 175.0,302.5 175.4,302.0 176.1,301.8 176.8,302.0 177.5,302.4 178.2,302.8 178.9,302.8 179.6,302.8 180.3,302.5 181.0,302.8 181.7,302.4 182.4,302.6 183.1,302.7 183.8,302.5 184.5,302.3 185.2,302.1 185.9,302.0 186.3,301.7 186.6,301.7 187.3,301.7 188.0,302.3 188.7,303.4 189.4,303.9 190.1,304.2 190.8,304.1 191.5,304.3 192.2,304.5 192.9,304.8 193.6,304.9 194.3,305.6 195.0,305.8 195.7,306.2 196.4,306.9 196.8,306.7 197.1,306.2 197.8,306.0 198.5,305.4 199.2,305.2 199.9,305.1 200.6,305.0 201.3,304.8 202.0,304.5 202.7,304.2 203.4,304.1 204.1,304.1 204.8,303.6 205.5,303.4 206.0,303.2 206.2,303.3 206.9,303.2 207.6,303.4 208.3,303.3 209.0,303.7 209.7,303.7 210.4,303.8 211.1,304.2 211.8,304.3 212.5,304.4 213.2,304.9 213.9,304.9 214.6,304.5 215.0,304.6 215.3,304.4 216.0,304.0 216.7,304.0 217.4,304.2 218.1,304.1 218.8,304.1 219.5,304.2 220.2,304.0 220.9,303.9 221.6,304.0 222.3,303.7 223.0,303.8 223.7,304.2 224.4,304.7 225.1,305.4 225.7,305.1 225.8,305.0 226.5,305.2 227.2,304.9 227.9,305.0 228.6,305.2 229.3,305.5 230.0,305.3 230.7,305.1 231.4,305.2 232.1,305.3 232.8,305.2 233.5,305.0 234.2,305.0 234.9,305.2 235.6,305.0 236.3,304.8 237.0,304.7 237.7,304.7 238.0,304.6 238.4,304.8 239.1,305.0 239.8,305.4 240.5,305.5 241.2,305.5 241.9,305.3 242.6,305.5 243.3,305.5 244.0,305.5 244.7,305.2 245.4,305.5 246.1,305.1 246.8,304.8 247.5,305.2 248.2,305.4 248.9,305.9 249.6,305.8 250.0,305.9 250.3,305.7 251.0,305.4 251.7,305.3 252.4,305.7 253.1,305.7 253.8,306.2 254.5,305.7 255.2,305.6 255.9,305.6 256.6,305.8 257.3,305.7 258.0,305.8 258.7,305.8 259.4,306.0 260.1,306.2 260.8,306.3 261.5,306.4 262.2,306.4 262.9,306.4 263.6,306.4 264.3,306.0 265.0,306.2 265.7,306.1 266.4,306.4 267.1,306.6 267.8,306.4 268.5,306.3 269.2,306.3 269.9,306.2 270.0,306.2 270.6,306.0 271.3,305.9 272.0,306.2 272.7,306.4 273.4,306.5 274.1,306.4 274.8,306.2 275.5,306.6 276.2,306.2 276.9,306.1 277.6,305.9 278.3,306.1 279.0,306.3 279.7,306.7 280.4,306.6 281.1,306.8 281.8,306.6 282.5,306.8 283.2,306.4 283.9,306.1 284.6,306.0 285.3,306.3 286.0,306.8 286.7,307.1 287.4,307.3 288.1,307.3 288.8,307.3 289.5,307.5 290.0,307.6 290.2,307.3 290.9,307.2 291.6,307.3 292.3,307.1 293.0,306.9 293.7,306.8 294.4,307.0 295.1,307.5 295.8,307.3 296.5,306.9 297.2,306.9 297.9,307.0 298.6,306.7 299.3,306.4 300.0,306.4 300.7,306.4 301.4,306.5 302.1,306.3 302.8,306.4 303.5,306.4 304.2,306.6 304.9,306.5 305.6,306.1 306.3,306.3 307.0,306.5 307.7,306.6 308.4,306.7 309.1,306.6 309.8,306.3 310.0,306.3 310.5,306.0 311.2,306.2 311.9,306.4 312.6,307.0 313.3,306.9 314.0,306.7 314.7,306.6 315.4,306.8 316.1,306.6 316.8,306.7 317.5,306.5 318.2,306.6 318.9,306.6 319.6,306.8 320.3,306.5 321.0,306.3 321.7,305.9 322.4,305.9 323.1,305.9 323.8,306.3 324.5,306.6 325.2,306.8 325.9,307.0 326.6,307.3 327.3,307.0 328.0,306.5 328.0,306.7" fill="none" stroke="#2ca02c" stroke-width="1.0" stroke-linejoin="round"/>
<polyline points="72.9,229.0 73.6,258.8 73.6,259.5 74.3,271.2 74.8,278.2 75.0,280.4 75.7,292.0 76.0,296.6 76.4,299.2 77.1,304.8 77.2,305.5 77.8,298.7 78.5,291.3 78.6,288.8 79.2,296.6 79.9,308.8 79.9,307.8 80.6,308.7 81.3,307.6 82.0,306.7 82.5,306.0 82.7,306.0 83.4,304.8 84.1,302.8 84.8,300.7 85.1,300.2 85.5,300.5 86.2,301.0 86.9,303.9 87.6,306.9 88.0,308.1 88.3,309.6 89.0,310.1 89.7,310.6 90.4,311.5 91.1,312.6 91.7,313.6 91.8,314.0 92.5,312.9 93.2,312.3 93.9,311.9 94.6,311.6 95.0,311.2 95.3,310.6 96.0,308.7 96.7,307.8 97.4,307.5 98.1,308.8 98.3,309.5 98.8,310.8 99.5,311.6 100.2,311.0 100.9,309.7 101.6,309.6 102.3,310.8 103.0,311.5 103.0,311.7 103.7,312.6 104.4,312.9 105.1,312.9 105.8,312.4 106.5,313.5 107.2,314.1 107.9,315.5 108.6,314.7 108.8,314.5 109.3,313.9 110.0,312.7 110.7,311.9 111.4,312.2 112.1,312.8 112.8,312.7 113.0,312.7 113.5,313.4 114.2,313.6 114.9,313.5 115.6,312.7 116.3,311.4 117.0,311.0 117.7,312.2 118.0,312.6 118.4,312.9 119.1,314.2 119.8,313.8 120.5,314.0 121.2,314.2 121.9,314.1 122.6,314.2 123.3,314.2 124.0,314.1 124.7,313.6 125.4,313.3 126.1,312.3 126.8,312.5 127.2,312.8 127.5,312.3 128.2,312.2 128.9,312.7 129.6,313.1 130.3,313.2 131.0,313.0 131.7,313.1 132.4,312.6 133.1,312.2 133.8,312.7 134.5,312.3 135.2,312.4 135.9,312.5 136.6,312.4 137.3,311.9 137.7,311.9 138.0,311.6 138.7,311.5 139.4,311.5 140.1,311.1 140.8,310.2 141.5,310.3 142.2,311.1 142.9,312.2 143.6,312.0 144.3,311.1 145.0,309.9 145.7,309.5 146.4,309.5 147.1,310.2 147.8,310.8 148.5,310.5 149.2,310.9 149.9,310.6 150.6,310.8 150.8,310.8 151.3,310.9 152.0,311.4 152.7,311.5 153.4,311.4 154.1,311.1 154.8,311.6 155.5,311.5 156.2,311.3 156.9,310.9 157.6,311.0 158.3,310.2 159.0,310.2 159.7,310.3 160.4,310.8 161.1,310.8 161.8,310.8 162.5,310.2 163.2,309.8 163.9,310.4 164.6,310.7 165.3,311.1 166.0,311.1 166.7,310.7 167.4,310.6 168.1,310.4 168.8,310.3 169.5,310.2 170.0,310.1 170.2,310.2 170.9,310.1 171.6,309.7 172.3,310.1 173.0,310.1 173.7,310.1 174.4,310.4 175.1,310.2 175.8,309.9 176.5,310.2 177.2,310.6 177.9,310.9 178.6,311.5 179.3,310.8 180.0,310.5 180.7,309.8 181.4,310.2 182.1,310.3 182.8,310.3 183.5,310.2 184.2,310.4 184.9,310.4 185.6,310.2 186.3,310.3 187.0,310.1 187.7,310.0 188.4,310.1 189.1,310.2 189.8,310.2 190.5,310.1 191.2,310.2 191.9,309.7 192.6,309.9 193.3,309.9 194.0,310.0 194.7,309.8 195.4,309.8 196.1,310.0 196.8,309.8 197.5,309.6 198.2,309.3 198.9,309.6 199.6,309.5 200.0,309.7 200.3,310.1 201.0,309.9 201.7,310.3 202.4,310.4 203.1,310.4 203.8,309.9 204.5,309.6 205.2,309.9 205.9,309.9 206.6,310.0 207.3,310.2 208.0,310.1 208.7,309.7 209.4,309.9 210.1,310.1 210.8,310.0 211.5,310.0 212.2,309.8 212.9,310.0 213.6,309.9 214.3,309.8 215.0,310.6 215.7,310.7 216.4,311.1 217.1,310.6 217.8,310.7 218.5,310.4 219.2,310.3 219.9,310.3 220.6,310.1 221.3,310.3 222.0,310.5 222.7,310.7 223.4,310.7 224.1,310.7 224.8,310.5 225.0,310.4 225.5,310.3 226.2,310.2 226.9,310.1 227.6,310.3 228.3,310.5 229.0,310.6 229.7,310.7 230.4,310.5 231.1,311.0 231.8,310.9 232.5,311.1 233.2,311.0 233.9,310.9 234.6,310.9 235.3,310.5 236.0,310.7 236.7,310.5 237.4,310.5 238.1,309.9 238.8,310.0 239.5,310.0 240.2,309.8 240.9,309.8 241.6,309.9 242.3,310.3 243.0,310.4 243.7,310.0 244.4,310.1 245.1,310.1 245.8,310.0 246.5,309.6 247.2,309.6 247.9,309.5 248.6,309.9 249.3,310.3 250.0,310.2 250.0,309.8 250.7,310.3 251.4,310.6 252.1,310.8 252.8,310.7 253.5,310.8 254.2,310.5 254.9,310.4 255.6,310.2 256.3,310.0 257.0,309.9 257.7,309.9 258.4,309.9 259.1,310.1 259.8,310.3 260.5,309.9 261.2,310.1 261.9,309.9 262.6,309.6 263.3,309.9 264.0,310.1 264.7,310.4 265.4,310.5 266.1,310.5 266.8,310.4 267.5,310.6 268.2,310.4 268.9,310.3 269.6,310.5 270.0,310.6 270.3,310.8 271.0,310.9 271.7,310.8 272.4,310.8 273.1,310.8 273.8,310.8 274.5,310.7 275.2,310.7 275.9,310.7 276.6,310.7 277.3,310.8 278.0,310.8 278.7,310.8 279.4,311.0 280.1,311.3 280.8,310.7 281.5,310.3 282.2,310.3 282.9,310.7 283.6,310.7 284.3,310.8 285.0,310.4 285.7,310.3 286.4,310.4 287.1,310.7 287.8,311.0 288.5,311.1 289.2,311.4 289.9,311.5 290.0,311.2 290.6,311.3 291.3,311.1 292.0,311.2 292.7,310.9 293.4,311.1 294.1,311.2 294.8,311.4 295.5,311.7 296.2,311.5 296.9,310.7 297.6,310.7 298.3,310.5 299.0,310.2 299.7,310.1 300.4,310.4 301.1,310.6 301.8,310.7 302.5,310.6 303.2,310.6 303.9,310.4 304.6,310.8 305.3,310.6 306.0,310.4 306.7,310.8 307.4,311.0 308.1,311.3 308.8,311.3 309.5,311.0 310.0,310.8 310.2,310.8 310.9,310.9 311.6,310.8 312.3,310.9 313.0,310.9 313.7,311.1 314.4,311.2 315.1,311.1 315.8,310.5 316.5,310.1 317.2,309.7 317.9,310.3 318.6,310.2 319.3,310.4 320.0,310.0 320.7,309.8 321.4,309.4 322.1,309.6 322.8,309.8 323.5,309.8 324.2,310.3 324.9,310.7 325.6,311.0 326.3,311.0 327.0,310.8 327.7,310.4 328.0,310.3" fill="none" stroke="#d62728" stroke-width="1.0" stroke-linejoin="round"/>
<polyline points="72.5,229.0 72.6,259.1 72.8,289.9 73.2,299.7 73.5,306.4 73.9,306.7 74.6,304.1 75.0,302.3 75.3,301.0 76.0,299.4 76.7,297.1 77.0,294.9 77.4,294.0 78.1,295.1 78.8,294.3 79.5,294.7 80.0,296.2 80.2,296.2 80.9,298.8 81.6,299.5 82.3,300.1 83.0,298.6 83.7,297.9 83.8,298.3 84.4,298.3 85.1,298.1 85.5,297.9 85.8,298.8 86.5,302.4 87.2,305.0 87.8,306.3 87.9,306.0 88.6,305.1 89.3,303.8 90.0,303.2 90.7,303.5 91.4,304.1 92.0,304.6 92.1,304.7 92.8,304.6 93.5,303.2 94.2,301.2 94.9,300.3 95.6,301.1 96.3,301.9 97.0,302.0 97.7,300.6 98.0,300.4 98.4,299.5 99.1,298.2 99.8,298.1 100.5,299.1 101.2,299.6 101.9,299.9 102.0,299.6 102.6,299.7 103.3,299.8 104.0,298.4 104.7,297.4 105.4,296.9 106.1,296.0 106.2,296.1 106.8,297.1 107.5,297.1 108.2,298.8 108.9,300.8 109.6,302.4 110.0,302.9 110.3,303.5 111.0,303.9 111.7,304.2 112.4,304.6 113.0,304.9 113.1,305.0 113.8,305.0 114.5,305.8 115.2,306.7 115.9,307.3 116.6,307.9 116.7,307.7 117.3,308.1 118.0,308.0 118.7,307.6 119.4,306.9 120.1,307.2 120.8,307.3 121.0,307.6 121.5,308.4 122.2,308.5 122.9,309.0 123.6,309.6 124.3,309.5 125.0,309.7 125.7,309.4 126.4,309.5 127.0,309.1 127.1,308.7 127.8,308.9 128.5,309.8 129.2,310.0 129.9,310.3 130.6,310.2 131.3,310.3 132.0,310.5 132.0,310.3 132.7,310.4 133.4,310.3 134.1,310.1 134.8,310.6 135.5,310.3 136.2,310.3 136.9,310.5 137.6,310.4 137.7,311.0 138.3,311.0 139.0,311.6 139.7,312.6 140.4,313.1 141.1,313.3 141.8,312.9 142.5,312.7 143.2,312.1 143.9,312.1 144.0,312.1 144.6,311.4 145.3,311.7 146.0,311.5 146.7,311.8 147.4,312.0 148.1,313.1 148.8,313.7 149.5,314.3 150.2,314.4 150.8,314.1 150.9,314.1 151.6,313.7 152.3,313.7 153.0,313.5 153.7,313.2 154.4,312.9 155.1,313.2 155.8,313.3 156.5,312.7 157.2,312.5 157.9,312.3 158.6,311.9 159.3,312.0 160.0,312.1 160.7,312.3 161.4,312.2 162.0,312.7 162.1,312.7 162.8,312.9 163.5,313.0 164.2,312.7 164.9,313.0 165.6,312.1 166.3,312.2 167.0,312.1 167.7,312.5 168.4,312.7 169.1,312.5 169.8,312.4 170.5,312.6 171.2,312.5 171.9,312.8 172.6,312.8 173.3,312.5 174.0,312.9 174.7,312.9 175.0,313.0 175.4,313.3 176.1,313.1 176.8,313.5 177.5,313.9 178.2,313.7 178.9,313.7 179.6,313.6 180.3,313.2 181.0,313.6 181.7,313.6 182.4,314.4 183.1,314.1 183.8,313.9 184.5,314.1 185.2,314.1 185.9,313.7 186.6,313.0 187.3,313.2 188.0,313.1 188.7,313.9 189.4,313.8 190.0,313.4 190.1,313.7 190.8,313.3 191.5,313.2 192.2,313.6 192.9,313.8 193.6,313.8 194.3,314.2 195.0,314.6 195.7,314.6 196.4,314.4 197.1,314.2 197.8,314.5 198.5,314.4 199.2,313.5 199.9,313.0 200.6,313.1 201.3,313.3 202.0,313.5 202.7,313.8 203.4,313.7 204.1,313.4 204.8,313.4 205.0,313.6 205.5,313.3 206.2,313.5 206.9,313.4 207.6,313.1 208.3,313.5 209.0,313.5 209.7,313.4 210.4,313.3 211.1,313.4 211.8,313.4 212.5,313.5 213.2,313.2 213.9,313.2 214.6,313.4 215.3,313.5 216.0,313.5 216.7,313.6 217.4,313.3 218.1,313.3 218.8,313.5 219.5,313.8 220.0,313.6 220.2,313.5 220.9,313.4 221.6,312.9 222.3,313.0 223.0,312.6 223.7,312.2 224.4,312.3 225.1,312.3 225.8,312.3 226.5,312.6 227.2,312.6 227.9,313.0 228.6,313.2 229.3,312.7 230.0,312.5 230.7,312.6 231.4,312.4 232.1,312.3 232.8,312.4 233.5,312.4 234.2,312.2 234.9,312.1 235.0,312.2 235.6,312.1 236.3,312.3 237.0,312.1 237.7,311.8 238.4,312.1 239.1,312.1 239.8,312.3 240.5,312.1 241.2,312.0 241.9,312.2 242.6,312.2 243.3,312.5 244.0,312.2 244.7,312.1 245.4,312.0 246.1,311.8 246.8,311.8 247.5,311.8 248.2,311.8 248.9,312.1 249.6,312.1 250.0,312.6 250.3,312.8 251.0,312.4 251.7,312.2 252.4,311.7 253.1,311.5 253.8,311.8 254.5,311.9 255.2,311.9 255.9,312.0 256.6,311.8 257.3,311.4 258.0,311.8 258.7,311.8 259.4,312.0 260.1,312.0 260.8,312.3 261.5,312.6 262.2,312.7 262.9,312.6 263.6,312.3 264.3,312.3 265.0,312.4 265.7,312.5 266.4,312.4 267.1,312.5 267.8,312.5 268.5,312.5 269.2,312.3 269.9,312.2 270.0,312.7 270.6,312.5 271.3,312.5 272.0,312.8 272.7,312.7 273.4,312.7 274.1,312.4 274.8,312.4 275.5,312.5 276.2,312.4 276.9,312.4 277.6,312.8 278.3,313.1 279.0,312.9 279.7,312.9 280.4,312.8 281.1,313.0 281.8,312.7 282.5,312.5 283.2,313.0 283.9,312.7 284.6,312.5 285.3,312.7 286.0,312.4 286.7,312.5 287.4,312.2 288.1,312.3 288.8,312.4 289.5,312.8 290.0,312.7 290.2,312.9 290.9,312.8 291.6,312.3 292.3,312.2 293.0,312.1 293.7,312.2 294.4,311.9 295.1,311.8 295.8,312.0 296.5,312.2 297.2,312.4 297.9,312.3 298.6,312.3 299.3,312.5 300.0,312.2 300.7,312.4 301.4,311.9 302.1,312.3 302.8,312.3 303.5,312.4 304.2,312.4 304.9,312.6 305.6,312.4 306.3,312.2 307.0,312.1 307.7,311.7 308.4,311.9 309.1,312.0 309.8,312.1 310.0,312.2 310.5,312.3 311.2,312.3 311.9,312.4 312.6,312.1 313.3,312.1 314.0,312.0 314.7,312.2 315.4,312.3 316.1,312.1 316.8,312.0 317.5,311.9 318.2,311.8 318.9,311.8 319.6,311.7 320.3,312.0 321.0,312.1 321.7,312.0 322.4,311.9 323.1,312.0 323.8,311.7 324.5,311.8 325.2,311.9 325.9,311.9 326.6,312.0 327.3,312.0 328.0,312.1 328.0,312.3" fill="none" stroke="#9467bd" stroke-width="1.0" stroke-linejoin="round"/>
<polyline points="73.5,229.0 74.2,243.3 74.6,252.0 74.9,252.0 75.6,251.0 76.0,252.2 76.3,255.7 77.0,263.6 77.3,267.7 77.7,268.0 78.4,265.9 78.5,265.8 79.1,261.8 79.8,258.8 79.9,259.1 80.5,261.3 81.0,262.9 81.2,261.6 81.9,262.6 81.9,262.6 82.6,260.8 83.0,261.8 83.3,261.2 84.0,260.6 84.0,260.0 84.7,258.9 85.2,256.6 85.4,256.0 86.1,255.4 86.5,255.2 86.8,255.6 87.5,257.9 87.5,257.9 88.2,260.5 88.4,262.2 88.9,261.9 89.6,264.9 90.3,268.0 90.4,268.5 91.0,270.0 91.7,270.8 92.4,272.3 92.4,272.8 93.1,274.6 93.8,276.4 94.5,277.9 95.0,278.7 95.2,279.3 95.9,280.3 96.6,280.9 97.3,282.6 97.6,282.5 98.0,284.3 98.7,287.6 99.4,290.5 99.6,291.1 100.1,292.0 100.8,293.5 101.5,294.7 101.5,294.6 102.2,295.9 102.9,296.2 103.5,296.9 103.6,296.3 104.3,296.2 105.0,296.7 105.7,297.4 106.2,298.0 106.4,299.2 107.1,299.3 107.8,298.9 108.5,299.1 109.2,300.0 109.9,300.1 110.6,301.1 111.3,301.8 111.4,302.0 112.0,302.4 112.7,302.4 113.4,302.9 114.1,303.0 114.8,303.0 115.5,303.7 116.2,304.0 116.7,304.2 116.9,303.9 117.6,304.6 118.3,305.2 119.0,305.7 119.7,306.8 120.4,306.0 121.1,305.6 121.8,305.5 122.0,305.6 122.5,305.3 123.2,305.6 123.9,305.8 124.6,306.6 125.3,307.2 126.0,307.5 126.7,308.3 127.2,308.4 127.4,308.2 128.1,308.1 128.8,308.1 129.5,308.2 130.2,308.2 130.9,308.5 131.6,308.1 132.3,307.9 133.0,307.2 133.7,307.5 134.4,307.7 135.1,308.0 135.8,308.9 136.5,309.3 137.2,309.5 137.7,309.4 137.9,309.6 138.6,309.8 139.3,309.7 140.0,309.3 140.7,308.5 141.4,308.5 142.1,308.7 142.8,308.9 143.5,309.3 144.2,309.4 144.9,309.1 145.6,309.3 146.3,309.1 147.0,309.3 147.7,308.9 148.4,308.8 149.1,309.7 149.8,310.1 150.0,310.3 150.5,310.1 151.2,309.3 151.9,308.9 152.6,308.1 153.3,308.1 154.0,307.9 154.7,308.4 155.4,308.6 156.1,308.7 156.8,308.9 157.5,309.2 158.2,308.9 158.9,308.6 159.6,308.6 160.3,308.1 161.0,308.0 161.7,308.0 162.0,307.8 162.4,307.7 163.1,308.2 163.8,308.4 164.5,307.8 165.2,307.9 165.9,307.4 166.6,307.8 167.3,307.8 168.0,308.3 168.7,308.3 169.4,308.8 170.1,308.9 170.8,309.0 171.5,308.9 172.2,308.9 172.9,308.6 173.6,308.5 174.3,308.6 175.0,308.8 175.7,308.4 176.4,308.3 177.1,308.1 177.8,308.1 178.5,307.8 179.2,307.8 179.9,308.5 180.0,308.4 180.6,308.8 181.3,309.3 182.0,309.4 182.7,309.2 183.4,309.0 184.1,308.6 184.8,308.3 185.5,308.3 186.2,308.5 186.9,309.0 187.6,309.6 188.3,309.7 189.0,309.7 189.7,309.5 190.4,309.5 191.1,309.5 191.8,309.0 192.5,309.1 193.2,308.9 193.9,308.8 194.6,308.8 195.3,308.6 196.0,308.6 196.7,308.9 197.4,309.1 198.1,309.1 198.8,309.5 199.5,309.4 200.0,309.4 200.2,309.0 200.9,308.9 201.6,309.1 202.3,308.7 203.0,308.8 203.7,309.0 204.4,309.3 205.1,309.5 205.8,309.6 206.5,309.5 207.2,309.2 207.9,308.9 208.6,308.8 209.3,308.4 210.0,307.9 210.7,308.6 211.4,309.0 212.1,309.5 212.8,309.3 213.5,308.9 214.2,308.9 214.9,308.9 215.6,309.1 216.3,309.3 217.0,309.1 217.7,308.8 218.4,308.4 219.1,308.6 219.8,309.0 220.5,309.2 221.2,309.5 221.9,309.0 222.6,309.3 223.3,309.2 224.0,308.9 224.7,308.9 225.0,309.3 225.4,309.4 226.1,309.5 226.8,309.5 227.5,309.7 228.2,309.5 228.9,309.3 229.6,309.3 230.3,309.4 231.0,309.4 231.7,309.3 232.4,309.5 233.1,309.8 233.8,310.1 234.5,309.9 235.2,309.9 235.9,310.1 236.6,310.2 237.3,310.0 238.0,310.2 238.7,309.9 239.4,309.9 240.1,309.6 240.8,309.7 241.5,309.7 242.2,309.8 242.9,309.7 243.6,310.1 244.3,310.6 245.0,311.0 245.7,310.8 246.4,310.1 247.1,309.9 247.8,309.9 248.5,310.2 249.2,310.0 249.9,310.2 250.0,310.4 250.6,310.4 251.3,310.9 252.0,310.7 252.7,310.3 253.4,309.8 254.1,309.8 254.8,309.9 255.5,309.7 256.2,309.7 256.9,310.3 257.6,310.5 258.3,310.6 259.0,310.5 259.7,310.3 260.4,310.0 261.1,310.5 261.8,310.4 262.5,310.1 263.2,310.2 263.9,310.2 264.6,310.4 265.3,310.7 266.0,310.2 266.7,310.3 267.4,310.3 268.1,310.2 268.8,310.4 269.5,310.5 270.0,310.3 270.2,310.3 270.9,310.3 271.6,310.3 272.3,310.6 273.0,310.6 273.7,310.6 274.4,310.4 275.1,310.4 275.8,310.6 276.5,310.8 277.2,310.5 277.9,310.4 278.6,310.6 279.3,310.5 280.0,310.6 280.7,310.6 281.4,310.5 282.1,310.5 282.8,310.6 283.5,310.6 284.2,310.7 284.9,310.8 285.6,310.9 286.3,310.8 287.0,310.9 287.7,311.1 288.4,311.1 289.1,311.7 289.8,311.5 290.0,311.3 290.5,310.9 291.2,310.7 291.9,311.0 292.6,311.0 293.3,311.1 294.0,311.1 294.7,311.0 295.4,311.0 296.1,310.9 296.8,311.0 297.5,311.3 298.2,311.0 298.9,310.6 299.6,310.3 300.3,310.3 301.0,310.5 301.7,311.0 302.4,311.6 303.1,311.4 303.8,311.0 304.5,310.9 305.2,310.9 305.9,310.8 306.6,310.6 307.3,310.5 308.0,310.4 308.7,310.5 309.4,310.6 310.0,310.6 310.1,310.7 310.8,310.7 311.5,310.6 312.2,310.6 312.9,310.8 313.6,311.1 314.3,311.1 315.0,311.2 315.7,311.3 316.4,311.1 317.1,311.0 317.8,310.8 318.5,311.1 319.2,311.1 319.9,310.8 320.6,310.8 321.3,310.9 322.0,311.2 322.7,311.2 323.4,311.3 324.1,311.0 324.8,311.4 325.5,311.1 326.2,311.0 326.9,310.9 327.6,310.9 328.0,311.2" fill="none" stroke="#8c564b" stroke-width="1.0" stroke-linejoin="round"/>
<polyline points="72.8,229.0 73.5,257.9 73.8,270.1 74.2,282.9 74.9,307.6 75.0,311.3 75.6,322.5 76.3,339.2 76.5,342.6 77.0,347.7 77.6,350.8 77.7,349.8 78.4,337.1 78.8,329.6 79.1,324.5 79.8,313.7 80.0,311.3 80.5,307.1 81.2,301.6 81.9,297.7 82.5,297.5 82.6,297.2 83.3,298.9 84.0,300.5 84.7,300.7 85.4,301.1 86.0,301.4 86.1,300.6 86.8,299.5 87.5,297.0 88.2,295.7 88.9,295.6 89.1,295.2 89.6,295.6 90.3,295.9 91.0,297.0 91.7,297.6 92.4,296.8 93.1,296.8 93.8,295.6 94.3,294.3 94.5,294.2 95.2,296.3 95.9,298.1 96.6,300.5 97.0,301.7 97.3,302.2 98.0,302.5 98.7,303.6 99.4,304.2 100.0,301.9 100.1,301.6 100.8,303.3 101.5,304.0 102.0,305.6 102.2,305.9 102.9,307.2 103.6,309.0 104.3,310.6 104.8,312.2 105.0,311.9 105.7,310.9 106.4,311.4 107.1,310.8 107.8,310.5 108.0,310.2 108.5,310.5 109.2,310.0 109.9,309.7 110.0,309.6 110.6,309.2 111.3,309.2 112.0,308.5 112.7,308.4 113.4,308.1 114.1,307.7 114.8,307.8 115.4,308.1 115.5,308.7 116.2,308.5 116.9,309.3 117.6,309.7 118.3,309.7 119.0,309.4 119.7,310.0 120.4,310.1 121.1,310.5 121.8,310.5 122.0,310.7 122.5,310.3 123.2,310.6 123.9,310.6 124.6,309.5 125.3,309.2 126.0,309.3 126.7,309.2 127.4,309.9 128.1,310.1 128.8,309.6 129.5,309.5 130.0,309.2 130.2,309.3 130.9,309.6 131.6,309.5 132.3,309.7 133.0,308.8 133.7,308.0 134.4,306.5 135.1,307.1 135.8,307.7 136.5,308.6 137.2,309.3 137.9,309.5 138.6,310.2 139.3,310.5 140.0,310.2 140.7,309.7 141.4,309.3 142.1,309.7 142.8,309.9 143.5,310.2 144.2,310.6 144.9,310.5 145.0,310.3 145.6,310.7 146.3,310.7 147.0,310.9 147.7,310.5 148.4,310.3 149.1,309.6 149.8,310.0 150.5,309.5 151.2,309.6 151.9,309.4 152.6,309.3 153.3,309.1 154.0,309.4 154.7,309.4 155.4,309.8 156.1,309.9 156.8,309.9 157.5,309.6 158.2,309.3 158.9,309.7 159.6,310.4 160.3,310.4 161.0,310.5 161.7,310.7 162.0,310.7 162.4,310.5 163.1,309.9 163.8,310.3 164.5,310.6 165.2,311.1 165.9,311.0 166.6,310.5 167.3,310.3 168.0,310.2 168.7,310.0 169.4,309.9 170.1,309.7 170.8,309.2 171.5,308.4 172.2,308.6 172.9,309.4 173.6,309.9 174.3,310.1 175.0,309.2 175.7,308.6 176.4,308.4 177.1,308.9 177.8,309.8 178.5,309.8 179.2,309.1 179.9,308.8 180.0,308.5 180.6,307.7 181.3,308.1 182.0,308.6 182.7,309.1 183.4,309.1 184.1,309.6 184.8,310.1 185.5,309.9 186.2,310.0 186.9,309.7 187.6,309.3 188.3,308.8 189.0,308.8 189.7,308.4 190.4,308.7 191.1,308.7 191.8,308.6 192.5,308.7 193.2,309.3 193.9,308.8 194.6,309.2 195.3,308.7 196.0,308.6 196.7,309.1 197.4,309.5 198.1,309.9 198.8,309.4 199.5,309.0 200.0,308.8 200.2,308.5 200.9,308.9 201.6,309.1 202.3,309.4 203.0,309.6 203.7,309.1 204.4,309.0 205.1,309.0 205.8,309.2 206.5,309.2 207.2,309.7 207.9,309.3 208.6,309.4 209.3,309.3 210.0,309.2 210.7,309.0 211.4,308.9 212.1,308.6 212.8,308.5 213.5,308.5 214.2,308.7 214.9,308.9 215.6,309.1 216.3,308.8 217.0,308.9 217.7,308.9 218.4,309.0 219.1,309.2 219.8,309.4 220.5,309.3 221.2,309.0 221.9,309.0 222.6,308.7 223.3,308.9 224.0,308.8 224.7,309.0 225.0,308.9 225.4,308.8 226.1,308.5 226.8,308.1 227.5,308.4 228.2,308.7 228.9,308.6 229.6,308.6 230.3,308.5 231.0,308.5 231.7,308.2 232.4,308.5 233.1,308.9 233.8,309.2 234.5,308.9 235.2,308.7 235.9,308.6 236.6,308.4 237.3,308.7 238.0,308.7 238.7,308.2 239.4,308.0 240.1,307.8 240.8,308.3 241.5,308.3 242.2,308.3 242.9,308.2 243.6,308.5 244.3,308.6 245.0,308.7 245.7,308.9 246.4,309.0 247.1,309.1 247.8,309.3 248.5,309.3 249.2,309.4 249.9,308.6 250.0,308.6 250.6,308.3 251.3,308.0 252.0,308.0 252.7,308.4 253.4,308.7 254.1,308.7 254.8,308.7 255.5,308.9 256.2,308.8 256.9,309.0 257.6,308.8 258.3,309.0 259.0,309.3 259.7,309.5 260.4,309.3 261.1,308.9 261.8,308.3 262.5,308.6 263.2,308.9 263.9,309.0 264.6,309.2 265.3,309.1 266.0,309.3 266.7,309.5 267.4,309.0 268.1,309.1 268.8,308.8 269.5,308.8 270.0,308.7 270.2,308.9 270.9,308.7 271.6,308.7 272.3,309.0 273.0,309.0 273.7,308.7 274.4,308.5 275.1,308.8 275.8,308.8 276.5,309.4 277.2,309.2 277.9,309.0 278.6,308.9 279.3,308.9 280.0,309.0 280.7,309.1 281.4,309.1 282.1,309.0 282.8,309.3 283.5,309.5 284.2,309.6 284.9,309.5 285.6,309.0 286.3,309.3 287.0,309.0 287.7,308.9 288.4,308.9 289.1,308.8 289.8,308.9 290.0,308.5 290.5,308.8 291.2,309.1 291.9,309.1 292.6,309.2 293.3,309.2 294.0,308.8 294.7,309.0 295.4,309.1 296.1,309.2 296.8,309.5 297.5,309.5 298.2,309.1 298.9,308.7 299.6,308.6 300.3,308.8 301.0,309.1 301.7,309.4 302.4,309.6 303.1,309.6 303.8,309.9 304.5,309.5 305.2,309.2 305.9,308.9 306.6,308.9 307.3,308.8 308.0,309.1 308.7,309.2 309.4,308.9 310.0,308.9 310.1,308.9 310.8,309.0 311.5,308.9 312.2,308.9 312.9,309.2 313.6,309.4 314.3,309.5 315.0,309.3 315.7,309.0 316.4,309.1 317.1,309.0 317.8,308.8 318.5,309.0 319.2,309.1 319.9,309.1 320.6,309.2 321.3,309.2 322.0,309.0 322.7,309.1 323.4,308.8 324.1,309.1 324.8,308.9 325.5,308.9 326.2,308.8 326.9,308.9 327.6,308.8 328.0,308.8" fill="none" stroke="#e377c2" stroke-width="1.0" stroke-linejoin="round"/>
<polyline points="72.8,410.0 73.5,399.7 74.2,387.0 74.5,383.6 74.9,378.0 75.6,372.3 76.3,368.5 76.5,367.6 77.0,367.9 77.7,363.0 78.0,360.9 78.4,357.6 79.1,352.3 79.8,346.3 80.5,341.3 80.5,340.9 81.2,337.6 81.9,335.9 82.6,337.1 83.0,338.8 83.3,338.8 84.0,339.8 84.7,337.1 85.4,335.8 86.1,333.1 86.3,333.5 86.8,331.7 87.5,329.5 88.2,326.9 88.9,327.7 89.0,327.2 89.6,328.0 90.3,328.5 91.0,327.6 91.7,327.6 91.7,327.3 92.4,327.1 93.1,327.9 93.8,328.7 94.5,329.3 95.2,329.4 95.7,328.1 95.9,328.9 96.6,329.4 97.3,329.3 98.0,330.0 98.3,330.1 98.7,330.8 99.4,331.4 100.1,332.9 100.8,334.1 101.5,335.4 101.5,335.5 102.2,334.5 102.9,333.1 103.6,331.9 104.3,330.6 105.0,329.4 105.7,327.5 105.9,327.7 106.4,327.3 107.1,327.0 107.8,326.4 108.5,326.7 109.2,327.5 109.9,327.9 110.6,327.7 111.3,328.1 112.0,327.2 112.0,327.2 112.7,326.6 113.4,327.3 114.1,327.6 114.8,327.4 115.5,327.7 116.2,328.0 116.9,328.1 117.6,328.3 118.0,328.0 118.3,328.6 119.0,328.1 119.7,327.0 120.4,326.4 121.1,325.6 121.8,325.4 122.5,325.7 123.2,325.9 123.9,325.5 124.0,325.7 124.6,324.8 125.3,324.4 126.0,324.5 126.7,324.8 127.4,325.1 128.1,324.6 128.8,324.5 129.5,324.0 130.2,323.9 130.9,324.0 131.1,324.0 131.6,324.2 132.3,324.5 133.0,323.7 133.7,324.4 134.4,324.2 135.1,323.3 135.8,322.6 136.5,322.3 137.2,322.2 137.7,322.6 137.9,322.2 138.6,322.2 139.3,322.1 140.0,322.2 140.7,322.3 141.4,322.2 142.1,321.9 142.8,322.0 143.5,321.7 144.2,321.6 144.9,321.3 145.6,321.0 145.6,321.3 146.3,321.3 147.0,320.9 147.7,321.1 148.4,321.9 149.1,322.1 149.8,322.3 150.5,322.8 150.8,323.6 151.2,323.7 151.9,323.7 152.6,323.7 153.3,323.6 154.0,323.6 154.7,323.3 155.4,322.7 156.0,322.5 156.1,322.2 156.8,322.4 157.5,322.2 158.2,322.2 158.9,321.8 159.6,321.2 160.3,320.6 161.0,320.4 161.7,320.1 162.0,320.2 162.4,320.2 163.1,320.0 163.8,319.8 164.5,319.4 165.2,318.9 165.9,319.4 166.6,320.0 167.3,320.2 168.0,319.9 168.7,319.4 169.4,319.2 170.1,319.0 170.8,319.3 171.5,319.5 172.2,319.3 172.9,319.9 173.6,320.3 174.3,319.8 175.0,319.8 175.7,319.6 176.4,319.4 177.0,319.9 177.1,320.1 177.8,320.5 178.5,320.7 179.2,320.1 179.9,319.5 180.6,319.0 181.3,318.9 182.0,318.6 182.7,318.8 183.4,318.6 184.1,318.3 184.8,317.8 185.5,318.2 186.2,318.2 186.9,318.1 187.6,318.2 188.3,318.4 189.0,318.1 189.7,318.1 190.0,317.7 190.4,318.1 191.1,318.1 191.8,317.9 192.5,317.8 193.2,318.1 193.9,317.6 194.6,317.4 195.3,317.0 196.0,316.8 196.7,317.4 197.4,317.7 198.1,318.0 198.8,317.7 199.4,317.4 199.5,317.3 200.2,317.0 200.9,317.0 201.6,317.4 202.3,318.0 203.0,318.0 203.7,317.0 204.4,317.0 205.1,317.0 205.8,317.0 206.5,317.1 207.2,316.9 207.9,317.2 208.6,317.4 209.3,317.1 210.0,317.1 210.7,317.1 211.4,316.8 212.1,317.0 212.8,317.2 213.5,317.3 214.2,317.1 214.9,316.7 215.0,316.8 215.6,316.8 216.3,316.5 217.0,316.9 217.7,317.3 218.4,317.4 219.1,317.6 219.8,317.4 220.5,317.7 221.2,317.9 221.9,318.0 222.6,318.1 223.3,317.5 224.0,317.1 224.7,316.7 225.4,317.0 226.1,317.3 226.8,317.7 227.5,317.4 228.2,316.8 228.9,316.9 229.6,316.7 230.3,316.8 231.0,316.6 231.7,316.9 232.4,316.8 233.1,316.6 233.8,316.5 234.5,316.9 235.2,317.3 235.9,317.2 236.6,317.2 237.3,317.0 238.0,317.2 238.7,317.1 238.8,316.9 239.4,316.4 240.1,316.3 240.8,316.3 241.5,316.6 242.2,316.3 242.9,316.4 243.6,316.3 244.3,316.4 245.0,316.8 245.7,316.9 246.4,316.6 247.1,316.4 247.8,316.5 248.5,316.5 249.2,316.3 249.9,316.1 250.0,316.1 250.6,316.1 251.3,316.1 252.0,316.3 252.7,316.6 253.4,316.5 254.1,317.3 254.8,317.4 255.5,317.6 256.2,317.4 256.9,317.2 257.6,316.7 258.3,317.1 259.0,317.2 259.7,317.1 260.0,317.0 260.4,317.2 261.1,317.3 261.8,317.7 262.5,317.6 263.2,318.1 263.9,318.1 264.6,318.1 265.3,318.4 266.0,318.1 266.7,317.8 267.4,318.0 268.1,317.9 268.8,318.1 269.5,318.1 270.0,318.0 270.2,317.8 270.9,318.0 271.6,317.7 272.3,317.5 273.0,317.9 273.7,318.1 274.4,318.3 275.1,318.5 275.8,318.4 276.5,318.0 277.2,317.5 277.9,317.4 278.6,317.5 279.3,317.6 280.0,317.7 280.7,318.0 281.4,317.9 282.1,318.5 282.8,318.9 283.5,318.9 284.2,319.1 284.9,318.6 285.6,318.3 286.3,318.1 287.0,318.3 287.7,318.5 288.4,318.8 289.1,318.9 289.8,318.9 290.0,318.8 290.5,318.8 291.2,318.8 291.9,319.1 292.6,318.8 293.3,318.8 294.0,318.8 294.7,319.2 295.4,319.0 296.1,318.6 296.8,318.2 297.5,318.2 298.2,318.1 298.9,318.5 299.6,318.4 300.3,318.1 301.0,318.4 301.7,317.9 302.4,317.6 303.1,317.8 303.8,317.6 304.5,317.8 305.2,317.8 305.9,317.9 306.6,318.1 307.3,318.1 308.0,318.1 308.7,318.0 309.4,318.0 310.0,318.0 310.1,318.2 310.8,317.9 311.5,317.8 312.2,317.7 312.9,317.9 313.6,317.9 314.3,318.2 315.0,318.2 315.7,317.9 316.4,317.5 317.1,317.5 317.8,317.5 318.5,317.8 319.2,318.2 319.9,318.0 320.6,317.7 321.3,317.9 322.0,317.8 322.7,317.6 323.4,317.3 324.1,317.4 324.8,317.6 325.5,317.5 326.2,317.3 326.9,317.1 327.6,317.1 328.0,317.0" fill="none" stroke="#7f7f7f" stroke-width="1.0" stroke-linejoin="round"/>
<polyline points="72.7,400.0 73.4,382.3 74.0,364.5 74.1,363.2 74.8,348.3 75.5,337.8 75.5,336.9 76.2,329.3 76.9,323.7 77.0,322.7 77.6,319.5 78.3,314.7 79.0,311.6 79.7,308.9 79.9,307.2 80.4,307.8 81.1,309.0 81.8,310.3 82.5,309.2 83.0,308.3 83.2,307.8 83.9,307.9 84.6,309.2 85.3,310.4 86.0,312.2 86.7,312.6 87.4,312.9 87.8,314.1 88.1,314.3 88.8,313.9 89.5,312.4 90.2,311.1 90.9,312.1 91.6,313.3 92.3,313.7 93.0,314.6 93.7,315.0 94.3,315.3 94.4,315.7 95.1,316.1 95.8,316.6 96.5,317.4 97.2,317.5 97.9,317.2 98.6,316.5 99.3,315.9 100.0,315.9 100.0,315.8 100.7,315.8 101.4,315.4 102.1,315.5 102.8,315.8 103.5,315.6 104.2,316.6 104.8,317.3 104.9,318.1 105.6,318.8 106.3,319.2 107.0,319.0 107.7,318.7 108.4,319.5 109.1,320.9 109.8,322.4 110.5,322.6 111.2,322.1 111.4,322.2 111.9,322.1 112.6,321.3 113.3,321.3 114.0,321.5 114.7,322.3 115.4,321.8 116.1,321.2 116.8,321.7 117.5,322.2 118.0,323.3 118.2,323.8 118.9,324.3 119.6,324.5 120.3,324.2 121.0,324.5 121.7,324.5 122.4,324.8 123.1,324.7 123.8,325.8 124.5,326.1 124.6,325.8 125.2,325.7 125.9,325.8 126.6,325.6 127.3,324.7 128.0,324.5 128.7,324.7 129.4,324.5 130.1,325.6 130.8,326.1 131.0,326.7 131.5,327.5 132.2,327.8 132.9,326.5 133.6,325.5 134.3,324.5 135.0,324.5 135.7,324.1 136.4,323.1 137.1,322.8 137.7,322.6 137.8,322.2 138.5,321.3 139.2,321.6 139.9,321.3 140.6,321.4 141.3,321.2 142.0,321.1 142.7,320.7 143.4,320.6 144.0,320.2 144.1,320.2 144.8,320.0 145.5,319.7 146.2,319.3 146.9,319.1 147.6,319.1 148.3,319.0 149.0,319.1 149.7,318.9 150.4,318.8 150.8,318.5 151.1,318.9 151.8,318.8 152.5,319.1 153.2,319.6 153.9,319.7 154.6,319.5 155.3,319.4 156.0,319.2 156.0,319.5 156.7,319.2 157.4,319.0 158.1,318.6 158.8,318.9 159.5,319.5 160.2,319.8 160.9,319.8 161.6,320.0 162.0,319.9 162.3,319.6 163.0,319.3 163.7,319.6 164.4,320.0 165.1,319.6 165.8,319.5 166.5,319.7 167.2,319.4 167.9,319.5 168.6,319.2 169.3,319.1 170.0,318.8 170.7,318.0 171.4,318.0 172.1,317.8 172.8,318.2 173.5,318.3 174.2,318.7 174.9,317.8 175.0,318.0 175.6,317.4 176.3,317.1 177.0,317.5 177.7,318.3 178.4,319.0 179.1,318.6 179.8,319.0 180.5,318.8 181.2,318.8 181.9,318.7 182.6,318.6 183.3,318.8 184.0,318.1 184.7,318.2 185.4,317.8 186.1,317.8 186.3,317.7 186.8,317.6 187.5,317.4 188.2,317.3 188.9,317.0 189.6,316.8 190.3,317.0 191.0,316.9 191.7,316.9 192.4,316.5 193.1,316.4 193.8,316.3 194.5,316.2 195.2,316.1 195.9,315.9 196.6,315.8 197.3,316.0 198.0,315.9 198.7,315.5 199.4,315.2 199.4,315.0 200.1,315.0 200.8,315.0 201.5,315.7 202.2,315.8 202.9,315.6 203.6,315.3 204.3,315.7 205.0,315.9 205.7,315.8 206.4,315.6 207.1,315.8 207.8,315.7 208.5,315.7 209.2,316.1 209.9,315.7 210.0,315.9 210.6,315.2 211.3,314.7 212.0,315.0 212.7,315.1 213.4,315.4 214.1,315.5 214.8,316.0 215.5,316.2 216.2,316.3 216.9,316.3 217.6,316.8 218.3,316.6 219.0,316.3 219.1,316.0 219.7,315.9 220.4,315.5 221.1,315.5 221.8,315.5 222.5,315.4 223.2,315.2 223.9,315.3 224.6,315.1 225.3,315.2 226.0,315.8 226.7,315.9 227.4,315.6 228.1,315.6 228.8,315.1 229.5,315.3 230.2,315.0 230.9,315.0 231.6,315.5 232.3,315.6 233.0,316.2 233.7,316.1 234.4,315.9 235.0,315.7 235.1,316.0 235.8,315.8 236.5,315.4 237.2,314.8 237.9,314.9 238.6,315.0 239.3,315.2 240.0,315.0 240.7,314.9 241.4,314.9 242.1,314.7 242.8,315.1 243.5,315.3 244.2,315.7 244.9,315.6 245.6,315.4 246.3,315.2 247.0,315.1 247.7,315.3 248.4,314.9 249.1,314.7 249.8,314.5 250.0,314.3 250.5,314.1 251.2,313.9 251.9,314.0 252.6,314.0 253.3,313.9 254.0,314.1 254.7,313.8 255.4,313.8 256.1,314.2 256.8,314.3 257.5,314.6 258.2,314.7 258.9,314.6 259.6,314.4 260.3,314.2 261.0,314.3 261.7,314.6 262.4,314.3 263.1,314.5 263.8,314.4 264.5,314.3 265.2,313.9 265.9,313.9 266.6,314.1 267.3,314.0 268.0,313.9 268.7,314.1 269.4,314.4 270.0,314.3 270.1,314.4 270.8,314.4 271.5,314.2 272.2,314.4 272.9,314.1 273.6,314.3 274.3,314.1 275.0,314.0 275.7,313.7 276.4,313.6 277.1,313.7 277.8,313.4 278.5,313.5 279.2,313.4 279.9,313.4 280.6,313.7 281.3,313.8 282.0,313.9 282.7,313.7 283.4,313.7 284.1,313.7 284.8,314.0 285.5,314.0 286.2,313.8 286.9,313.7 287.6,314.1 288.3,314.1 289.0,314.1 289.7,314.0 290.0,314.0 290.4,314.2 291.1,313.8 291.8,313.8 292.5,313.8 293.2,313.9 293.9,313.9 294.6,313.7 295.3,313.6 296.0,313.6 296.7,313.5 297.4,313.3 298.1,313.3 298.8,313.4 299.5,313.4 300.2,313.3 300.9,313.6 301.6,313.8 302.3,313.6 303.0,313.8 303.7,314.0 304.4,313.8 305.1,314.1 305.8,314.4 306.5,314.2 307.2,314.2 307.9,314.2 308.6,314.3 309.3,314.3 310.0,314.1 310.0,314.2 310.7,314.1 311.4,314.1 312.1,313.4 312.8,313.3 313.5,313.6 314.2,313.6 314.9,313.7 315.6,313.5 316.3,313.4 317.0,313.0 317.7,313.2 318.4,313.1 319.1,313.4 319.8,313.1 320.5,313.7 321.2,313.6 321.9,313.9 322.6,314.0 323.3,314.0 324.0,314.0 324.7,313.6 325.4,313.5 326.1,313.8 326.8,313.8 327.5,314.2 328.0,314.4" fill="none" stroke="#bcbd22" stroke-width="1.0" stroke-linejoin="round"/>
<polyline points="72.6,420.0 73.2,395.6 73.3,394.9 74.0,386.5 74.5,378.7 74.7,375.5 75.4,368.4 75.8,364.3 76.1,362.9 76.8,360.9 77.5,356.8 77.6,356.1 78.2,349.7 78.9,340.6 79.0,339.2 79.6,333.6 80.3,327.6 80.5,324.9 81.0,325.4 81.7,324.5 82.4,321.2 83.1,317.9 83.8,315.2 83.8,316.0 84.5,315.3 85.2,313.6 85.9,314.0 86.5,312.1 86.6,311.2 87.3,310.8 88.0,310.0 88.7,309.3 89.1,309.1 89.4,309.1 90.1,309.4 90.8,310.4 91.5,311.8 92.2,312.8 92.9,312.8 93.6,313.3 94.0,313.9 94.3,313.3 95.0,314.8 95.7,316.0 96.4,316.2 97.1,316.9 97.8,316.5 98.3,316.2 98.5,316.6 99.2,316.7 99.9,316.9 100.6,317.4 101.0,317.7 101.3,318.6 102.0,319.7 102.7,321.1 103.4,322.4 103.5,322.1 104.1,322.2 104.8,322.0 105.5,321.7 106.0,320.5 106.2,320.0 106.9,318.8 107.6,317.3 108.3,316.6 108.8,315.7 109.0,315.0 109.7,314.3 110.4,314.2 111.1,314.9 111.8,315.5 112.5,316.0 113.2,315.6 113.9,315.8 114.0,316.1 114.6,316.5 115.3,316.4 116.0,317.1 116.7,316.9 117.4,316.6 118.1,315.9 118.8,314.7 119.0,314.8 119.5,315.0 120.2,315.4 120.9,315.6 121.6,315.5 122.3,316.0 123.0,315.9 123.7,316.0 124.4,315.9 124.6,316.0 125.1,315.5 125.8,315.1 126.5,314.5 127.2,314.6 127.9,314.3 128.6,314.2 129.3,314.4 130.0,314.4 130.0,314.3 130.7,314.8 131.4,315.3 132.1,315.2 132.8,314.9 133.5,314.2 134.2,313.4 134.9,313.7 135.6,313.8 136.3,313.4 137.0,312.8 137.7,312.0 137.7,312.3 138.4,311.9 139.1,312.0 139.8,312.5 140.5,312.4 141.2,312.6 141.9,312.8 142.6,313.4 143.3,313.8 144.0,313.1 144.7,312.5 145.4,312.1 146.1,312.5 146.8,312.7 147.5,312.6 148.2,312.9 148.9,312.9 149.6,313.4 150.0,313.5 150.3,312.8 151.0,311.9 151.7,311.5 152.4,312.2 153.1,312.7 153.8,313.3 154.5,313.2 155.2,312.7 155.9,312.6 156.6,312.4 157.3,312.0 158.0,312.1 158.7,312.1 159.4,311.9 160.1,311.7 160.8,311.9 161.5,312.3 162.0,312.4 162.2,312.7 162.9,312.3 163.6,311.9 164.3,311.5 165.0,311.2 165.7,311.3 166.4,311.7 167.1,311.5 167.8,311.2 168.5,310.9 169.2,310.7 169.9,310.5 170.6,311.0 171.3,310.9 172.0,310.9 172.7,311.0 173.4,311.1 174.1,311.0 174.8,310.7 175.5,310.3 176.2,309.9 176.9,310.2 177.6,309.8 178.3,309.7 179.0,309.4 179.7,309.3 180.0,309.4 180.4,309.1 181.1,309.3 181.8,309.1 182.5,309.1 183.2,308.9 183.9,309.3 184.6,309.3 185.3,309.2 186.0,309.3 186.7,309.4 187.4,309.2 188.1,309.3 188.8,309.0 189.5,308.7 190.2,308.4 190.9,308.4 191.6,308.3 192.3,308.4 193.0,308.5 193.7,308.8 194.4,308.7 195.1,308.7 195.8,308.4 196.5,308.4 197.2,308.6 197.9,308.5 198.6,308.2 199.3,308.0 200.0,307.5 200.0,307.6 200.7,307.8 201.4,308.3 202.1,308.6 202.8,308.5 203.5,308.1 204.2,307.1 204.9,307.2 205.6,306.9 206.3,306.8 207.0,306.7 207.7,306.4 208.4,306.2 209.1,306.0 209.8,305.5 210.5,305.4 211.2,305.4 211.9,305.4 212.0,305.5 212.6,305.4 213.3,305.5 214.0,305.0 214.7,304.7 215.4,304.5 216.1,304.4 216.8,304.0 217.5,303.9 218.2,303.8 218.9,303.8 219.6,303.5 220.3,303.6 221.0,303.6 221.7,303.9 222.4,303.7 223.0,303.8 223.1,303.5 223.8,303.8 224.5,303.7 225.2,303.3 225.9,303.1 226.6,303.0 227.3,302.8 228.0,303.0 228.7,303.2 229.4,303.3 230.1,303.4 230.8,303.6 231.5,303.6 232.2,303.3 232.3,303.2 232.9,303.2 233.6,302.7 234.3,302.5 235.0,302.6 235.7,302.7 236.4,302.5 237.1,302.5 237.8,302.7 238.5,302.8 239.2,303.0 239.9,303.3 240.0,303.2 240.6,303.6 241.3,303.9 242.0,304.1 242.7,304.4 243.4,304.8 244.1,305.0 244.8,304.7 245.5,304.3 246.2,304.1 246.9,304.4 247.6,304.4 248.3,304.5 249.0,304.7 249.7,304.9 250.0,304.9 250.4,305.1 251.1,305.1 251.8,304.8 252.5,304.6 253.2,304.6 253.9,304.5 254.6,304.8 255.3,304.6 256.0,304.4 256.7,304.1 257.4,303.9 258.1,304.6 258.8,304.9 259.5,305.2 260.2,305.3 260.9,305.1 261.6,304.8 262.3,305.0 263.0,305.0 263.7,305.2 264.4,305.2 265.1,304.9 265.8,305.1 266.5,305.1 267.2,304.8 267.9,305.0 268.6,305.1 269.3,305.2 270.0,305.1 270.0,305.2 270.7,305.4 271.4,304.9 272.1,304.9 272.8,305.0 273.5,304.6 274.2,304.6 274.9,304.6 275.6,305.0 276.3,305.0 277.0,305.4 277.7,305.6 278.4,305.6 279.1,305.6 279.8,305.5 280.5,305.5 281.2,305.4 281.9,305.0 282.6,305.0 283.3,305.3 284.0,305.1 284.7,304.7 285.4,304.8 286.1,304.7 286.8,304.6 287.5,304.8 288.2,304.9 288.9,304.8 289.6,304.6 290.0,304.8 290.3,304.9 291.0,305.3 291.7,305.3 292.4,305.1 293.1,305.1 293.8,304.7 294.5,305.0 295.2,305.1 295.9,305.0 296.6,305.1 297.3,304.8 298.0,305.0 298.7,305.0 299.4,305.0 300.1,305.2 300.8,305.6 301.5,305.3 302.2,305.5 302.9,305.8 303.6,305.7 304.3,305.6 305.0,305.5 305.7,305.5 306.4,305.4 307.1,305.6 307.8,305.7 308.5,305.7 309.2,306.1 309.9,306.1 310.0,305.9 310.6,306.1 311.3,306.1 312.0,306.4 312.7,306.5 313.4,306.3 314.1,306.2 314.8,306.1 315.5,305.5 316.2,305.4 316.9,305.0 317.6,305.3 318.3,305.6 319.0,305.7 319.7,305.6 320.4,305.5 321.1,305.3 321.8,305.4 322.5,305.8 323.2,305.9 323.9,305.8 324.6,305.1 325.3,304.3 326.0,304.5 326.7,304.9 327.4,305.1 328.0,305.1" fill="none" stroke="#17becf" stroke-width="1.0" stroke-linejoin="round"/>
<line x1="72.30" y1="309.86" x2="328.50" y2="309.86" stroke="#ff0000" stroke-width="2.6" stroke-dasharray="7.6 3.75"/>
</g>
<g clip-path="url(#clipD)">
<polyline points="428.5,119.7 430.8,306.9 433.1,282.1 435.5,390.9 437.8,320.2 440.1,306.9 442.4,339.4 444.7,319.3 447.1,329.1 449.4,298.2 451.7,332.7 454.0,327.1 456.4,346.5 458.7,344.5 461.0,312.3 463.3,341.8 465.6,321.8 468.0,356.5 470.3,332.4 472.6,351.7 474.9,338.4 477.2,321.8 479.6,357.9 481.9,333.2 484.2,333.0 486.5,343.6 488.8,334.6 491.2,337.4 493.5,328.3 495.8,342.3 498.1,329.5 500.5,335.5 502.8,295.4 505.1,333.1 507.4,316.2 509.7,346.3 512.1,315.7 514.4,343.0 516.7,320.2 519.0,318.3 521.3,320.2 523.7,319.3 526.0,320.2 528.3,322.2 530.6,303.1 532.9,347.3 535.3,316.2 537.6,315.4 539.9,336.1 542.2,339.2 544.5,321.7 546.9,323.5 549.2,333.4 551.5,326.6 553.8,314.7 556.2,319.2 558.5,323.4 560.8,338.6 563.1,324.7 565.4,322.6 567.8,331.2 570.1,331.9 572.4,333.0 574.7,331.5 577.0,332.3 579.4,330.2 581.7,317.4 584.0,338.3 586.3,316.7 588.6,328.3 591.0,326.6 593.3,335.4 595.6,329.1 597.9,310.7 600.3,333.1 602.6,321.5 604.9,324.5 607.2,320.1 609.5,332.6 611.9,331.4 614.2,327.2 616.5,330.4 618.8,320.3 621.1,328.9 623.5,325.5 625.8,327.5 628.1,317.6 630.4,336.1 632.7,329.1 635.1,320.0 637.4,331.6 639.7,323.6 642.0,335.6 644.4,325.0 646.7,325.2 649.0,340.1 651.3,329.5 653.6,323.7 656.0,310.3 658.3,331.7" fill="none" stroke="#1f77b4" stroke-width="1.2" stroke-linejoin="round"/>
<polyline points="428.5,119.7 430.8,177.0 433.1,352.7 435.5,350.8 437.8,310.7 440.1,339.4 442.4,306.9 444.7,305.0 447.1,345.1 449.4,326.0 451.7,339.4 454.0,337.9 456.4,360.4 458.7,360.4 461.0,332.9 463.3,350.0 465.6,330.4 468.0,334.1 470.3,293.5 472.6,337.1 474.9,331.9 477.2,333.8 479.6,330.8 481.9,335.6 484.2,351.9 486.5,336.6 488.8,330.4 491.2,345.1 493.5,338.8 495.8,332.0 498.1,335.7 500.5,326.5 502.8,332.5 505.1,337.9 507.4,331.1 509.7,357.8 512.1,331.0 514.4,334.6 516.7,351.6 519.0,328.1 521.3,331.2 523.7,323.3 526.0,330.9 528.3,315.6 530.6,323.6 532.9,346.7 535.3,326.5 537.6,332.6 539.9,328.1 542.2,334.8 544.5,322.3 546.9,325.2 549.2,342.6 551.5,315.7 553.8,338.0 556.2,315.7 558.5,327.5 560.8,329.1 563.1,357.9 565.4,326.4 567.8,357.9 570.1,326.2 572.4,312.5 574.7,323.9 577.0,323.0 579.4,328.2 581.7,324.1 584.0,311.7 586.3,337.9 588.6,318.5 591.0,328.4 593.3,336.7 595.6,329.1 597.9,329.1 600.3,325.3 602.6,317.3 604.9,331.5 607.2,339.5 609.5,319.5 611.9,331.9 614.2,338.0 616.5,339.5 618.8,330.9 621.1,324.3 623.5,347.0 625.8,321.7 628.1,331.9 630.4,325.3 632.7,324.1 635.1,312.6 637.4,335.8 639.7,312.3 642.0,346.4 644.4,322.6 646.7,336.5 649.0,317.0 651.3,340.4 653.6,330.4 656.0,334.6 658.3,310.7" fill="none" stroke="#ff7f0e" stroke-width="1.2" stroke-linejoin="round"/>
<polyline points="428.5,119.7 430.8,157.9 433.1,196.1 435.5,245.8 437.8,257.2 440.1,293.5 442.4,390.0 444.7,375.6 447.1,329.8 449.4,331.2 451.7,325.0 454.0,349.5 456.4,330.6 458.7,340.3 461.0,349.3 463.3,291.6 465.6,293.5 468.0,310.7 470.3,358.9 472.6,315.5 474.9,328.6 477.2,322.8 479.6,343.8 481.9,327.8 484.2,344.1 486.5,324.9 488.8,283.0 491.2,341.1 493.5,329.8 495.8,326.5 498.1,330.2 500.5,342.3 502.8,318.2 505.1,334.7 507.4,331.8 509.7,333.5 512.1,312.6 514.4,325.3 516.7,347.2 519.0,335.4 521.3,347.4 523.7,322.0 526.0,331.1 528.3,334.6 530.6,340.1 532.9,314.8 535.3,320.5 537.6,318.3 539.9,333.4 542.2,326.9 544.5,328.8 546.9,330.4 549.2,340.0 551.5,330.3 553.8,352.7 556.2,330.9 558.5,331.4 560.8,329.1 563.1,310.7 565.4,319.7 567.8,321.7 570.1,328.7 572.4,336.9 574.7,323.3 577.0,332.0 579.4,321.7 581.7,322.2 584.0,335.1 586.3,315.3 588.6,331.9 591.0,325.8 593.3,332.9 595.6,327.6 597.9,327.3 600.3,329.6 602.6,303.1 604.9,330.3 607.2,311.4 609.5,335.2 611.9,319.5 614.2,315.5 616.5,349.5 618.8,296.4 621.1,338.9 623.5,328.3 625.8,317.7 628.1,320.1 630.4,335.0 632.7,331.8 635.1,333.3 637.4,323.3 639.7,328.2 642.0,321.8 644.4,330.9 646.7,330.8 649.0,326.0 651.3,332.9 653.6,321.1 656.0,327.1 658.3,316.4" fill="none" stroke="#2ca02c" stroke-width="1.2" stroke-linejoin="round"/>
<polyline points="428.5,119.7 430.8,234.3 433.1,274.4 435.5,310.7 437.8,358.5 440.1,326.0 442.4,299.2 444.7,375.6 447.1,310.7 449.4,287.8 451.7,322.2 454.0,343.3 456.4,293.5 458.7,334.6 461.0,362.3 463.3,341.9 465.6,328.0 468.0,343.0 470.3,336.9 472.6,364.2 474.9,368.0 477.2,366.1 479.6,384.0 481.9,364.2 484.2,354.6 486.5,356.5 488.8,352.7 491.2,347.0 493.5,354.6 495.8,304.0 498.1,352.7 500.5,321.6 502.8,327.9 505.1,330.0 507.4,354.1 509.7,323.8 512.1,352.6 514.4,317.8 516.7,356.8 519.0,336.2 521.3,327.5 523.7,345.8 526.0,350.7 528.3,334.0 530.6,326.1 532.9,342.8 535.3,335.8 537.6,326.7 539.9,331.1 542.2,318.3 544.5,325.8 546.9,358.5 549.2,333.6 551.5,317.4 553.8,338.1 556.2,334.2 558.5,321.8 560.8,335.5 563.1,339.0 565.4,318.7 567.8,324.2 570.1,337.7 572.4,327.1 574.7,331.6 577.0,327.8 579.4,331.1 581.7,337.4 584.0,324.4 586.3,331.5 588.6,325.7 591.0,324.0 593.3,323.6 595.6,326.4 597.9,346.9 600.3,328.5 602.6,327.1 604.9,322.4 607.2,337.1 609.5,330.2 611.9,315.0 614.2,350.4 616.5,322.4 618.8,334.6 621.1,328.5 623.5,330.3 625.8,322.6 628.1,323.1 630.4,307.9 632.7,322.3 635.1,330.3 637.4,325.3 639.7,321.4 642.0,311.3 644.4,334.9 646.7,322.5 649.0,331.0 651.3,318.4 653.6,340.7 656.0,322.3 658.3,330.9" fill="none" stroke="#d62728" stroke-width="1.2" stroke-linejoin="round"/>
<polyline points="428.5,119.7 430.8,177.0 433.1,253.4 435.5,320.2 437.8,339.4 440.1,329.8 442.4,310.7 444.7,264.9 447.1,339.4 449.4,349.0 451.7,336.2 454.0,309.6 456.4,346.4 458.7,329.6 461.0,322.3 463.3,334.4 465.6,358.5 468.0,310.1 470.3,332.3 472.6,344.5 474.9,323.0 477.2,345.2 479.6,334.6 481.9,322.0 484.2,360.4 486.5,336.5 488.8,340.2 491.2,330.7 493.5,338.8 495.8,321.7 498.1,336.2 500.5,335.1 502.8,304.0 505.1,341.0 507.4,337.7 509.7,343.5 512.1,340.1 514.4,343.2 516.7,329.5 519.0,333.4 521.3,325.7 523.7,343.5 526.0,331.7 528.3,336.5 530.6,313.1 532.9,335.4 535.3,324.4 537.6,321.4 539.9,330.5 542.2,329.8 544.5,333.2 546.9,330.3 549.2,328.5 551.5,330.7 553.8,329.5 556.2,309.1 558.5,347.2 560.8,340.8 563.1,319.7 565.4,317.5 567.8,332.8 570.1,319.7 572.4,318.0 574.7,333.1 577.0,324.4 579.4,311.7 581.7,330.1 584.0,330.1 586.3,321.4 588.6,318.7 591.0,325.8 593.3,335.2 595.6,309.7 597.9,329.4 600.3,327.2 602.6,323.5 604.9,340.7 607.2,331.3 609.5,312.8 611.9,329.4 614.2,324.0 616.5,339.8 618.8,315.6 621.1,327.8 623.5,338.9 625.8,333.2 628.1,320.9 630.4,340.1 632.7,318.7 635.1,334.9 637.4,320.0 639.7,323.3 642.0,314.9 644.4,345.7 646.7,332.6 649.0,326.8 651.3,314.5 653.6,328.2 656.0,337.9 658.3,346.2" fill="none" stroke="#9467bd" stroke-width="1.2" stroke-linejoin="round"/>
<line x1="428.50" y1="381.18" x2="660.60" y2="381.18" stroke="#ff0000" stroke-width="2.4" stroke-dasharray="7.8 3.6"/>
</g>
<path d="M73.0 8.5H329.0M73.0 198.5H329.0" fill="none" stroke="#808080" stroke-width="1.1"/>
<path d="M73.5 8.0V199.0M328.5 8.0V199.0" fill="none" stroke="#4a4a4a" stroke-width="1"/>
<path d="M411.0 8.5H668.0M411.0 198.5H668.0" fill="none" stroke="#808080" stroke-width="1.1"/>
<path d="M411.5 8.0V199.0M667.5 8.0V199.0" fill="none" stroke="#4a4a4a" stroke-width="1"/>
<path d="M72.0 229.5H329.0M72.0 420.5H329.0" fill="none" stroke="#808080" stroke-width="1.1"/>
<path d="M72.5 229.0V421.0M328.5 229.0V421.0" fill="none" stroke="#4a4a4a" stroke-width="1"/>
<path d="M416.0 234.5H673.0M416.0 425.5H673.0" fill="none" stroke="#808080" stroke-width="1.1"/>
<path d="M416.5 234.0V426.0M672.5 234.0V426.0" fill="none" stroke="#4a4a4a" stroke-width="1"/>
<line x1="70.7" y1="198.20" x2="73.5" y2="198.20" stroke="#404040" stroke-width="1"/>
<text transform="translate(67.60,202.80) scale(1.03,1)" text-anchor="end" font-size="13" fill="#262626" stroke="#262626" stroke-width="0.25">0.0</text>
<line x1="70.7" y1="174.48" x2="73.5" y2="174.48" stroke="#404040" stroke-width="1"/>
<text transform="translate(67.60,179.08) scale(1.03,1)" text-anchor="end" font-size="13" fill="#262626" stroke="#262626" stroke-width="0.25">0.2</text>
<line x1="70.7" y1="150.76" x2="73.5" y2="150.76" stroke="#404040" stroke-width="1"/>
<text transform="translate(67.60,155.36) scale(1.03,1)" text-anchor="end" font-size="13" fill="#262626" stroke="#262626" stroke-width="0.25">0.4</text>
<line x1="70.7" y1="127.04" x2="73.5" y2="127.04" stroke="#404040" stroke-width="1"/>
<text transform="translate(67.60,131.64) scale(1.03,1)" text-anchor="end" font-size="13" fill="#262626" stroke="#262626" stroke-width="0.25">0.6</text>
<line x1="70.7" y1="103.32" x2="73.5" y2="103.32" stroke="#404040" stroke-width="1"/>
<text transform="translate(67.60,107.92) scale(1.03,1)" text-anchor="end" font-size="13" fill="#262626" stroke="#262626" stroke-width="0.25">0.8</text>
<line x1="70.7" y1="79.60" x2="73.5" y2="79.60" stroke="#404040" stroke-width="1"/>
<text transform="translate(67.60,84.20) scale(1.03,1)" text-anchor="end" font-size="13" fill="#262626" stroke="#262626" stroke-width="0.25">1.0</text>
<line x1="70.7" y1="55.88" x2="73.5" y2="55.88" stroke="#404040" stroke-width="1"/>
<text transform="translate(67.60,60.48) scale(1.03,1)" text-anchor="end" font-size="13" fill="#262626" stroke="#262626" stroke-width="0.25">1.2</text>
<line x1="70.7" y1="32.16" x2="73.5" y2="32.16" stroke="#404040" stroke-width="1"/>
<text transform="translate(67.60,36.76) scale(1.03,1)" text-anchor="end" font-size="13" fill="#262626" stroke="#262626" stroke-width="0.25">1.4</text>
<line x1="408.7" y1="198.30" x2="411.5" y2="198.30" stroke="#404040" stroke-width="1"/>
<text transform="translate(406.00,202.90) scale(1.03,1)" text-anchor="end" font-size="13" fill="#262626" stroke="#262626" stroke-width="0.25">0</text>
<line x1="408.7" y1="166.64" x2="411.5" y2="166.64" stroke="#404040" stroke-width="1"/>
<text transform="translate(406.00,171.24) scale(1.03,1)" text-anchor="end" font-size="13" fill="#262626" stroke="#262626" stroke-width="0.25">0.2</text>
<line x1="408.7" y1="134.98" x2="411.5" y2="134.98" stroke="#404040" stroke-width="1"/>
<text transform="translate(406.00,139.58) scale(1.03,1)" text-anchor="end" font-size="13" fill="#262626" stroke="#262626" stroke-width="0.25">0.4</text>
<line x1="408.7" y1="103.32" x2="411.5" y2="103.32" stroke="#404040" stroke-width="1"/>
<text transform="translate(406.00,107.92) scale(1.03,1)" text-anchor="end" font-size="13" fill="#262626" stroke="#262626" stroke-width="0.25">0.6</text>
<line x1="408.7" y1="71.66" x2="411.5" y2="71.66" stroke="#404040" stroke-width="1"/>
<text transform="translate(406.00,76.26) scale(1.03,1)" text-anchor="end" font-size="13" fill="#262626" stroke="#262626" stroke-width="0.25">0.8</text>
<line x1="408.7" y1="40.00" x2="411.5" y2="40.00" stroke="#404040" stroke-width="1"/>
<text transform="translate(406.00,44.60) scale(1.03,1)" text-anchor="end" font-size="13" fill="#262626" stroke="#262626" stroke-width="0.25">1.0</text>
<line x1="408.7" y1="8.34" x2="411.5" y2="8.34" stroke="#404040" stroke-width="1"/>
<text transform="translate(406.00,12.94) scale(1.03,1)" text-anchor="end" font-size="13" fill="#262626" stroke="#262626" stroke-width="0.25">1.2</text>
<line x1="69.7" y1="406.80" x2="72.5" y2="406.80" stroke="#404040" stroke-width="1"/>
<rect x="39.30" y="406.20" width="7.7" height="1.2" fill="#262626"/>
<text transform="translate(66.60,411.40) scale(1.03,1)" text-anchor="end" font-size="13" fill="#262626" stroke="#262626" stroke-width="0.25">0.4</text>
<line x1="69.7" y1="377.20" x2="72.5" y2="377.20" stroke="#404040" stroke-width="1"/>
<rect x="39.30" y="376.60" width="7.7" height="1.2" fill="#262626"/>
<text transform="translate(66.60,381.80) scale(1.03,1)" text-anchor="end" font-size="13" fill="#262626" stroke="#262626" stroke-width="0.25">0.2</text>
<line x1="69.7" y1="347.60" x2="72.5" y2="347.60" stroke="#404040" stroke-width="1"/>
<text transform="translate(66.60,352.20) scale(1.03,1)" text-anchor="end" font-size="13" fill="#262626" stroke="#262626" stroke-width="0.25">0.0</text>
<line x1="69.7" y1="318.00" x2="72.5" y2="318.00" stroke="#404040" stroke-width="1"/>
<text transform="translate(66.60,322.60) scale(1.03,1)" text-anchor="end" font-size="13" fill="#262626" stroke="#262626" stroke-width="0.25">0.2</text>
<line x1="69.7" y1="288.40" x2="72.5" y2="288.40" stroke="#404040" stroke-width="1"/>
<text transform="translate(66.60,293.00) scale(1.03,1)" text-anchor="end" font-size="13" fill="#262626" stroke="#262626" stroke-width="0.25">0.4</text>
<line x1="69.7" y1="258.80" x2="72.5" y2="258.80" stroke="#404040" stroke-width="1"/>
<text transform="translate(66.60,263.40) scale(1.03,1)" text-anchor="end" font-size="13" fill="#262626" stroke="#262626" stroke-width="0.25">0.6</text>
<line x1="69.7" y1="229.20" x2="72.5" y2="229.20" stroke="#404040" stroke-width="1"/>
<text transform="translate(66.60,233.80) scale(1.03,1)" text-anchor="end" font-size="13" fill="#262626" stroke="#262626" stroke-width="0.25">0.8</text>
<line x1="413.7" y1="425.30" x2="416.5" y2="425.30" stroke="#404040" stroke-width="1"/>
<text transform="translate(410.60,429.90) scale(1.03,1)" text-anchor="end" font-size="13" fill="#262626" stroke="#262626" stroke-width="0.25">0.0</text>
<line x1="413.7" y1="387.10" x2="416.5" y2="387.10" stroke="#404040" stroke-width="1"/>
<text transform="translate(410.60,391.70) scale(1.03,1)" text-anchor="end" font-size="13" fill="#262626" stroke="#262626" stroke-width="0.25">0.2</text>
<line x1="413.7" y1="348.90" x2="416.5" y2="348.90" stroke="#404040" stroke-width="1"/>
<text transform="translate(410.60,353.50) scale(1.03,1)" text-anchor="end" font-size="13" fill="#262626" stroke="#262626" stroke-width="0.25">0.4</text>
<line x1="413.7" y1="310.70" x2="416.5" y2="310.70" stroke="#404040" stroke-width="1"/>
<text transform="translate(410.60,315.30) scale(1.03,1)" text-anchor="end" font-size="13" fill="#262626" stroke="#262626" stroke-width="0.25">0.6</text>
<line x1="413.7" y1="272.50" x2="416.5" y2="272.50" stroke="#404040" stroke-width="1"/>
<text transform="translate(410.60,277.10) scale(1.03,1)" text-anchor="end" font-size="13" fill="#262626" stroke="#262626" stroke-width="0.25">0.8</text>
<line x1="413.7" y1="234.30" x2="416.5" y2="234.30" stroke="#404040" stroke-width="1"/>
<text transform="translate(410.60,238.90) scale(1.03,1)" text-anchor="end" font-size="13" fill="#262626" stroke="#262626" stroke-width="0.25">1.0</text>
<line x1="73.50" y1="198.5" x2="73.50" y2="201.3" stroke="#404040" stroke-width="1"/>
<text transform="translate(73.50,213.80) scale(1.15,1)" text-anchor="middle" font-size="14" fill="#262626" stroke="#262626" stroke-width="0.25">0</text>
<line x1="124.46" y1="198.5" x2="124.46" y2="201.3" stroke="#404040" stroke-width="1"/>
<text transform="translate(124.46,213.80) scale(1.15,1)" text-anchor="middle" font-size="14" fill="#262626" stroke="#262626" stroke-width="0.25">1000</text>
<line x1="175.42" y1="198.5" x2="175.42" y2="201.3" stroke="#404040" stroke-width="1"/>
<text transform="translate(175.42,213.80) scale(1.15,1)" text-anchor="middle" font-size="14" fill="#262626" stroke="#262626" stroke-width="0.25">2000</text>
<line x1="226.38" y1="198.5" x2="226.38" y2="201.3" stroke="#404040" stroke-width="1"/>
<text transform="translate(226.38,213.80) scale(1.15,1)" text-anchor="middle" font-size="14" fill="#262626" stroke="#262626" stroke-width="0.25">3000</text>
<line x1="277.34" y1="198.5" x2="277.34" y2="201.3" stroke="#404040" stroke-width="1"/>
<text transform="translate(277.34,213.80) scale(1.15,1)" text-anchor="middle" font-size="14" fill="#262626" stroke="#262626" stroke-width="0.25">4000</text>
<line x1="328.30" y1="198.5" x2="328.30" y2="201.3" stroke="#404040" stroke-width="1"/>
<text transform="translate(328.30,213.80) scale(1.15,1)" text-anchor="middle" font-size="14" fill="#262626" stroke="#262626" stroke-width="0.25">5000</text>
<line x1="72.30" y1="420.5" x2="72.30" y2="423.3" stroke="#404040" stroke-width="1"/>
<text transform="translate(72.30,437.20) scale(1.15,1)" text-anchor="middle" font-size="14" fill="#262626" stroke="#262626" stroke-width="0.25">0</text>
<line x1="123.54" y1="420.5" x2="123.54" y2="423.3" stroke="#404040" stroke-width="1"/>
<text transform="translate(123.54,437.20) scale(1.15,1)" text-anchor="middle" font-size="14" fill="#262626" stroke="#262626" stroke-width="0.25">1000</text>
<line x1="174.78" y1="420.5" x2="174.78" y2="423.3" stroke="#404040" stroke-width="1"/>
<text transform="translate(174.78,437.20) scale(1.15,1)" text-anchor="middle" font-size="14" fill="#262626" stroke="#262626" stroke-width="0.25">2000</text>
<line x1="226.02" y1="420.5" x2="226.02" y2="423.3" stroke="#404040" stroke-width="1"/>
<text transform="translate(226.02,437.20) scale(1.15,1)" text-anchor="middle" font-size="14" fill="#262626" stroke="#262626" stroke-width="0.25">3000</text>
<line x1="277.26" y1="420.5" x2="277.26" y2="423.3" stroke="#404040" stroke-width="1"/>
<text transform="translate(277.26,437.20) scale(1.15,1)" text-anchor="middle" font-size="14" fill="#262626" stroke="#262626" stroke-width="0.25">4000</text>
<line x1="328.50" y1="420.5" x2="328.50" y2="423.3" stroke="#404040" stroke-width="1"/>
<text transform="translate(328.50,437.20) scale(1.15,1)" text-anchor="middle" font-size="14" fill="#262626" stroke="#262626" stroke-width="0.25">5000</text>
<line x1="428.50" y1="425.5" x2="428.50" y2="428.3" stroke="#404040" stroke-width="1"/>
<text transform="translate(428.50,441.00) scale(1.15,1)" text-anchor="middle" font-size="14" fill="#262626" stroke="#262626" stroke-width="0.25">0</text>
<line x1="474.92" y1="425.5" x2="474.92" y2="428.3" stroke="#404040" stroke-width="1"/>
<text transform="translate(474.92,441.00) scale(1.15,1)" text-anchor="middle" font-size="14" fill="#262626" stroke="#262626" stroke-width="0.25">2000</text>
<line x1="521.34" y1="425.5" x2="521.34" y2="428.3" stroke="#404040" stroke-width="1"/>
<text transform="translate(521.34,441.00) scale(1.15,1)" text-anchor="middle" font-size="14" fill="#262626" stroke="#262626" stroke-width="0.25">4000</text>
<line x1="567.76" y1="425.5" x2="567.76" y2="428.3" stroke="#404040" stroke-width="1"/>
<text transform="translate(567.76,441.00) scale(1.15,1)" text-anchor="middle" font-size="14" fill="#262626" stroke="#262626" stroke-width="0.25">6000</text>
<line x1="614.18" y1="425.5" x2="614.18" y2="428.3" stroke="#404040" stroke-width="1"/>
<text transform="translate(614.18,441.00) scale(1.15,1)" text-anchor="middle" font-size="14" fill="#262626" stroke="#262626" stroke-width="0.25">8000</text>
<line x1="660.60" y1="425.5" x2="660.60" y2="428.3" stroke="#404040" stroke-width="1"/>
<text transform="translate(660.60,441.00) scale(1.15,1)" text-anchor="middle" font-size="14" fill="#262626" stroke="#262626" stroke-width="0.25">10000</text>
<line x1="423.90" y1="198.5" x2="423.90" y2="201.3" stroke="#404040" stroke-width="1"/>
<text transform="translate(423.30,211.81) rotate(15) scale(1.13,1)" text-anchor="middle" y="5.0" font-size="14" fill="#262626" stroke="#262626" stroke-width="0.25">0</text>
<line x1="462.50" y1="198.5" x2="462.50" y2="201.3" stroke="#404040" stroke-width="1"/>
<text transform="translate(461.90,214.02) rotate(15) scale(1.13,1)" text-anchor="middle" y="5.0" font-size="14" fill="#262626" stroke="#262626" stroke-width="0.25">500</text>
<line x1="501.10" y1="198.5" x2="501.10" y2="201.3" stroke="#404040" stroke-width="1"/>
<text transform="translate(500.50,215.13) rotate(15) scale(1.13,1)" text-anchor="middle" y="5.0" font-size="14" fill="#262626" stroke="#262626" stroke-width="0.25">1000</text>
<line x1="539.70" y1="198.5" x2="539.70" y2="201.3" stroke="#404040" stroke-width="1"/>
<text transform="translate(539.10,215.13) rotate(15) scale(1.13,1)" text-anchor="middle" y="5.0" font-size="14" fill="#262626" stroke="#262626" stroke-width="0.25">1500</text>
<line x1="578.30" y1="198.5" x2="578.30" y2="201.3" stroke="#404040" stroke-width="1"/>
<text transform="translate(577.70,215.13) rotate(15) scale(1.13,1)" text-anchor="middle" y="5.0" font-size="14" fill="#262626" stroke="#262626" stroke-width="0.25">2000</text>
<line x1="616.90" y1="198.5" x2="616.90" y2="201.3" stroke="#404040" stroke-width="1"/>
<text transform="translate(616.30,215.13) rotate(15) scale(1.13,1)" text-anchor="middle" y="5.0" font-size="14" fill="#262626" stroke="#262626" stroke-width="0.25">2500</text>
<line x1="655.50" y1="198.5" x2="655.50" y2="201.3" stroke="#404040" stroke-width="1"/>
<text transform="translate(654.90,215.13) rotate(15) scale(1.13,1)" text-anchor="middle" y="5.0" font-size="14" fill="#262626" stroke="#262626" stroke-width="0.25">3000</text>
<rect x="239.5" y="13.5" width="83.19999999999999" height="20.799999999999997" rx="2" ry="2" fill="#fff" fill-opacity="0.8" stroke="#d9d9d9" stroke-width="0.8"/>
<line x1="244.4" y1="23.0" x2="268.0" y2="23.0" stroke="#ff0000" stroke-width="2.8" stroke-dasharray="8.3 3.1"/>
<rect x="573.6" y="14.6" width="87.60000000000002" height="20.799999999999997" rx="2" ry="2" fill="#fff" fill-opacity="0.8" stroke="#d9d9d9" stroke-width="0.8"/>
<line x1="577.8" y1="24.2" x2="602.6" y2="24.2" stroke="#ff0000" stroke-width="2.8" stroke-dasharray="8.2 3.5"/>
<rect x="239.5" y="235.1" width="83.19999999999999" height="20.5" rx="2" ry="2" fill="#fff" fill-opacity="0.8" stroke="#d9d9d9" stroke-width="0.8"/>
<line x1="244.4" y1="244.0" x2="268.0" y2="244.0" stroke="#ff0000" stroke-width="2.8" stroke-dasharray="8.3 3.1"/>
<rect x="578.6" y="240.6" width="87.60000000000002" height="21.099999999999994" rx="2" ry="2" fill="#fff" fill-opacity="0.8" stroke="#d9d9d9" stroke-width="0.8"/>
<line x1="583.0" y1="250.5" x2="607.8" y2="250.5" stroke="#ff0000" stroke-width="2.8" stroke-dasharray="8.2 3.5"/>
<g transform="translate(1.07,17.9) scale(0.9175,0.9588)"><text font-size="24">A</text></g>
<g transform="translate(358.61,17.9) scale(0.8462,0.9588)"><text font-size="24">B</text></g>
<g transform="translate(2.08,238.7) scale(0.82,0.9882)"><text font-size="24">C</text></g>
<g transform="translate(357.43,238.4) scale(0.9357,0.9647)"><text font-size="24">D</text></g>
<g transform="translate(113.27,32.3) scale(1.3132,1.0143)"><text font-size="20">FSRM</text></g>
<g transform="translate(113.5,262.0) scale(1.3019,1.0143)"><text font-size="20">FSRM</text></g>
<g transform="translate(456.9,32.6) scale(1.2,1.0357)"><text font-size="20">CS</text></g>
<g transform="translate(456.9,262.1) scale(1.2,1.0643)"><text font-size="20">CS</text></g>
<g transform="translate(201.0,465.6) scale(0.9368,1.0056)"><text class="serifb" font-size="27">N</text></g>
<g transform="translate(539.0,465.1) scale(0.9263,0.9778)"><text class="serifb" font-size="27">N</text></g>
<g transform="translate(276.5,27.3) scale(1.1824,1.0)"><text font-size="11" fill="#262626" stroke="#262626" stroke-width="0.35">true p2</text></g>
<g transform="translate(612.4,28.66) scale(1.2441,1.12)"><text font-size="11" fill="#262626" stroke="#262626" stroke-width="0.35">true p2</text></g>
<g transform="translate(276.7,248.52) scale(1.2029,1.04)"><text font-size="11" fill="#262626" stroke="#262626" stroke-width="0.35">true p3</text></g>
<g transform="translate(617.5,254.9) scale(1.2618,1.15)"><text font-size="11" fill="#262626" stroke="#262626" stroke-width="0.35">ture p3</text></g>
<g transform="translate(39.49,116.42) scale(0.9682,0.9793)"><text transform="rotate(-90)" font-size="29"><tspan font-style="italic">p</tspan><tspan font-size="21" dx="1.0" dy="5.5">2</tspan></text></g>
<g transform="translate(377.74,116.41) scale(0.9773,0.9862)"><text transform="rotate(-90)" font-size="29"><tspan font-style="italic">p</tspan><tspan font-size="21" dx="1.0" dy="5.5">2</tspan></text></g>
<g transform="translate(27.82,338.78) scale(1.0136,1.0207)"><text transform="rotate(-90)" font-size="29"><tspan font-style="italic">p</tspan><tspan font-size="21" dx="1.0" dy="5.5">3</tspan></text></g>
<g transform="translate(382.66,343.42) scale(0.9727,0.9793)"><text transform="rotate(-90)" font-size="29"><tspan font-style="italic">p</tspan><tspan font-size="21" dx="1.0" dy="5.5">3</tspan></text></g>
</svg></body></html>
